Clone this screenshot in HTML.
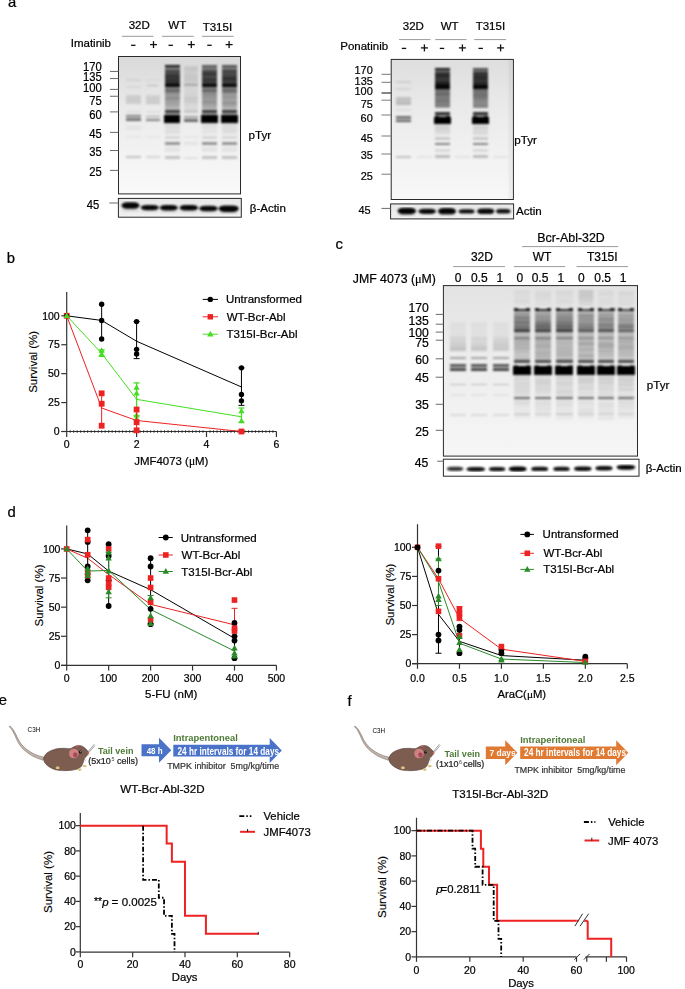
<!DOCTYPE html>
<html><head><meta charset="utf-8"><style>
html,body{margin:0;padding:0;background:#fff;}
body{width:685px;height:989px;overflow:hidden;}
svg{display:block;}
text{font-family:"Liberation Sans", sans-serif;filter:url(#tb);}
</style></head><body>
<svg width="685" height="989" viewBox="0 0 685 989">
<defs>
<filter id="bl" x="-5%" y="-5%" width="110%" height="110%"><feGaussianBlur stdDeviation="1.3 0.95"/></filter>
<filter id="bl2" x="-20%" y="-20%" width="140%" height="140%"><feGaussianBlur stdDeviation="1.2"/></filter>
<filter id="tb" x="-5%" y="-20%" width="110%" height="140%"><feGaussianBlur stdDeviation="0.3"/></filter>
</defs>
<rect width="685" height="989" fill="#fff"/>
<text x="7.97" y="7.40" font-size="14.8" fill="#000" stroke="#000" stroke-width="0.22" >a</text>
<text x="6.85" y="262.60" font-size="14.8" fill="#000" stroke="#000" stroke-width="0.22" >b</text>
<text x="335.47" y="249.20" font-size="14.8" fill="#000" stroke="#000" stroke-width="0.22" >c</text>
<text x="7.48" y="516.70" font-size="14.8" fill="#000" stroke="#000" stroke-width="0.22" >d</text>
<text x="-1.27" y="704.50" font-size="14.8" fill="#000" stroke="#000" stroke-width="0.22" >e</text>
<text x="347.47" y="705.70" font-size="14.8" fill="#000" stroke="#000" stroke-width="0.22" >f</text>
<text x="128.71" y="29.40" font-size="11.5" fill="#000" stroke="#000" stroke-width="0.22" >32D</text>
<text x="168.37" y="29.40" font-size="11.5" fill="#000" stroke="#000" stroke-width="0.22" >WT</text>
<text x="202.70" y="30.80" font-size="11.5" fill="#000" stroke="#000" stroke-width="0.22" >T315I</text>
<line x1="121.90" y1="36.30" x2="153.50" y2="36.30" stroke="#9a9a9a" stroke-width="1" />
<line x1="162.00" y1="36.30" x2="193.80" y2="36.30" stroke="#9a9a9a" stroke-width="1" />
<line x1="202.00" y1="36.30" x2="233.60" y2="36.30" stroke="#9a9a9a" stroke-width="1" />
<text x="70.74" y="47.00" font-size="11.5" fill="#000" stroke="#000" stroke-width="0.22" >Imatinib</text>
<rect x="131.10" y="44.65" width="4.40" height="1.30" fill="#111" />
<rect x="168.50" y="44.65" width="4.40" height="1.30" fill="#111" />
<rect x="207.30" y="44.65" width="4.40" height="1.30" fill="#111" />
<rect x="150.00" y="43.95" width="7.00" height="1.30" fill="#111" />
<rect x="152.85" y="41.10" width="1.30" height="7.00" fill="#111" />
<rect x="187.80" y="43.95" width="7.00" height="1.30" fill="#111" />
<rect x="190.65" y="41.10" width="1.30" height="7.00" fill="#111" />
<rect x="225.60" y="43.95" width="7.00" height="1.30" fill="#111" />
<rect x="228.45" y="41.10" width="1.30" height="7.00" fill="#111" />
<defs><linearGradient id="ga" x1="0" y1="0" x2="0" y2="1"><stop offset="0" stop-color="#d9d9d9"/><stop offset="0.38" stop-color="#eaeaea"/><stop offset="1" stop-color="#fafafa"/></linearGradient><clipPath id="gac"><rect x="118.5" y="56.5" width="122.0" height="137.4"/></clipPath></defs>
<rect x="118.50" y="56.50" width="122.00" height="137.40" fill="url(#ga)" />
<g clip-path="url(#gac)"><g filter="url(#bl)" shape-rendering="crispEdges">
<rect x="125.80" y="79.00" width="15.00" height="2.00" fill="#000" opacity="0.07"/>
<rect x="125.80" y="86.00" width="15.00" height="1.50" fill="#000" opacity="0.06"/>
<rect x="125.80" y="94.50" width="15.00" height="1.00" fill="#000" opacity="0.11054107700110086"/>
<rect x="125.80" y="95.50" width="15.00" height="1.00" fill="#000" opacity="0.10238428376880346"/>
<rect x="125.80" y="96.50" width="15.00" height="1.00" fill="#000" opacity="0.1346116239379468"/>
<rect x="125.80" y="97.50" width="15.00" height="1.00" fill="#000" opacity="0.10212395497783033"/>
<rect x="125.80" y="98.50" width="15.00" height="1.00" fill="#000" opacity="0.13215292025840136"/>
<rect x="125.80" y="99.50" width="15.00" height="1.00" fill="#000" opacity="0.12416355723697738"/>
<rect x="125.80" y="100.50" width="15.00" height="1.00" fill="#000" opacity="0.10792437993092685"/>
<rect x="125.80" y="101.50" width="15.00" height="1.00" fill="#000" opacity="0.1371128106580319"/>
<rect x="125.80" y="102.50" width="15.00" height="1.00" fill="#000" opacity="0.11113862839540799"/>
<rect x="125.80" y="111.00" width="15.00" height="2.00" fill="#000" opacity="0.06"/>
<rect x="125.80" y="115.20" width="15.00" height="2.20" fill="#000" opacity="0.45"/>
<rect x="125.80" y="118.30" width="15.00" height="2.70" fill="#000" opacity="0.5"/>
<rect x="125.80" y="126.00" width="15.00" height="4.00" fill="#000" opacity="0.04"/>
<rect x="125.80" y="136.00" width="15.00" height="2.00" fill="#000" opacity="0.04"/>
<rect x="125.80" y="156.00" width="15.00" height="2.30" fill="#000" opacity="0.2"/>
<rect x="145.80" y="79.00" width="14.00" height="2.00" fill="#000" opacity="0.04"/>
<rect x="147.20" y="84.50" width="11.20" height="1.50" fill="#000" opacity="0.2"/>
<rect x="145.80" y="94.50" width="14.00" height="1.00" fill="#000" opacity="0.10712985213085426"/>
<rect x="145.80" y="95.50" width="14.00" height="1.00" fill="#000" opacity="0.08752465874781049"/>
<rect x="145.80" y="96.50" width="14.00" height="1.00" fill="#000" opacity="0.09099833635618745"/>
<rect x="145.80" y="97.50" width="14.00" height="1.00" fill="#000" opacity="0.11324892912632863"/>
<rect x="145.80" y="98.50" width="14.00" height="1.00" fill="#000" opacity="0.13961112748032228"/>
<rect x="145.80" y="99.50" width="14.00" height="1.00" fill="#000" opacity="0.09965033989120096"/>
<rect x="145.80" y="100.50" width="14.00" height="1.00" fill="#000" opacity="0.10783878232086531"/>
<rect x="145.80" y="101.50" width="14.00" height="1.00" fill="#000" opacity="0.13431266001100203"/>
<rect x="145.80" y="102.50" width="14.00" height="1.00" fill="#000" opacity="0.1557514254363092"/>
<rect x="145.80" y="111.00" width="14.00" height="2.00" fill="#000" opacity="0.05"/>
<rect x="145.80" y="115.50" width="14.00" height="1.80" fill="#000" opacity="0.35"/>
<rect x="145.80" y="118.50" width="14.00" height="2.50" fill="#000" opacity="0.45"/>
<rect x="145.80" y="136.00" width="14.00" height="2.00" fill="#000" opacity="0.03"/>
<rect x="145.80" y="156.00" width="14.00" height="2.30" fill="#000" opacity="0.13"/>
<rect x="164.70" y="65.40" width="15.00" height="2.00" fill="#000" opacity="0.9"/>
<rect x="164.70" y="67.40" width="15.00" height="2.10" fill="#000" opacity="0.45"/>
<rect x="164.70" y="69.50" width="15.00" height="1.00" fill="#000" opacity="0.7252804797649227"/>
<rect x="164.70" y="70.50" width="15.00" height="1.00" fill="#000" opacity="0.636731318649129"/>
<rect x="164.70" y="71.50" width="15.00" height="1.00" fill="#000" opacity="0.6989237512485428"/>
<rect x="164.70" y="72.50" width="15.00" height="1.00" fill="#000" opacity="0.6352386783689694"/>
<rect x="164.70" y="73.50" width="15.00" height="1.00" fill="#000" opacity="0.7441559163558482"/>
<rect x="164.70" y="74.50" width="15.00" height="1.00" fill="#000" opacity="0.7678485799733605"/>
<rect x="164.70" y="75.50" width="15.00" height="1.00" fill="#000" opacity="0.7454772538926573"/>
<rect x="164.70" y="76.50" width="15.00" height="1.00" fill="#000" opacity="0.8021454154101836"/>
<rect x="164.70" y="77.50" width="15.00" height="1.00" fill="#000" opacity="0.7205444296419024"/>
<rect x="164.70" y="78.50" width="15.00" height="1.00" fill="#000" opacity="0.789867948258958"/>
<rect x="164.70" y="79.50" width="15.00" height="1.00" fill="#000" opacity="0.7819957320609409"/>
<rect x="164.70" y="80.50" width="15.00" height="1.00" fill="#000" opacity="0.7879556464783023"/>
<rect x="164.70" y="81.50" width="15.00" height="1.00" fill="#000" opacity="0.776441128870295"/>
<rect x="164.70" y="82.50" width="15.00" height="1.00" fill="#000" opacity="0.8461189828130411"/>
<rect x="164.70" y="83.50" width="15.00" height="0.50" fill="#000" opacity="0.8690800097000287"/>
<rect x="164.70" y="84.00" width="15.00" height="2.80" fill="#000" opacity="0.96"/>
<rect x="164.70" y="86.80" width="15.00" height="1.70" fill="#000" opacity="0.42"/>
<rect x="164.70" y="88.50" width="15.00" height="3.00" fill="#000" opacity="0.55"/>
<rect x="164.70" y="91.50" width="15.00" height="1.50" fill="#000" opacity="0.42"/>
<rect x="164.70" y="93.00" width="15.00" height="1.00" fill="#000" opacity="0.3548918004903573"/>
<rect x="164.70" y="94.00" width="15.00" height="1.00" fill="#000" opacity="0.37369826465696093"/>
<rect x="164.70" y="95.00" width="15.00" height="1.00" fill="#000" opacity="0.29728033131166637"/>
<rect x="164.70" y="96.00" width="15.00" height="1.00" fill="#000" opacity="0.37017904255653084"/>
<rect x="164.70" y="97.00" width="15.00" height="1.00" fill="#000" opacity="0.3596554625433202"/>
<rect x="164.70" y="98.00" width="15.00" height="1.00" fill="#000" opacity="0.39717151273599605"/>
<rect x="164.70" y="99.00" width="15.00" height="1.00" fill="#000" opacity="0.3726309743931657"/>
<rect x="164.70" y="100.00" width="15.00" height="1.00" fill="#000" opacity="0.3041514638512979"/>
<rect x="164.70" y="101.00" width="15.00" height="1.00" fill="#000" opacity="0.3122949730936053"/>
<rect x="164.70" y="102.00" width="15.00" height="1.00" fill="#000" opacity="0.3422383259061026"/>
<rect x="164.70" y="103.00" width="15.00" height="1.00" fill="#000" opacity="0.2607075513666706"/>
<rect x="164.70" y="104.00" width="15.00" height="1.00" fill="#000" opacity="0.3094034343559719"/>
<rect x="164.70" y="105.00" width="15.00" height="1.00" fill="#000" opacity="0.2701658054687853"/>
<rect x="164.70" y="106.00" width="15.00" height="1.00" fill="#000" opacity="0.2600514953378078"/>
<rect x="164.70" y="107.00" width="15.00" height="1.00" fill="#000" opacity="0.24907453031975724"/>
<rect x="164.70" y="108.00" width="15.00" height="1.80" fill="#000" opacity="0.2"/>
<rect x="164.70" y="109.80" width="15.00" height="3.10" fill="#000" opacity="0.74"/>
<rect x="164.70" y="112.90" width="15.00" height="2.10" fill="#000" opacity="0.3"/>
<rect x="163.95" y="115.00" width="16.50" height="7.70" fill="#000" opacity="1.0"/>
<rect x="164.70" y="114.70" width="4.20" height="8.30" fill="#000" opacity="0.85"/>
<rect x="175.50" y="114.70" width="4.20" height="8.30" fill="#000" opacity="0.85"/>
<rect x="164.70" y="123.00" width="15.00" height="1.00" fill="#000" opacity="0.08936568317526447"/>
<rect x="164.70" y="124.00" width="15.00" height="1.00" fill="#000" opacity="0.06108269978983828"/>
<rect x="164.70" y="125.00" width="15.00" height="1.00" fill="#000" opacity="0.06308641152969476"/>
<rect x="164.70" y="126.00" width="15.00" height="1.00" fill="#000" opacity="0.06609253357987455"/>
<rect x="164.70" y="127.00" width="15.00" height="1.00" fill="#000" opacity="0.0825841516923247"/>
<rect x="164.70" y="128.00" width="15.00" height="1.00" fill="#000" opacity="0.048223252048005545"/>
<rect x="164.70" y="129.00" width="15.00" height="1.00" fill="#000" opacity="0.06024022331070051"/>
<rect x="164.70" y="130.00" width="15.00" height="1.00" fill="#000" opacity="0.06152305091121605"/>
<rect x="164.70" y="131.00" width="15.00" height="1.00" fill="#000" opacity="0.07215353487584232"/>
<rect x="164.70" y="132.00" width="15.00" height="1.00" fill="#000" opacity="0.06686210260433874"/>
<rect x="164.70" y="133.00" width="15.00" height="1.00" fill="#000" opacity="0.06592301515157697"/>
<rect x="164.70" y="136.00" width="15.00" height="2.50" fill="#000" opacity="0.1"/>
<rect x="164.70" y="142.20" width="15.00" height="3.00" fill="#000" opacity="0.38"/>
<rect x="164.70" y="147.00" width="15.00" height="5.00" fill="#000" opacity="0.06"/>
<rect x="164.70" y="155.50" width="15.00" height="3.00" fill="#000" opacity="0.2"/>
<rect x="183.60" y="66.00" width="14.00" height="1.00" fill="#000" opacity="0.09545951025038325"/>
<rect x="183.60" y="67.00" width="14.00" height="1.00" fill="#000" opacity="0.08630082847904681"/>
<rect x="183.60" y="68.00" width="14.00" height="1.00" fill="#000" opacity="0.12274197300224186"/>
<rect x="183.60" y="69.00" width="14.00" height="1.00" fill="#000" opacity="0.0686282941703987"/>
<rect x="183.60" y="70.00" width="14.00" height="1.00" fill="#000" opacity="0.11900810754292077"/>
<rect x="183.60" y="71.00" width="14.00" height="1.00" fill="#000" opacity="0.08654322384656724"/>
<rect x="183.60" y="72.00" width="14.00" height="1.00" fill="#000" opacity="0.07948863833477958"/>
<rect x="183.60" y="73.00" width="14.00" height="1.00" fill="#000" opacity="0.07956753428470209"/>
<rect x="183.60" y="74.00" width="14.00" height="1.00" fill="#000" opacity="0.09267557611278272"/>
<rect x="183.60" y="75.00" width="14.00" height="1.00" fill="#000" opacity="0.12480091488053521"/>
<rect x="183.60" y="76.00" width="14.00" height="1.00" fill="#000" opacity="0.08834358279543625"/>
<rect x="183.60" y="77.00" width="14.00" height="1.00" fill="#000" opacity="0.11406267648641463"/>
<rect x="183.60" y="78.00" width="14.00" height="1.00" fill="#000" opacity="0.11916814146890436"/>
<rect x="183.60" y="79.00" width="14.00" height="1.00" fill="#000" opacity="0.10484385256354387"/>
<rect x="183.60" y="80.00" width="14.00" height="1.00" fill="#000" opacity="0.11703133460924015"/>
<rect x="183.60" y="81.00" width="14.00" height="1.00" fill="#000" opacity="0.08960067183173272"/>
<rect x="183.60" y="82.00" width="14.00" height="1.00" fill="#000" opacity="0.09107607019797395"/>
<rect x="183.60" y="83.00" width="14.00" height="1.00" fill="#000" opacity="0.10152418943582625"/>
<rect x="183.60" y="84.40" width="14.00" height="1.60" fill="#000" opacity="0.28"/>
<rect x="183.60" y="86.50" width="14.00" height="1.00" fill="#000" opacity="0.07721599892727145"/>
<rect x="183.60" y="87.50" width="14.00" height="1.00" fill="#000" opacity="0.06710369222677612"/>
<rect x="183.60" y="88.50" width="14.00" height="1.00" fill="#000" opacity="0.06256588681507166"/>
<rect x="183.60" y="89.50" width="14.00" height="1.00" fill="#000" opacity="0.07342247454030555"/>
<rect x="183.60" y="90.50" width="14.00" height="1.00" fill="#000" opacity="0.06812737505483102"/>
<rect x="183.60" y="91.50" width="14.00" height="1.00" fill="#000" opacity="0.0619906798745473"/>
<rect x="183.60" y="92.50" width="14.00" height="1.00" fill="#000" opacity="0.08177517926089965"/>
<rect x="183.60" y="93.50" width="14.00" height="1.00" fill="#000" opacity="0.07795977734918286"/>
<rect x="183.60" y="94.50" width="14.00" height="1.00" fill="#000" opacity="0.05976386042888612"/>
<rect x="183.60" y="95.50" width="14.00" height="0.50" fill="#000" opacity="0.07297694841034685"/>
<rect x="183.60" y="96.00" width="14.00" height="7.00" fill="#000" opacity="0.12"/>
<rect x="183.60" y="103.00" width="14.00" height="1.00" fill="#000" opacity="0.07100786015245807"/>
<rect x="183.60" y="104.00" width="14.00" height="1.00" fill="#000" opacity="0.08500549982293716"/>
<rect x="183.60" y="105.00" width="14.00" height="1.00" fill="#000" opacity="0.07917781157756872"/>
<rect x="183.60" y="106.00" width="14.00" height="1.00" fill="#000" opacity="0.061517510595607464"/>
<rect x="183.60" y="107.00" width="14.00" height="1.00" fill="#000" opacity="0.0892069938997033"/>
<rect x="183.60" y="108.00" width="14.00" height="1.00" fill="#000" opacity="0.05472263113019849"/>
<rect x="183.60" y="109.00" width="14.00" height="0.50" fill="#000" opacity="0.0667249128714091"/>
<rect x="183.60" y="110.20" width="14.00" height="2.60" fill="#000" opacity="0.15"/>
<rect x="183.60" y="115.60" width="14.00" height="2.00" fill="#000" opacity="0.32"/>
<rect x="183.60" y="119.20" width="14.00" height="2.60" fill="#000" opacity="0.55"/>
<rect x="183.60" y="136.00" width="14.00" height="2.00" fill="#000" opacity="0.04"/>
<rect x="183.60" y="142.00" width="14.00" height="2.50" fill="#000" opacity="0.06"/>
<rect x="183.60" y="156.50" width="14.00" height="2.00" fill="#000" opacity="0.08"/>
<rect x="202.20" y="65.40" width="15.00" height="2.00" fill="#000" opacity="0.5850000000000001"/>
<rect x="202.20" y="67.40" width="15.00" height="2.10" fill="#000" opacity="0.45"/>
<rect x="202.20" y="69.50" width="15.00" height="1.00" fill="#000" opacity="0.6486853013567064"/>
<rect x="202.20" y="70.50" width="15.00" height="1.00" fill="#000" opacity="0.6788612358573201"/>
<rect x="202.20" y="71.50" width="15.00" height="1.00" fill="#000" opacity="0.6780930416254738"/>
<rect x="202.20" y="72.50" width="15.00" height="1.00" fill="#000" opacity="0.770436369593094"/>
<rect x="202.20" y="73.50" width="15.00" height="1.00" fill="#000" opacity="0.7904783719445835"/>
<rect x="202.20" y="74.50" width="15.00" height="1.00" fill="#000" opacity="0.6696645863058879"/>
<rect x="202.20" y="75.50" width="15.00" height="1.00" fill="#000" opacity="0.6819879400067351"/>
<rect x="202.20" y="76.50" width="15.00" height="1.00" fill="#000" opacity="0.6991820642083671"/>
<rect x="202.20" y="77.50" width="15.00" height="1.00" fill="#000" opacity="0.7076786009751447"/>
<rect x="202.20" y="78.50" width="15.00" height="1.00" fill="#000" opacity="0.7562147265097896"/>
<rect x="202.20" y="79.50" width="15.00" height="1.00" fill="#000" opacity="0.7811563123212989"/>
<rect x="202.20" y="80.50" width="15.00" height="1.00" fill="#000" opacity="0.7372118728808696"/>
<rect x="202.20" y="81.50" width="15.00" height="1.00" fill="#000" opacity="0.7041032524036792"/>
<rect x="202.20" y="82.50" width="15.00" height="1.00" fill="#000" opacity="0.778755578111087"/>
<rect x="202.20" y="83.50" width="15.00" height="0.50" fill="#000" opacity="0.7770116061459148"/>
<rect x="202.20" y="84.00" width="15.00" height="2.80" fill="#000" opacity="0.96"/>
<rect x="202.20" y="86.80" width="15.00" height="1.70" fill="#000" opacity="0.42"/>
<rect x="202.20" y="88.50" width="15.00" height="3.00" fill="#000" opacity="0.55"/>
<rect x="202.20" y="91.50" width="15.00" height="1.50" fill="#000" opacity="0.42"/>
<rect x="202.20" y="93.00" width="15.00" height="1.00" fill="#000" opacity="0.365960946844767"/>
<rect x="202.20" y="94.00" width="15.00" height="1.00" fill="#000" opacity="0.40837175106301143"/>
<rect x="202.20" y="95.00" width="15.00" height="1.00" fill="#000" opacity="0.37285923885631733"/>
<rect x="202.20" y="96.00" width="15.00" height="1.00" fill="#000" opacity="0.34785897196849336"/>
<rect x="202.20" y="97.00" width="15.00" height="1.00" fill="#000" opacity="0.35611112992909527"/>
<rect x="202.20" y="98.00" width="15.00" height="1.00" fill="#000" opacity="0.35914400989394013"/>
<rect x="202.20" y="99.00" width="15.00" height="1.00" fill="#000" opacity="0.2804791471868548"/>
<rect x="202.20" y="100.00" width="15.00" height="1.00" fill="#000" opacity="0.3779439612069542"/>
<rect x="202.20" y="101.00" width="15.00" height="1.00" fill="#000" opacity="0.35959633888472875"/>
<rect x="202.20" y="102.00" width="15.00" height="1.00" fill="#000" opacity="0.3669415820961372"/>
<rect x="202.20" y="103.00" width="15.00" height="1.00" fill="#000" opacity="0.35374477454358794"/>
<rect x="202.20" y="104.00" width="15.00" height="1.00" fill="#000" opacity="0.30108546882695225"/>
<rect x="202.20" y="105.00" width="15.00" height="1.00" fill="#000" opacity="0.2978774598784327"/>
<rect x="202.20" y="106.00" width="15.00" height="1.00" fill="#000" opacity="0.25842445124523894"/>
<rect x="202.20" y="107.00" width="15.00" height="1.00" fill="#000" opacity="0.3181147478822851"/>
<rect x="202.20" y="108.00" width="15.00" height="1.80" fill="#000" opacity="0.2"/>
<rect x="202.20" y="109.80" width="15.00" height="3.10" fill="#000" opacity="0.74"/>
<rect x="202.20" y="112.90" width="15.00" height="2.10" fill="#000" opacity="0.3"/>
<rect x="201.45" y="115.00" width="16.50" height="7.70" fill="#000" opacity="1.0"/>
<rect x="202.20" y="114.70" width="4.20" height="8.30" fill="#000" opacity="0.85"/>
<rect x="213.00" y="114.70" width="4.20" height="8.30" fill="#000" opacity="0.85"/>
<rect x="202.20" y="123.00" width="15.00" height="1.00" fill="#000" opacity="0.061126276501111146"/>
<rect x="202.20" y="124.00" width="15.00" height="1.00" fill="#000" opacity="0.058602995542811905"/>
<rect x="202.20" y="125.00" width="15.00" height="1.00" fill="#000" opacity="0.06153234559966476"/>
<rect x="202.20" y="126.00" width="15.00" height="1.00" fill="#000" opacity="0.05694667296542936"/>
<rect x="202.20" y="127.00" width="15.00" height="1.00" fill="#000" opacity="0.06132941881656647"/>
<rect x="202.20" y="128.00" width="15.00" height="1.00" fill="#000" opacity="0.047103024155610684"/>
<rect x="202.20" y="129.00" width="15.00" height="1.00" fill="#000" opacity="0.04228205854878153"/>
<rect x="202.20" y="130.00" width="15.00" height="1.00" fill="#000" opacity="0.04559605183663167"/>
<rect x="202.20" y="131.00" width="15.00" height="1.00" fill="#000" opacity="0.04087675653908568"/>
<rect x="202.20" y="132.00" width="15.00" height="1.00" fill="#000" opacity="0.04863530597229193"/>
<rect x="202.20" y="133.00" width="15.00" height="1.00" fill="#000" opacity="0.03238367183028219"/>
<rect x="202.20" y="136.00" width="15.00" height="2.50" fill="#000" opacity="0.1"/>
<rect x="202.20" y="142.20" width="15.00" height="3.00" fill="#000" opacity="0.38"/>
<rect x="202.20" y="147.00" width="15.00" height="5.00" fill="#000" opacity="0.06"/>
<rect x="202.20" y="155.50" width="15.00" height="3.00" fill="#000" opacity="0.2"/>
<rect x="222.20" y="65.40" width="15.00" height="2.00" fill="#000" opacity="0.63"/>
<rect x="222.20" y="67.40" width="15.00" height="2.10" fill="#000" opacity="0.45"/>
<rect x="222.20" y="69.50" width="15.00" height="1.00" fill="#000" opacity="0.744031111414294"/>
<rect x="222.20" y="70.50" width="15.00" height="1.00" fill="#000" opacity="0.7106648311496049"/>
<rect x="222.20" y="71.50" width="15.00" height="1.00" fill="#000" opacity="0.6444577328253565"/>
<rect x="222.20" y="72.50" width="15.00" height="1.00" fill="#000" opacity="0.6693267582905117"/>
<rect x="222.20" y="73.50" width="15.00" height="1.00" fill="#000" opacity="0.6928237066789372"/>
<rect x="222.20" y="74.50" width="15.00" height="1.00" fill="#000" opacity="0.7037833917038356"/>
<rect x="222.20" y="75.50" width="15.00" height="1.00" fill="#000" opacity="0.6734478603702271"/>
<rect x="222.20" y="76.50" width="15.00" height="1.00" fill="#000" opacity="0.7978988737547799"/>
<rect x="222.20" y="77.50" width="15.00" height="1.00" fill="#000" opacity="0.8292412630589612"/>
<rect x="222.20" y="78.50" width="15.00" height="1.00" fill="#000" opacity="0.7531790031207619"/>
<rect x="222.20" y="79.50" width="15.00" height="1.00" fill="#000" opacity="0.764310096750741"/>
<rect x="222.20" y="80.50" width="15.00" height="1.00" fill="#000" opacity="0.70891395964209"/>
<rect x="222.20" y="81.50" width="15.00" height="1.00" fill="#000" opacity="0.7197982945417759"/>
<rect x="222.20" y="82.50" width="15.00" height="1.00" fill="#000" opacity="0.7665458720499148"/>
<rect x="222.20" y="83.50" width="15.00" height="0.50" fill="#000" opacity="0.7602921371575075"/>
<rect x="222.20" y="84.00" width="15.00" height="2.80" fill="#000" opacity="0.96"/>
<rect x="222.20" y="86.80" width="15.00" height="1.70" fill="#000" opacity="0.42"/>
<rect x="222.20" y="88.50" width="15.00" height="3.00" fill="#000" opacity="0.55"/>
<rect x="222.20" y="91.50" width="15.00" height="1.50" fill="#000" opacity="0.42"/>
<rect x="222.20" y="93.00" width="15.00" height="1.00" fill="#000" opacity="0.39746264537458725"/>
<rect x="222.20" y="94.00" width="15.00" height="1.00" fill="#000" opacity="0.3133726332631718"/>
<rect x="222.20" y="95.00" width="15.00" height="1.00" fill="#000" opacity="0.2927714865254298"/>
<rect x="222.20" y="96.00" width="15.00" height="1.00" fill="#000" opacity="0.40011826874496426"/>
<rect x="222.20" y="97.00" width="15.00" height="1.00" fill="#000" opacity="0.34539088740505497"/>
<rect x="222.20" y="98.00" width="15.00" height="1.00" fill="#000" opacity="0.2955923046678909"/>
<rect x="222.20" y="99.00" width="15.00" height="1.00" fill="#000" opacity="0.3391806911058537"/>
<rect x="222.20" y="100.00" width="15.00" height="1.00" fill="#000" opacity="0.2732450989706602"/>
<rect x="222.20" y="101.00" width="15.00" height="1.00" fill="#000" opacity="0.3293731329125968"/>
<rect x="222.20" y="102.00" width="15.00" height="1.00" fill="#000" opacity="0.37942014912627675"/>
<rect x="222.20" y="103.00" width="15.00" height="1.00" fill="#000" opacity="0.3615990036347603"/>
<rect x="222.20" y="104.00" width="15.00" height="1.00" fill="#000" opacity="0.3375436143089362"/>
<rect x="222.20" y="105.00" width="15.00" height="1.00" fill="#000" opacity="0.2813338236675234"/>
<rect x="222.20" y="106.00" width="15.00" height="1.00" fill="#000" opacity="0.29000397501134145"/>
<rect x="222.20" y="107.00" width="15.00" height="1.00" fill="#000" opacity="0.26204504414412033"/>
<rect x="222.20" y="108.00" width="15.00" height="1.80" fill="#000" opacity="0.2"/>
<rect x="222.20" y="109.80" width="15.00" height="3.10" fill="#000" opacity="0.74"/>
<rect x="222.20" y="112.90" width="15.00" height="2.10" fill="#000" opacity="0.3"/>
<rect x="221.45" y="115.00" width="16.50" height="7.70" fill="#000" opacity="1.0"/>
<rect x="222.20" y="114.70" width="4.20" height="8.30" fill="#000" opacity="0.85"/>
<rect x="233.00" y="114.70" width="4.20" height="8.30" fill="#000" opacity="0.85"/>
<rect x="222.20" y="123.00" width="15.00" height="1.00" fill="#000" opacity="0.08951387997244489"/>
<rect x="222.20" y="124.00" width="15.00" height="1.00" fill="#000" opacity="0.07721278680880607"/>
<rect x="222.20" y="125.00" width="15.00" height="1.00" fill="#000" opacity="0.08434401383534526"/>
<rect x="222.20" y="126.00" width="15.00" height="1.00" fill="#000" opacity="0.06364114525645596"/>
<rect x="222.20" y="127.00" width="15.00" height="1.00" fill="#000" opacity="0.05664893965140014"/>
<rect x="222.20" y="128.00" width="15.00" height="1.00" fill="#000" opacity="0.0774604498709438"/>
<rect x="222.20" y="129.00" width="15.00" height="1.00" fill="#000" opacity="0.08166976929636291"/>
<rect x="222.20" y="130.00" width="15.00" height="1.00" fill="#000" opacity="0.07365060649532097"/>
<rect x="222.20" y="131.00" width="15.00" height="1.00" fill="#000" opacity="0.06906132520960852"/>
<rect x="222.20" y="132.00" width="15.00" height="1.00" fill="#000" opacity="0.06682422682392403"/>
<rect x="222.20" y="133.00" width="15.00" height="1.00" fill="#000" opacity="0.06095855717866493"/>
<rect x="222.20" y="136.00" width="15.00" height="2.50" fill="#000" opacity="0.1"/>
<rect x="222.20" y="142.20" width="15.00" height="3.00" fill="#000" opacity="0.38"/>
<rect x="222.20" y="147.00" width="15.00" height="5.00" fill="#000" opacity="0.06"/>
<rect x="222.20" y="155.50" width="15.00" height="3.00" fill="#000" opacity="0.2"/>
</g></g>
<rect x="118.5" y="56.5" width="122.0" height="137.4" fill="none" stroke="#2a2a2a" stroke-width="1"/>
<defs><linearGradient id="gaa" x1="0" y1="0" x2="0" y2="1"><stop offset="0" stop-color="#e8e8e8"/><stop offset="1" stop-color="#f2f2f2"/></linearGradient><clipPath id="gaac"><rect x="118.4" y="198.4" width="122.9" height="18.799999999999983"/></clipPath></defs>
<rect x="118.40" y="198.40" width="122.90" height="18.80" fill="url(#gaa)" />
<g clip-path="url(#gaac)"><g filter="url(#bl)">
<rect x="121.50" y="202.20" width="18.00" height="6.60" fill="#000" opacity="0.98" rx="5.40" ry="3.30"/>
<rect x="121.50" y="209.50" width="18.00" height="2.00" fill="#000" opacity="0.12" rx="5.40" ry="1.00"/>
<rect x="140.80" y="204.90" width="18.00" height="5.40" fill="#000" opacity="0.97" rx="5.40" ry="2.70"/>
<rect x="140.80" y="210.50" width="18.00" height="1.50" fill="#000" opacity="0.1" rx="5.40" ry="0.75"/>
<rect x="159.80" y="205.00" width="18.00" height="5.50" fill="#000" opacity="0.98" rx="5.40" ry="2.75"/>
<rect x="159.80" y="210.80" width="18.00" height="1.70" fill="#000" opacity="0.12" rx="5.40" ry="0.85"/>
<rect x="179.55" y="205.00" width="18.50" height="5.50" fill="#000" opacity="0.98" rx="5.55" ry="2.75"/>
<rect x="179.55" y="210.80" width="18.50" height="1.70" fill="#000" opacity="0.1" rx="5.55" ry="0.85"/>
<rect x="199.25" y="205.70" width="18.50" height="5.60" fill="#000" opacity="0.97" rx="5.55" ry="2.80"/>
<rect x="199.25" y="211.50" width="18.50" height="1.50" fill="#000" opacity="0.12" rx="5.55" ry="0.75"/>
<rect x="218.70" y="205.40" width="20.00" height="6.60" fill="#000" opacity="0.99" rx="6.00" ry="3.30"/>
<rect x="218.70" y="212.00" width="20.00" height="1.50" fill="#000" opacity="0.15" rx="6.00" ry="0.75"/>
</g></g>
<rect x="118.4" y="198.4" width="122.9" height="18.799999999999983" fill="none" stroke="#2a2a2a" stroke-width="1"/>
<text x="0" y="0" transform="translate(82.96 70.70) scale(0.93 1)" font-size="12.1" fill="#000" stroke="#000" stroke-width="0.22" >170</text>
<text x="0" y="0" transform="translate(83.00 81.40) scale(0.93 1)" font-size="12.1" fill="#000" stroke="#000" stroke-width="0.22" >135</text>
<text x="0" y="0" transform="translate(82.96 91.60) scale(0.93 1)" font-size="12.1" fill="#000" stroke="#000" stroke-width="0.22" >100</text>
<text x="0" y="0" transform="translate(89.26 104.60) scale(0.93 1)" font-size="12.1" fill="#000" stroke="#000" stroke-width="0.22" >75</text>
<text x="0" y="0" transform="translate(89.22 118.60) scale(0.93 1)" font-size="12.1" fill="#000" stroke="#000" stroke-width="0.22" >60</text>
<text x="0" y="0" transform="translate(89.26 138.30) scale(0.93 1)" font-size="12.1" fill="#000" stroke="#000" stroke-width="0.22" >45</text>
<text x="0" y="0" transform="translate(89.26 155.50) scale(0.93 1)" font-size="12.1" fill="#000" stroke="#000" stroke-width="0.22" >35</text>
<text x="0" y="0" transform="translate(89.26 175.70) scale(0.93 1)" font-size="12.1" fill="#000" stroke="#000" stroke-width="0.22" >25</text>
<text x="0" y="0" transform="translate(86.86 208.70) scale(0.93 1)" font-size="12.1" fill="#000" stroke="#000" stroke-width="0.22" >45</text>
<line x1="110.00" y1="71.45" x2="118.50" y2="71.45" stroke="#6a6a6a" stroke-width="1" />
<line x1="110.00" y1="78.55" x2="118.50" y2="78.55" stroke="#6a6a6a" stroke-width="1" />
<line x1="110.00" y1="89.40" x2="118.50" y2="89.40" stroke="#6a6a6a" stroke-width="1" />
<line x1="110.00" y1="96.25" x2="118.50" y2="96.25" stroke="#6a6a6a" stroke-width="1" />
<line x1="110.00" y1="111.90" x2="118.50" y2="111.90" stroke="#6a6a6a" stroke-width="1" />
<line x1="110.00" y1="132.40" x2="118.50" y2="132.40" stroke="#6a6a6a" stroke-width="1" />
<line x1="110.00" y1="150.50" x2="118.50" y2="150.50" stroke="#6a6a6a" stroke-width="1" />
<line x1="110.00" y1="170.40" x2="118.50" y2="170.40" stroke="#6a6a6a" stroke-width="1" />
<line x1="109.40" y1="203.00" x2="118.40" y2="203.00" stroke="#6a6a6a" stroke-width="1" />
<text x="248.55" y="138.60" font-size="11.6" fill="#000" stroke="#000" stroke-width="0.22" >pTyr</text>
<text x="249.80" y="211.60" font-size="11.5" fill="#000" stroke="#000" stroke-width="0.22" >β-Actin</text>
<text x="402.81" y="30.40" font-size="11.5" fill="#000" stroke="#000" stroke-width="0.22" >32D</text>
<text x="440.77" y="30.40" font-size="11.5" fill="#000" stroke="#000" stroke-width="0.22" >WT</text>
<text x="475.70" y="30.00" font-size="11.5" fill="#000" stroke="#000" stroke-width="0.22" >T315I</text>
<line x1="399.00" y1="39.60" x2="430.50" y2="39.60" stroke="#9a9a9a" stroke-width="1" />
<line x1="435.20" y1="39.60" x2="466.50" y2="39.60" stroke="#9a9a9a" stroke-width="1" />
<line x1="474.20" y1="39.60" x2="506.00" y2="39.60" stroke="#9a9a9a" stroke-width="1" />
<text x="340.26" y="49.90" font-size="11.5" fill="#000" stroke="#000" stroke-width="0.22" >Ponatinib</text>
<rect x="401.80" y="47.75" width="4.40" height="1.30" fill="#111" />
<rect x="439.80" y="47.75" width="4.40" height="1.30" fill="#111" />
<rect x="478.50" y="47.75" width="4.40" height="1.30" fill="#111" />
<rect x="420.90" y="47.25" width="7.00" height="1.30" fill="#111" />
<rect x="423.75" y="44.40" width="1.30" height="7.00" fill="#111" />
<rect x="458.90" y="47.25" width="7.00" height="1.30" fill="#111" />
<rect x="461.75" y="44.40" width="1.30" height="7.00" fill="#111" />
<rect x="497.10" y="47.25" width="7.00" height="1.30" fill="#111" />
<rect x="499.95" y="44.40" width="1.30" height="7.00" fill="#111" />
<defs><linearGradient id="gb" x1="0" y1="0" x2="0" y2="1"><stop offset="0" stop-color="#dedede"/><stop offset="0.38" stop-color="#ebebeb"/><stop offset="1" stop-color="#f8f8f8"/></linearGradient><clipPath id="gbc"><rect x="391.2" y="59.4" width="122.19999999999999" height="140.1"/></clipPath></defs>
<rect x="391.20" y="59.40" width="122.20" height="140.10" fill="url(#gb)" />
<g clip-path="url(#gbc)"><g filter="url(#bl)" shape-rendering="crispEdges">
<rect x="396.00" y="81.00" width="15.00" height="2.00" fill="#000" opacity="0.1"/>
<rect x="396.00" y="88.00" width="15.00" height="2.00" fill="#000" opacity="0.08"/>
<rect x="396.00" y="97.00" width="15.00" height="1.00" fill="#000" opacity="0.15126415920252678"/>
<rect x="396.00" y="98.00" width="15.00" height="1.00" fill="#000" opacity="0.18078609793948044"/>
<rect x="396.00" y="99.00" width="15.00" height="1.00" fill="#000" opacity="0.17407000346839666"/>
<rect x="396.00" y="100.00" width="15.00" height="1.00" fill="#000" opacity="0.15419341205930925"/>
<rect x="396.00" y="101.00" width="15.00" height="1.00" fill="#000" opacity="0.16035996603376515"/>
<rect x="396.00" y="102.00" width="15.00" height="1.00" fill="#000" opacity="0.18672848312392237"/>
<rect x="396.00" y="103.00" width="15.00" height="1.00" fill="#000" opacity="0.19135894906142054"/>
<rect x="396.00" y="104.00" width="15.00" height="1.00" fill="#000" opacity="0.23227675533600986"/>
<rect x="396.00" y="109.00" width="15.00" height="2.00" fill="#000" opacity="0.06"/>
<rect x="396.00" y="116.30" width="15.00" height="2.20" fill="#000" opacity="0.5"/>
<rect x="396.00" y="119.60" width="15.00" height="2.80" fill="#000" opacity="0.62"/>
<rect x="396.00" y="155.80" width="15.00" height="1.70" fill="#000" opacity="0.2"/>
<rect x="416.50" y="156.00" width="15.00" height="1.50" fill="#000" opacity="0.06"/>
<rect x="435.10" y="68.20" width="15.00" height="1.80" fill="#000" opacity="0.9"/>
<rect x="435.10" y="70.00" width="15.00" height="1.50" fill="#000" opacity="0.5"/>
<rect x="435.10" y="71.50" width="15.00" height="1.00" fill="#000" opacity="0.7889845744559032"/>
<rect x="435.10" y="72.50" width="15.00" height="1.00" fill="#000" opacity="0.7278292661916891"/>
<rect x="435.10" y="73.50" width="15.00" height="1.00" fill="#000" opacity="0.8065452870192537"/>
<rect x="435.10" y="74.50" width="15.00" height="1.00" fill="#000" opacity="0.823832574525212"/>
<rect x="435.10" y="75.50" width="15.00" height="1.00" fill="#000" opacity="0.8293522622980302"/>
<rect x="435.10" y="76.50" width="15.00" height="1.00" fill="#000" opacity="0.7568461253999367"/>
<rect x="435.10" y="77.50" width="15.00" height="1.00" fill="#000" opacity="0.7468067542049804"/>
<rect x="435.10" y="78.50" width="15.00" height="1.00" fill="#000" opacity="0.757845372264041"/>
<rect x="435.10" y="79.50" width="15.00" height="1.00" fill="#000" opacity="0.7637707469366753"/>
<rect x="435.10" y="80.50" width="15.00" height="1.00" fill="#000" opacity="0.7749890824528741"/>
<rect x="435.10" y="81.50" width="15.00" height="1.00" fill="#000" opacity="0.8438910347717293"/>
<rect x="435.10" y="82.50" width="15.00" height="1.00" fill="#000" opacity="0.8927098339704427"/>
<rect x="435.10" y="83.50" width="15.00" height="1.00" fill="#000" opacity="0.8944725680219991"/>
<rect x="435.10" y="84.50" width="15.00" height="0.80" fill="#000" opacity="0.8530683086621227"/>
<rect x="434.73" y="85.30" width="15.75" height="3.40" fill="#000" opacity="0.98"/>
<rect x="435.10" y="88.70" width="15.00" height="1.00" fill="#000" opacity="0.5388262524226117"/>
<rect x="435.10" y="89.70" width="15.00" height="1.00" fill="#000" opacity="0.5541781035535638"/>
<rect x="435.10" y="90.70" width="15.00" height="1.00" fill="#000" opacity="0.4489156202274055"/>
<rect x="435.10" y="91.70" width="15.00" height="1.00" fill="#000" opacity="0.5243472760027784"/>
<rect x="435.10" y="92.70" width="15.00" height="1.00" fill="#000" opacity="0.5540527370810754"/>
<rect x="435.10" y="93.70" width="15.00" height="1.00" fill="#000" opacity="0.5310249944473078"/>
<rect x="435.10" y="94.70" width="15.00" height="1.00" fill="#000" opacity="0.5213409078995802"/>
<rect x="435.10" y="95.70" width="15.00" height="1.00" fill="#000" opacity="0.47806448061621704"/>
<rect x="435.10" y="96.70" width="15.00" height="1.00" fill="#000" opacity="0.4309515897900582"/>
<rect x="435.10" y="97.70" width="15.00" height="1.00" fill="#000" opacity="0.5112561624153775"/>
<rect x="435.10" y="98.70" width="15.00" height="1.00" fill="#000" opacity="0.44214826290332515"/>
<rect x="435.10" y="99.70" width="15.00" height="1.00" fill="#000" opacity="0.5025298074175575"/>
<rect x="435.10" y="100.70" width="15.00" height="1.00" fill="#000" opacity="0.5212651810792639"/>
<rect x="435.10" y="101.70" width="15.00" height="1.00" fill="#000" opacity="0.4354692027812253"/>
<rect x="435.10" y="102.70" width="15.00" height="1.00" fill="#000" opacity="0.4310646208227217"/>
<rect x="435.10" y="103.70" width="15.00" height="1.00" fill="#000" opacity="0.5022407000760695"/>
<rect x="435.10" y="104.70" width="15.00" height="1.00" fill="#000" opacity="0.46597958520951555"/>
<rect x="435.10" y="105.70" width="15.00" height="1.00" fill="#000" opacity="0.3831269372665317"/>
<rect x="435.10" y="106.70" width="15.00" height="1.00" fill="#000" opacity="0.3719304491419082"/>
<rect x="435.10" y="107.70" width="15.00" height="0.30" fill="#000" opacity="0.3719383001259474"/>
<rect x="435.10" y="111.80" width="15.00" height="2.80" fill="#000" opacity="0.8"/>
<rect x="435.10" y="114.60" width="15.00" height="2.00" fill="#000" opacity="0.35"/>
<rect x="434.20" y="116.60" width="16.80" height="7.00" fill="#000" opacity="1.0"/>
<rect x="435.10" y="116.30" width="4.20" height="7.60" fill="#000" opacity="0.85"/>
<rect x="445.90" y="116.30" width="4.20" height="7.60" fill="#000" opacity="0.85"/>
<rect x="435.10" y="125.00" width="15.00" height="1.00" fill="#000" opacity="0.13279112574399435"/>
<rect x="435.10" y="126.00" width="15.00" height="1.00" fill="#000" opacity="0.12389011892193177"/>
<rect x="435.10" y="127.00" width="15.00" height="1.00" fill="#000" opacity="0.08127045852463247"/>
<rect x="435.10" y="128.00" width="15.00" height="1.00" fill="#000" opacity="0.11909062871152323"/>
<rect x="435.10" y="129.00" width="15.00" height="1.00" fill="#000" opacity="0.12531835660682183"/>
<rect x="435.10" y="130.00" width="15.00" height="1.00" fill="#000" opacity="0.1029360975641612"/>
<rect x="435.10" y="131.00" width="15.00" height="1.00" fill="#000" opacity="0.08152445072945017"/>
<rect x="435.10" y="132.00" width="15.00" height="1.00" fill="#000" opacity="0.09041960263920674"/>
<rect x="435.10" y="133.00" width="15.00" height="1.00" fill="#000" opacity="0.06235903112056703"/>
<rect x="435.10" y="134.00" width="15.00" height="1.00" fill="#000" opacity="0.052354576289366336"/>
<rect x="435.10" y="137.00" width="15.00" height="2.50" fill="#000" opacity="0.16"/>
<rect x="435.10" y="142.60" width="15.00" height="2.80" fill="#000" opacity="0.45"/>
<rect x="435.10" y="148.50" width="15.00" height="3.00" fill="#000" opacity="0.1"/>
<rect x="435.10" y="155.20" width="15.00" height="3.00" fill="#000" opacity="0.22"/>
<rect x="454.90" y="156.00" width="15.00" height="1.50" fill="#000" opacity="0.06"/>
<rect x="473.10" y="68.20" width="15.00" height="1.80" fill="#000" opacity="0.63"/>
<rect x="473.10" y="70.00" width="15.00" height="1.50" fill="#000" opacity="0.5"/>
<rect x="473.10" y="71.50" width="15.00" height="1.00" fill="#000" opacity="0.7909970885814029"/>
<rect x="473.10" y="72.50" width="15.00" height="1.00" fill="#000" opacity="0.7561718450586841"/>
<rect x="473.10" y="73.50" width="15.00" height="1.00" fill="#000" opacity="0.7490836654344475"/>
<rect x="473.10" y="74.50" width="15.00" height="1.00" fill="#000" opacity="0.8162147190848513"/>
<rect x="473.10" y="75.50" width="15.00" height="1.00" fill="#000" opacity="0.7563854950590915"/>
<rect x="473.10" y="76.50" width="15.00" height="1.00" fill="#000" opacity="0.8278411113677919"/>
<rect x="473.10" y="77.50" width="15.00" height="1.00" fill="#000" opacity="0.8316037642396382"/>
<rect x="473.10" y="78.50" width="15.00" height="1.00" fill="#000" opacity="0.7556328837476799"/>
<rect x="473.10" y="79.50" width="15.00" height="1.00" fill="#000" opacity="0.7714887576491345"/>
<rect x="473.10" y="80.50" width="15.00" height="1.00" fill="#000" opacity="0.7873921429680336"/>
<rect x="473.10" y="81.50" width="15.00" height="1.00" fill="#000" opacity="0.7901972540886016"/>
<rect x="473.10" y="82.50" width="15.00" height="1.00" fill="#000" opacity="0.8487678702099013"/>
<rect x="473.10" y="83.50" width="15.00" height="1.00" fill="#000" opacity="0.813122665540728"/>
<rect x="473.10" y="84.50" width="15.00" height="0.80" fill="#000" opacity="0.8446037863711434"/>
<rect x="472.73" y="85.30" width="15.75" height="3.40" fill="#000" opacity="0.98"/>
<rect x="473.10" y="88.70" width="15.00" height="1.00" fill="#000" opacity="0.4657596411353581"/>
<rect x="473.10" y="89.70" width="15.00" height="1.00" fill="#000" opacity="0.5696303671587893"/>
<rect x="473.10" y="90.70" width="15.00" height="1.00" fill="#000" opacity="0.48657639547780857"/>
<rect x="473.10" y="91.70" width="15.00" height="1.00" fill="#000" opacity="0.4960078230801359"/>
<rect x="473.10" y="92.70" width="15.00" height="1.00" fill="#000" opacity="0.5083527659096931"/>
<rect x="473.10" y="93.70" width="15.00" height="1.00" fill="#000" opacity="0.5481041391094608"/>
<rect x="473.10" y="94.70" width="15.00" height="1.00" fill="#000" opacity="0.4752092014225852"/>
<rect x="473.10" y="95.70" width="15.00" height="1.00" fill="#000" opacity="0.53962084818103"/>
<rect x="473.10" y="96.70" width="15.00" height="1.00" fill="#000" opacity="0.4761894009796303"/>
<rect x="473.10" y="97.70" width="15.00" height="1.00" fill="#000" opacity="0.4752326968135696"/>
<rect x="473.10" y="98.70" width="15.00" height="1.00" fill="#000" opacity="0.4688867769044831"/>
<rect x="473.10" y="99.70" width="15.00" height="1.00" fill="#000" opacity="0.3930331892787795"/>
<rect x="473.10" y="100.70" width="15.00" height="1.00" fill="#000" opacity="0.44685064835565375"/>
<rect x="473.10" y="101.70" width="15.00" height="1.00" fill="#000" opacity="0.4056869176896104"/>
<rect x="473.10" y="102.70" width="15.00" height="1.00" fill="#000" opacity="0.37542101377683335"/>
<rect x="473.10" y="103.70" width="15.00" height="1.00" fill="#000" opacity="0.4815729822398954"/>
<rect x="473.10" y="104.70" width="15.00" height="1.00" fill="#000" opacity="0.3886363117306082"/>
<rect x="473.10" y="105.70" width="15.00" height="1.00" fill="#000" opacity="0.4256154354151402"/>
<rect x="473.10" y="106.70" width="15.00" height="1.00" fill="#000" opacity="0.45567213558284014"/>
<rect x="473.10" y="107.70" width="15.00" height="0.30" fill="#000" opacity="0.4286837895588487"/>
<rect x="473.10" y="111.80" width="15.00" height="2.80" fill="#000" opacity="0.8"/>
<rect x="473.10" y="114.60" width="15.00" height="2.00" fill="#000" opacity="0.35"/>
<rect x="472.20" y="116.60" width="16.80" height="7.00" fill="#000" opacity="1.0"/>
<rect x="473.10" y="116.30" width="4.20" height="7.60" fill="#000" opacity="0.85"/>
<rect x="483.90" y="116.30" width="4.20" height="7.60" fill="#000" opacity="0.85"/>
<rect x="473.10" y="125.00" width="15.00" height="1.00" fill="#000" opacity="0.09805892906293184"/>
<rect x="473.10" y="126.00" width="15.00" height="1.00" fill="#000" opacity="0.10660092276218221"/>
<rect x="473.10" y="127.00" width="15.00" height="1.00" fill="#000" opacity="0.10582651249281483"/>
<rect x="473.10" y="128.00" width="15.00" height="1.00" fill="#000" opacity="0.11655634852192853"/>
<rect x="473.10" y="129.00" width="15.00" height="1.00" fill="#000" opacity="0.0728665650262957"/>
<rect x="473.10" y="130.00" width="15.00" height="1.00" fill="#000" opacity="0.09711776801503713"/>
<rect x="473.10" y="131.00" width="15.00" height="1.00" fill="#000" opacity="0.0754096592625854"/>
<rect x="473.10" y="132.00" width="15.00" height="1.00" fill="#000" opacity="0.07411502422788689"/>
<rect x="473.10" y="133.00" width="15.00" height="1.00" fill="#000" opacity="0.1008356659253293"/>
<rect x="473.10" y="134.00" width="15.00" height="1.00" fill="#000" opacity="0.08196283950753924"/>
<rect x="473.10" y="137.00" width="15.00" height="2.50" fill="#000" opacity="0.16"/>
<rect x="473.10" y="142.60" width="15.00" height="2.80" fill="#000" opacity="0.45"/>
<rect x="473.10" y="148.50" width="15.00" height="3.00" fill="#000" opacity="0.1"/>
<rect x="473.10" y="155.20" width="15.00" height="3.00" fill="#000" opacity="0.22"/>
<rect x="493.10" y="156.00" width="15.00" height="1.50" fill="#000" opacity="0.06"/>
<rect x="509.00" y="59.00" width="3.00" height="141.00" fill="#000" opacity="0.06"/>
</g></g>
<rect x="391.2" y="59.4" width="122.19999999999999" height="140.1" fill="none" stroke="#2a2a2a" stroke-width="1"/>
<defs><linearGradient id="gbb" x1="0" y1="0" x2="0" y2="1"><stop offset="0" stop-color="#e8e8e8"/><stop offset="1" stop-color="#f1f1f1"/></linearGradient><clipPath id="gbbc"><rect x="390.6" y="203.9" width="123.0" height="15.0"/></clipPath></defs>
<rect x="390.60" y="203.90" width="123.00" height="15.00" fill="url(#gbb)" />
<g clip-path="url(#gbbc)"><g filter="url(#bl)">
<rect x="397.55" y="207.80" width="18.50" height="6.50" fill="#000" opacity="0.99" rx="5.55" ry="3.25"/>
<rect x="397.55" y="214.30" width="18.50" height="1.50" fill="#000" opacity="0.15" rx="5.55" ry="0.75"/>
<rect x="418.45" y="208.70" width="17.50" height="5.20" fill="#000" opacity="0.96" rx="5.25" ry="2.60"/>
<rect x="438.00" y="208.00" width="18.00" height="6.30" fill="#000" opacity="0.98" rx="5.40" ry="3.15"/>
<rect x="438.00" y="214.30" width="18.00" height="1.50" fill="#000" opacity="0.12" rx="5.40" ry="0.75"/>
<rect x="458.60" y="209.30" width="16.00" height="4.20" fill="#000" opacity="0.95" rx="4.80" ry="2.10"/>
<rect x="477.20" y="208.50" width="17.00" height="5.60" fill="#000" opacity="0.96" rx="5.10" ry="2.80"/>
<rect x="496.05" y="209.00" width="14.50" height="4.60" fill="#000" opacity="0.93" rx="4.35" ry="2.30"/>
</g></g>
<rect x="390.6" y="203.9" width="123.0" height="15.0" fill="none" stroke="#2a2a2a" stroke-width="1"/>
<text x="0" y="0" transform="translate(354.52 74.10) scale(0.93 1)" font-size="11.8" fill="#000" stroke="#000" stroke-width="0.22" >170</text>
<text x="0" y="0" transform="translate(354.55 84.70) scale(0.93 1)" font-size="11.8" fill="#000" stroke="#000" stroke-width="0.22" >135</text>
<text x="0" y="0" transform="translate(354.52 94.90) scale(0.93 1)" font-size="11.8" fill="#000" stroke="#000" stroke-width="0.22" >100</text>
<text x="0" y="0" transform="translate(360.65 107.60) scale(0.93 1)" font-size="11.8" fill="#000" stroke="#000" stroke-width="0.22" >75</text>
<text x="0" y="0" transform="translate(360.62 122.00) scale(0.93 1)" font-size="11.8" fill="#000" stroke="#000" stroke-width="0.22" >60</text>
<text x="0" y="0" transform="translate(360.65 142.10) scale(0.93 1)" font-size="11.8" fill="#000" stroke="#000" stroke-width="0.22" >45</text>
<text x="0" y="0" transform="translate(360.65 159.30) scale(0.93 1)" font-size="11.8" fill="#000" stroke="#000" stroke-width="0.22" >35</text>
<text x="0" y="0" transform="translate(360.65 179.80) scale(0.93 1)" font-size="11.8" fill="#000" stroke="#000" stroke-width="0.22" >25</text>
<text x="0" y="0" transform="translate(358.45 214.20) scale(0.93 1)" font-size="11.8" fill="#000" stroke="#000" stroke-width="0.22" >45</text>
<line x1="381.50" y1="74.30" x2="391.20" y2="74.30" stroke="#7a7a7a" stroke-width="1" />
<line x1="381.50" y1="82.30" x2="391.20" y2="82.30" stroke="#7a7a7a" stroke-width="1" />
<line x1="381.50" y1="100.20" x2="391.20" y2="100.20" stroke="#7a7a7a" stroke-width="1" />
<line x1="381.50" y1="115.00" x2="391.20" y2="115.00" stroke="#7a7a7a" stroke-width="1" />
<line x1="381.50" y1="136.00" x2="391.20" y2="136.00" stroke="#7a7a7a" stroke-width="1" />
<line x1="381.50" y1="154.00" x2="391.20" y2="154.00" stroke="#7a7a7a" stroke-width="1" />
<line x1="381.50" y1="174.20" x2="391.20" y2="174.20" stroke="#7a7a7a" stroke-width="1" />
<line x1="381.50" y1="93.00" x2="391.20" y2="93.00" stroke="#222" stroke-width="1.1" />
<line x1="381.50" y1="208.40" x2="390.60" y2="208.40" stroke="#6a6a6a" stroke-width="1" />
<text x="514.25" y="143.60" font-size="11.6" fill="#000" stroke="#000" stroke-width="0.22" >pTyr</text>
<text x="515.98" y="214.80" font-size="11.6" fill="#000" stroke="#000" stroke-width="0.22" >Actin</text>
<line x1="66.70" y1="291.90" x2="66.70" y2="437.00" stroke="#333" stroke-width="1.2" />
<line x1="61.30" y1="431.50" x2="276.60" y2="431.50" stroke="#333" stroke-width="1.2" />
<line x1="61.30" y1="431.50" x2="66.70" y2="431.50" stroke="#333" stroke-width="1.2" />
<line x1="61.30" y1="402.57" x2="66.70" y2="402.57" stroke="#333" stroke-width="1.2" />
<line x1="61.30" y1="373.65" x2="66.70" y2="373.65" stroke="#333" stroke-width="1.2" />
<line x1="61.30" y1="344.73" x2="66.70" y2="344.73" stroke="#333" stroke-width="1.2" />
<line x1="61.30" y1="315.80" x2="66.70" y2="315.80" stroke="#333" stroke-width="1.2" />
<line x1="136.60" y1="431.50" x2="136.60" y2="437.00" stroke="#333" stroke-width="1.2" />
<line x1="206.50" y1="431.50" x2="206.50" y2="437.00" stroke="#333" stroke-width="1.2" />
<line x1="276.40" y1="431.50" x2="276.40" y2="437.00" stroke="#333" stroke-width="1.2" />
<line x1="70.20" y1="430.20" x2="70.20" y2="432.90" stroke="#222" stroke-width="0.8" />
<line x1="73.69" y1="430.20" x2="73.69" y2="432.90" stroke="#222" stroke-width="0.8" />
<line x1="77.19" y1="430.20" x2="77.19" y2="432.90" stroke="#222" stroke-width="0.8" />
<line x1="80.68" y1="430.20" x2="80.68" y2="432.90" stroke="#222" stroke-width="0.8" />
<line x1="84.18" y1="430.20" x2="84.18" y2="432.90" stroke="#222" stroke-width="0.8" />
<line x1="87.67" y1="430.20" x2="87.67" y2="432.90" stroke="#222" stroke-width="0.8" />
<line x1="91.17" y1="430.20" x2="91.17" y2="432.90" stroke="#222" stroke-width="0.8" />
<line x1="94.66" y1="430.20" x2="94.66" y2="432.90" stroke="#222" stroke-width="0.8" />
<line x1="98.16" y1="430.20" x2="98.16" y2="432.90" stroke="#222" stroke-width="0.8" />
<line x1="101.65" y1="430.20" x2="101.65" y2="432.90" stroke="#222" stroke-width="0.8" />
<line x1="105.15" y1="430.20" x2="105.15" y2="432.90" stroke="#222" stroke-width="0.8" />
<line x1="108.64" y1="430.20" x2="108.64" y2="432.90" stroke="#222" stroke-width="0.8" />
<line x1="112.14" y1="430.20" x2="112.14" y2="432.90" stroke="#222" stroke-width="0.8" />
<line x1="115.63" y1="430.20" x2="115.63" y2="432.90" stroke="#222" stroke-width="0.8" />
<line x1="119.12" y1="430.20" x2="119.12" y2="432.90" stroke="#222" stroke-width="0.8" />
<line x1="122.62" y1="430.20" x2="122.62" y2="432.90" stroke="#222" stroke-width="0.8" />
<line x1="126.12" y1="430.20" x2="126.12" y2="432.90" stroke="#222" stroke-width="0.8" />
<line x1="129.61" y1="430.20" x2="129.61" y2="432.90" stroke="#222" stroke-width="0.8" />
<line x1="133.11" y1="430.20" x2="133.11" y2="432.90" stroke="#222" stroke-width="0.8" />
<line x1="140.10" y1="430.20" x2="140.10" y2="432.90" stroke="#222" stroke-width="0.8" />
<line x1="143.59" y1="430.20" x2="143.59" y2="432.90" stroke="#222" stroke-width="0.8" />
<line x1="147.09" y1="430.20" x2="147.09" y2="432.90" stroke="#222" stroke-width="0.8" />
<line x1="150.58" y1="430.20" x2="150.58" y2="432.90" stroke="#222" stroke-width="0.8" />
<line x1="154.07" y1="430.20" x2="154.07" y2="432.90" stroke="#222" stroke-width="0.8" />
<line x1="157.57" y1="430.20" x2="157.57" y2="432.90" stroke="#222" stroke-width="0.8" />
<line x1="161.06" y1="430.20" x2="161.06" y2="432.90" stroke="#222" stroke-width="0.8" />
<line x1="164.56" y1="430.20" x2="164.56" y2="432.90" stroke="#222" stroke-width="0.8" />
<line x1="168.06" y1="430.20" x2="168.06" y2="432.90" stroke="#222" stroke-width="0.8" />
<line x1="171.55" y1="430.20" x2="171.55" y2="432.90" stroke="#222" stroke-width="0.8" />
<line x1="175.05" y1="430.20" x2="175.05" y2="432.90" stroke="#222" stroke-width="0.8" />
<line x1="178.54" y1="430.20" x2="178.54" y2="432.90" stroke="#222" stroke-width="0.8" />
<line x1="182.04" y1="430.20" x2="182.04" y2="432.90" stroke="#222" stroke-width="0.8" />
<line x1="185.53" y1="430.20" x2="185.53" y2="432.90" stroke="#222" stroke-width="0.8" />
<line x1="189.03" y1="430.20" x2="189.03" y2="432.90" stroke="#222" stroke-width="0.8" />
<line x1="192.52" y1="430.20" x2="192.52" y2="432.90" stroke="#222" stroke-width="0.8" />
<line x1="196.02" y1="430.20" x2="196.02" y2="432.90" stroke="#222" stroke-width="0.8" />
<line x1="199.51" y1="430.20" x2="199.51" y2="432.90" stroke="#222" stroke-width="0.8" />
<line x1="203.01" y1="430.20" x2="203.01" y2="432.90" stroke="#222" stroke-width="0.8" />
<line x1="210.00" y1="430.20" x2="210.00" y2="432.90" stroke="#222" stroke-width="0.8" />
<line x1="213.49" y1="430.20" x2="213.49" y2="432.90" stroke="#222" stroke-width="0.8" />
<line x1="216.99" y1="430.20" x2="216.99" y2="432.90" stroke="#222" stroke-width="0.8" />
<line x1="220.48" y1="430.20" x2="220.48" y2="432.90" stroke="#222" stroke-width="0.8" />
<line x1="223.98" y1="430.20" x2="223.98" y2="432.90" stroke="#222" stroke-width="0.8" />
<line x1="227.47" y1="430.20" x2="227.47" y2="432.90" stroke="#222" stroke-width="0.8" />
<line x1="230.97" y1="430.20" x2="230.97" y2="432.90" stroke="#222" stroke-width="0.8" />
<line x1="234.46" y1="430.20" x2="234.46" y2="432.90" stroke="#222" stroke-width="0.8" />
<line x1="237.96" y1="430.20" x2="237.96" y2="432.90" stroke="#222" stroke-width="0.8" />
<line x1="241.45" y1="430.20" x2="241.45" y2="432.90" stroke="#222" stroke-width="0.8" />
<line x1="244.95" y1="430.20" x2="244.95" y2="432.90" stroke="#222" stroke-width="0.8" />
<line x1="248.44" y1="430.20" x2="248.44" y2="432.90" stroke="#222" stroke-width="0.8" />
<line x1="251.94" y1="430.20" x2="251.94" y2="432.90" stroke="#222" stroke-width="0.8" />
<line x1="255.43" y1="430.20" x2="255.43" y2="432.90" stroke="#222" stroke-width="0.8" />
<line x1="258.93" y1="430.20" x2="258.93" y2="432.90" stroke="#222" stroke-width="0.8" />
<line x1="262.42" y1="430.20" x2="262.42" y2="432.90" stroke="#222" stroke-width="0.8" />
<line x1="265.92" y1="430.20" x2="265.92" y2="432.90" stroke="#222" stroke-width="0.8" />
<line x1="269.41" y1="430.20" x2="269.41" y2="432.90" stroke="#222" stroke-width="0.8" />
<line x1="272.91" y1="430.20" x2="272.91" y2="432.90" stroke="#222" stroke-width="0.8" />
<text x="53.87" y="435.20" font-size="10.5" fill="#000" stroke="#000" stroke-width="0.22" >0</text>
<text x="48.06" y="406.27" font-size="10.5" fill="#000" stroke="#000" stroke-width="0.22" >25</text>
<text x="48.03" y="377.35" font-size="10.5" fill="#000" stroke="#000" stroke-width="0.22" >50</text>
<text x="48.06" y="348.43" font-size="10.5" fill="#000" stroke="#000" stroke-width="0.22" >75</text>
<text x="42.19" y="319.50" font-size="10.5" fill="#000" stroke="#000" stroke-width="0.22" >100</text>
<text x="63.78" y="448.00" font-size="10.5" fill="#000" stroke="#000" stroke-width="0.22" >0</text>
<text x="133.68" y="448.00" font-size="10.5" fill="#000" stroke="#000" stroke-width="0.22" >2</text>
<text x="203.61" y="448.00" font-size="10.5" fill="#000" stroke="#000" stroke-width="0.22" >4</text>
<text x="273.44" y="448.00" font-size="10.5" fill="#000" stroke="#000" stroke-width="0.22" >6</text>
<text x="33.30" y="361.80" font-size="11.5" fill="#000" stroke="#000" stroke-width="0.15" style="filter:none" text-anchor="middle" transform="rotate(-90 33.30 361.80) translate(0 4.14)">Survival (%)</text>
<text x="134.22" y="465.40" font-size="11.45" fill="#000" stroke="#000" stroke-width="0.22" >JMF4073 (<tspan style="font-family:&quot;Liberation Serif&quot;, serif">μ</tspan>M)</text>
<polyline points="66.70,315.80 101.65,320.43 136.60,341.25 241.45,386.96" fill="none" stroke="#000" stroke-width="1" />
<line x1="101.65" y1="304.23" x2="101.65" y2="338.94" stroke="#000" stroke-width="1" />
<line x1="101.65" y1="304.23" x2="101.65" y2="304.23" stroke="#000" stroke-width="1" />
<line x1="101.65" y1="338.94" x2="101.65" y2="338.94" stroke="#000" stroke-width="1" />
<line x1="136.60" y1="321.58" x2="136.60" y2="358.61" stroke="#000" stroke-width="1" />
<line x1="133.60" y1="321.58" x2="139.60" y2="321.58" stroke="#000" stroke-width="1" />
<line x1="133.60" y1="358.61" x2="139.60" y2="358.61" stroke="#000" stroke-width="1" />
<line x1="241.45" y1="367.87" x2="241.45" y2="405.35" stroke="#000" stroke-width="1" />
<line x1="238.45" y1="367.87" x2="244.45" y2="367.87" stroke="#000" stroke-width="1" />
<line x1="238.45" y1="405.35" x2="244.45" y2="405.35" stroke="#000" stroke-width="1" />
<circle cx="101.65" cy="304.23" r="2.7" fill="#000"/>
<circle cx="101.65" cy="320.43" r="2.7" fill="#000"/>
<circle cx="101.65" cy="338.94" r="2.7" fill="#000"/>
<circle cx="136.60" cy="321.58" r="2.7" fill="#000"/>
<circle cx="136.60" cy="349.35" r="2.7" fill="#000"/>
<circle cx="136.60" cy="353.98" r="2.7" fill="#000"/>
<circle cx="241.45" cy="367.87" r="2.7" fill="#000"/>
<circle cx="241.45" cy="394.48" r="2.7" fill="#000"/>
<circle cx="241.45" cy="400.84" r="2.7" fill="#000"/>
<polyline points="66.70,315.80 101.65,353.40 136.60,399.34 241.45,416.81" fill="none" stroke="#44dd22" stroke-width="1" />
<line x1="101.65" y1="349.93" x2="101.65" y2="356.30" stroke="#44dd22" stroke-width="1.3" />
<line x1="98.65" y1="349.93" x2="104.65" y2="349.93" stroke="#44dd22" stroke-width="1.3" />
<line x1="98.65" y1="356.30" x2="104.65" y2="356.30" stroke="#44dd22" stroke-width="1.3" />
<line x1="136.60" y1="382.91" x2="136.60" y2="415.65" stroke="#44dd22" stroke-width="1.3" />
<line x1="133.60" y1="382.91" x2="139.60" y2="382.91" stroke="#44dd22" stroke-width="1.3" />
<line x1="133.60" y1="415.65" x2="139.60" y2="415.65" stroke="#44dd22" stroke-width="1.3" />
<line x1="241.45" y1="408.01" x2="241.45" y2="422.24" stroke="#44dd22" stroke-width="1.3" />
<line x1="238.45" y1="408.01" x2="244.45" y2="408.01" stroke="#44dd22" stroke-width="1.3" />
<line x1="238.45" y1="422.24" x2="244.45" y2="422.24" stroke="#44dd22" stroke-width="1.3" />
<polygon points="101.65,347.16 104.75,352.74 98.55,352.74" fill="#44dd22"/>
<polygon points="101.65,350.86 104.75,356.44 98.55,356.44" fill="#44dd22"/>
<polygon points="136.60,384.19 139.70,389.77 133.50,389.77" fill="#44dd22"/>
<polygon points="136.60,389.97 139.70,395.55 133.50,395.55" fill="#44dd22"/>
<polygon points="136.60,411.95 139.70,417.53 133.50,417.53" fill="#44dd22"/>
<polygon points="136.60,415.43 139.70,421.01 133.50,421.01" fill="#44dd22"/>
<polygon points="241.45,407.79 244.55,413.37 238.35,413.37" fill="#44dd22"/>
<polygon points="241.45,417.74 244.55,423.32 238.35,423.32" fill="#44dd22"/>
<polyline points="66.70,315.80 101.65,408.01 136.60,420.51 241.45,431.50" fill="none" stroke="#ee2222" stroke-width="1" />
<line x1="101.65" y1="393.32" x2="101.65" y2="425.71" stroke="#ee2222" stroke-width="1" />
<line x1="101.65" y1="393.32" x2="101.65" y2="393.32" stroke="#ee2222" stroke-width="1" />
<line x1="101.65" y1="425.71" x2="101.65" y2="425.71" stroke="#ee2222" stroke-width="1" />
<line x1="136.60" y1="409.52" x2="136.60" y2="430.34" stroke="#ee2222" stroke-width="1" />
<line x1="136.60" y1="409.52" x2="136.60" y2="409.52" stroke="#ee2222" stroke-width="1" />
<line x1="136.60" y1="430.34" x2="136.60" y2="430.34" stroke="#ee2222" stroke-width="1" />
<rect x="98.75" y="390.42" width="5.80" height="5.80" fill="#ee2222" />
<rect x="98.75" y="400.83" width="5.80" height="5.80" fill="#ee2222" />
<rect x="98.75" y="422.81" width="5.80" height="5.80" fill="#ee2222" />
<rect x="133.70" y="406.62" width="5.80" height="5.80" fill="#ee2222" />
<rect x="133.70" y="419.34" width="5.80" height="5.80" fill="#ee2222" />
<rect x="133.70" y="427.44" width="5.80" height="5.80" fill="#ee2222" />
<rect x="238.55" y="428.60" width="5.80" height="5.80" fill="#ee2222" />
<rect x="63.80" y="312.90" width="5.80" height="5.80" fill="#ee2222" />
<circle cx="66.70" cy="315.80" r="2.4" fill="#000"/>
<polygon points="66.70,312.45 69.80,318.03 63.60,318.03" fill="#44dd22"/>
<line x1="202.70" y1="299.40" x2="218.00" y2="299.40" stroke="#000" stroke-width="1" />
<circle cx="210.30" cy="299.40" r="2.7" fill="#000"/>
<line x1="202.70" y1="316.80" x2="218.00" y2="316.80" stroke="#ee2222" stroke-width="1" />
<rect x="207.60" y="314.10" width="5.40" height="5.40" fill="#ee2222" />
<line x1="202.70" y1="334.20" x2="218.00" y2="334.20" stroke="#44dd22" stroke-width="1" />
<polygon points="210.30,330.85 213.40,336.43 207.20,336.43" fill="#44dd22"/>
<text x="225.91" y="303.40" font-size="11.5" fill="#000" stroke="#000" stroke-width="0.22" >Untransformed</text>
<text x="226.75" y="320.80" font-size="11.5" fill="#000" stroke="#000" stroke-width="0.22" >WT-Bcr-Abl</text>
<text x="226.54" y="338.20" font-size="11.5" fill="#000" stroke="#000" stroke-width="0.22" >T315I-Bcr-Abl</text>
<text x="537.28" y="242.10" font-size="12.4" fill="#000" stroke="#000" stroke-width="0.22" >Bcr-Abl-32D</text>
<line x1="522.10" y1="246.60" x2="618.20" y2="246.60" stroke="#9a9a9a" stroke-width="1" />
<text x="470.95" y="261.10" font-size="12" fill="#000" stroke="#000" stroke-width="0.22" >32D</text>
<text x="532.78" y="261.10" font-size="12" fill="#000" stroke="#000" stroke-width="0.22" >WT</text>
<text x="586.88" y="261.10" font-size="12" fill="#000" stroke="#000" stroke-width="0.22" >T315I</text>
<line x1="453.10" y1="266.60" x2="505.00" y2="266.60" stroke="#9a9a9a" stroke-width="1" />
<line x1="513.80" y1="266.60" x2="565.20" y2="266.60" stroke="#9a9a9a" stroke-width="1" />
<line x1="576.60" y1="266.60" x2="628.00" y2="266.60" stroke="#9a9a9a" stroke-width="1" />
<text x="352.81" y="282.50" font-size="12.3" fill="#000" stroke="#000" stroke-width="0.22" >JMF 4073 (<tspan style="font-family:&quot;Liberation Serif&quot;, serif">μ</tspan>M)</text>
<text x="454.86" y="281.50" font-size="12" fill="#000" stroke="#000" stroke-width="0.22" >0</text>
<text x="470.88" y="281.50" font-size="12" fill="#000" stroke="#000" stroke-width="0.22" >0.5</text>
<text x="496.50" y="281.50" font-size="12" fill="#000" stroke="#000" stroke-width="0.22" >1</text>
<text x="516.56" y="281.50" font-size="12" fill="#000" stroke="#000" stroke-width="0.22" >0</text>
<text x="531.68" y="281.50" font-size="12" fill="#000" stroke="#000" stroke-width="0.22" >0.5</text>
<text x="557.50" y="281.50" font-size="12" fill="#000" stroke="#000" stroke-width="0.22" >1</text>
<text x="577.96" y="281.50" font-size="12" fill="#000" stroke="#000" stroke-width="0.22" >0</text>
<text x="594.28" y="281.50" font-size="12" fill="#000" stroke="#000" stroke-width="0.22" >0.5</text>
<text x="619.70" y="281.50" font-size="12" fill="#000" stroke="#000" stroke-width="0.22" >1</text>
<defs><linearGradient id="gc" x1="0" y1="0" x2="0" y2="1"><stop offset="0" stop-color="#e3e3e3"/><stop offset="0.4" stop-color="#ececec"/><stop offset="1" stop-color="#f6f6f6"/></linearGradient><clipPath id="gcc"><rect x="443.4" y="285.6" width="194.10000000000002" height="170.5"/></clipPath></defs>
<rect x="443.40" y="285.60" width="194.10" height="170.50" fill="url(#gc)" />
<g clip-path="url(#gcc)"><g filter="url(#bl)" shape-rendering="crispEdges">
<rect x="450.00" y="322.00" width="16.00" height="14.00" fill="#000" opacity="0.04"/>
<rect x="450.00" y="336.00" width="16.00" height="1.00" fill="#000" opacity="0.06715203906145754"/>
<rect x="450.00" y="337.00" width="16.00" height="1.00" fill="#000" opacity="0.08594441614160789"/>
<rect x="450.00" y="338.00" width="16.00" height="1.00" fill="#000" opacity="0.10199066149013356"/>
<rect x="450.00" y="339.00" width="16.00" height="1.00" fill="#000" opacity="0.08073283464912909"/>
<rect x="450.00" y="340.00" width="16.00" height="1.00" fill="#000" opacity="0.09778615581928832"/>
<rect x="450.00" y="341.00" width="16.00" height="1.00" fill="#000" opacity="0.09826422233383192"/>
<rect x="450.00" y="342.00" width="16.00" height="1.00" fill="#000" opacity="0.10555727455301572"/>
<rect x="450.00" y="343.00" width="16.00" height="1.00" fill="#000" opacity="0.12328799808392824"/>
<rect x="450.00" y="344.00" width="16.00" height="1.00" fill="#000" opacity="0.11576143719106699"/>
<rect x="450.00" y="345.00" width="16.00" height="1.00" fill="#000" opacity="0.12751436763406063"/>
<rect x="450.00" y="346.00" width="16.00" height="1.00" fill="#000" opacity="0.13109597218537336"/>
<rect x="450.00" y="347.00" width="16.00" height="1.00" fill="#000" opacity="0.16580041247989624"/>
<rect x="450.00" y="348.00" width="16.00" height="1.00" fill="#000" opacity="0.1581599694825413"/>
<rect x="450.00" y="349.00" width="16.00" height="1.00" fill="#000" opacity="0.17569557718269768"/>
<rect x="450.00" y="350.00" width="16.00" height="0.50" fill="#000" opacity="0.18480669736718006"/>
<rect x="450.00" y="356.80" width="16.00" height="2.00" fill="#000" opacity="0.3"/>
<rect x="450.00" y="364.20" width="16.00" height="2.40" fill="#000" opacity="0.62"/>
<rect x="450.00" y="368.40" width="16.00" height="3.00" fill="#000" opacity="0.7"/>
<rect x="450.00" y="383.60" width="16.00" height="1.70" fill="#000" opacity="0.22"/>
<rect x="450.00" y="394.00" width="16.00" height="2.00" fill="#000" opacity="0.05"/>
<rect x="450.00" y="413.80" width="16.00" height="1.80" fill="#000" opacity="0.1"/>
<rect x="471.00" y="322.00" width="16.00" height="14.00" fill="#000" opacity="0.04"/>
<rect x="471.00" y="336.00" width="16.00" height="1.00" fill="#000" opacity="0.04902381350913041"/>
<rect x="471.00" y="337.00" width="16.00" height="1.00" fill="#000" opacity="0.07391565597606978"/>
<rect x="471.00" y="338.00" width="16.00" height="1.00" fill="#000" opacity="0.10383740135115385"/>
<rect x="471.00" y="339.00" width="16.00" height="1.00" fill="#000" opacity="0.1045379180380751"/>
<rect x="471.00" y="340.00" width="16.00" height="1.00" fill="#000" opacity="0.06926254891243178"/>
<rect x="471.00" y="341.00" width="16.00" height="1.00" fill="#000" opacity="0.07522835174580945"/>
<rect x="471.00" y="342.00" width="16.00" height="1.00" fill="#000" opacity="0.10135467150339918"/>
<rect x="471.00" y="343.00" width="16.00" height="1.00" fill="#000" opacity="0.08607690391042379"/>
<rect x="471.00" y="344.00" width="16.00" height="1.00" fill="#000" opacity="0.10305901516236861"/>
<rect x="471.00" y="345.00" width="16.00" height="1.00" fill="#000" opacity="0.09990448739767083"/>
<rect x="471.00" y="346.00" width="16.00" height="1.00" fill="#000" opacity="0.14258212182204202"/>
<rect x="471.00" y="347.00" width="16.00" height="1.00" fill="#000" opacity="0.1563465058579755"/>
<rect x="471.00" y="348.00" width="16.00" height="1.00" fill="#000" opacity="0.17002848252445016"/>
<rect x="471.00" y="349.00" width="16.00" height="1.00" fill="#000" opacity="0.1323702457019836"/>
<rect x="471.00" y="350.00" width="16.00" height="0.50" fill="#000" opacity="0.17124305503625728"/>
<rect x="471.00" y="356.80" width="16.00" height="2.00" fill="#000" opacity="0.3"/>
<rect x="471.00" y="364.20" width="16.00" height="2.40" fill="#000" opacity="0.62"/>
<rect x="471.00" y="368.40" width="16.00" height="3.00" fill="#000" opacity="0.7"/>
<rect x="471.00" y="383.60" width="16.00" height="1.70" fill="#000" opacity="0.22"/>
<rect x="471.00" y="394.00" width="16.00" height="2.00" fill="#000" opacity="0.05"/>
<rect x="471.00" y="413.80" width="16.00" height="1.80" fill="#000" opacity="0.1"/>
<rect x="492.80" y="322.00" width="16.00" height="14.00" fill="#000" opacity="0.04"/>
<rect x="492.80" y="336.00" width="16.00" height="1.00" fill="#000" opacity="0.07306366677355122"/>
<rect x="492.80" y="337.00" width="16.00" height="1.00" fill="#000" opacity="0.04892356746166112"/>
<rect x="492.80" y="338.00" width="16.00" height="1.00" fill="#000" opacity="0.10021134932976936"/>
<rect x="492.80" y="339.00" width="16.00" height="1.00" fill="#000" opacity="0.1121906179944658"/>
<rect x="492.80" y="340.00" width="16.00" height="1.00" fill="#000" opacity="0.07420975260673587"/>
<rect x="492.80" y="341.00" width="16.00" height="1.00" fill="#000" opacity="0.12508128221789777"/>
<rect x="492.80" y="342.00" width="16.00" height="1.00" fill="#000" opacity="0.09872299868993287"/>
<rect x="492.80" y="343.00" width="16.00" height="1.00" fill="#000" opacity="0.11095978443048729"/>
<rect x="492.80" y="344.00" width="16.00" height="1.00" fill="#000" opacity="0.14801297693982962"/>
<rect x="492.80" y="345.00" width="16.00" height="1.00" fill="#000" opacity="0.14546392154828722"/>
<rect x="492.80" y="346.00" width="16.00" height="1.00" fill="#000" opacity="0.11210175669630103"/>
<rect x="492.80" y="347.00" width="16.00" height="1.00" fill="#000" opacity="0.13520165390744454"/>
<rect x="492.80" y="348.00" width="16.00" height="1.00" fill="#000" opacity="0.14714320001998568"/>
<rect x="492.80" y="349.00" width="16.00" height="1.00" fill="#000" opacity="0.1434504169361913"/>
<rect x="492.80" y="350.00" width="16.00" height="0.50" fill="#000" opacity="0.14002054203700137"/>
<rect x="492.80" y="356.80" width="16.00" height="2.00" fill="#000" opacity="0.3"/>
<rect x="492.80" y="364.20" width="16.00" height="2.40" fill="#000" opacity="0.62"/>
<rect x="492.80" y="368.40" width="16.00" height="3.00" fill="#000" opacity="0.7"/>
<rect x="492.80" y="383.60" width="16.00" height="1.70" fill="#000" opacity="0.22"/>
<rect x="492.80" y="394.00" width="16.00" height="2.00" fill="#000" opacity="0.05"/>
<rect x="492.80" y="413.80" width="16.00" height="1.80" fill="#000" opacity="0.1"/>
<rect x="513.65" y="290.00" width="16.50" height="1.00" fill="#000" opacity="0.04211602273350776"/>
<rect x="513.65" y="291.00" width="16.50" height="1.00" fill="#000" opacity="0.057011033405647435"/>
<rect x="513.65" y="292.00" width="16.50" height="1.00" fill="#000" opacity="0.027654317122095727"/>
<rect x="513.65" y="293.00" width="16.50" height="1.00" fill="#000" opacity="0.04778700991233312"/>
<rect x="513.65" y="294.00" width="16.50" height="1.00" fill="#000" opacity="0.04199332407210808"/>
<rect x="513.65" y="295.00" width="16.50" height="1.00" fill="#000" opacity="0.02384827923308151"/>
<rect x="513.65" y="296.00" width="16.50" height="1.00" fill="#000" opacity="0.03513491556567963"/>
<rect x="513.65" y="297.00" width="16.50" height="1.00" fill="#000" opacity="0.04558208295567456"/>
<rect x="513.65" y="298.00" width="16.50" height="1.00" fill="#000" opacity="0.039865491378538224"/>
<rect x="513.65" y="299.00" width="16.50" height="1.00" fill="#000" opacity="0.020696631703630074"/>
<rect x="513.65" y="300.00" width="16.50" height="1.00" fill="#000" opacity="0.05627832976536397"/>
<rect x="513.65" y="301.00" width="16.50" height="1.00" fill="#000" opacity="0.04715952224390324"/>
<rect x="513.65" y="302.00" width="16.50" height="1.00" fill="#000" opacity="0.053242838345882976"/>
<rect x="513.65" y="303.00" width="16.50" height="1.00" fill="#000" opacity="0.017316183770913263"/>
<rect x="513.65" y="304.00" width="16.50" height="1.00" fill="#000" opacity="0.02249757089374079"/>
<rect x="513.65" y="305.00" width="16.50" height="1.00" fill="#000" opacity="0.012208527596562706"/>
<rect x="513.65" y="308.60" width="16.50" height="2.20" fill="#000" opacity="0.82"/>
<rect x="513.57" y="308.30" width="4.12" height="2.80" fill="#000" opacity="0.75"/>
<rect x="526.11" y="308.30" width="4.12" height="2.80" fill="#000" opacity="0.75"/>
<rect x="513.65" y="310.80" width="16.50" height="2.20" fill="#000" opacity="0.2"/>
<rect x="513.65" y="313.00" width="16.50" height="1.00" fill="#000" opacity="0.4005919697632437"/>
<rect x="513.65" y="314.00" width="16.50" height="1.00" fill="#000" opacity="0.3311285184605523"/>
<rect x="513.65" y="315.00" width="16.50" height="1.00" fill="#000" opacity="0.3204907942508131"/>
<rect x="513.65" y="316.00" width="16.50" height="1.00" fill="#000" opacity="0.3792273356710924"/>
<rect x="513.65" y="317.00" width="16.50" height="1.00" fill="#000" opacity="0.46939763916080596"/>
<rect x="513.65" y="318.00" width="16.50" height="1.00" fill="#000" opacity="0.4665128272411955"/>
<rect x="513.65" y="319.00" width="16.50" height="1.00" fill="#000" opacity="0.388758394747967"/>
<rect x="513.65" y="320.00" width="16.50" height="1.00" fill="#000" opacity="0.38318458587036675"/>
<rect x="513.65" y="321.00" width="16.50" height="1.00" fill="#000" opacity="0.5182579175523595"/>
<rect x="513.65" y="322.00" width="16.50" height="1.00" fill="#000" opacity="0.4743904261581587"/>
<rect x="513.65" y="323.00" width="16.50" height="1.00" fill="#000" opacity="0.5070667914474588"/>
<rect x="513.65" y="324.00" width="16.50" height="1.00" fill="#000" opacity="0.42121871516025106"/>
<rect x="513.65" y="325.00" width="16.50" height="1.00" fill="#000" opacity="0.4280137658000751"/>
<rect x="513.65" y="326.00" width="16.50" height="1.00" fill="#000" opacity="0.5408271771300533"/>
<rect x="513.65" y="327.00" width="16.50" height="1.00" fill="#000" opacity="0.5106697741463632"/>
<rect x="513.65" y="328.00" width="16.50" height="1.00" fill="#000" opacity="0.4661100646795199"/>
<rect x="513.65" y="329.00" width="16.50" height="0.80" fill="#000" opacity="0.615374048684521"/>
<rect x="513.65" y="329.80" width="16.50" height="2.40" fill="#000" opacity="0.78"/>
<rect x="513.65" y="332.20" width="16.50" height="4.40" fill="#000" opacity="0.2"/>
<rect x="513.65" y="336.60" width="16.50" height="2.80" fill="#000" opacity="0.45"/>
<rect x="513.65" y="339.40" width="16.50" height="1.00" fill="#000" opacity="0.274662152520293"/>
<rect x="513.65" y="340.40" width="16.50" height="1.00" fill="#000" opacity="0.29178366628268443"/>
<rect x="513.65" y="341.40" width="16.50" height="1.00" fill="#000" opacity="0.20269616197167162"/>
<rect x="513.65" y="342.40" width="16.50" height="1.00" fill="#000" opacity="0.29245331871759905"/>
<rect x="513.65" y="343.40" width="16.50" height="1.00" fill="#000" opacity="0.19475941006728836"/>
<rect x="513.65" y="344.40" width="16.50" height="1.00" fill="#000" opacity="0.2873565256982263"/>
<rect x="513.65" y="345.40" width="16.50" height="1.00" fill="#000" opacity="0.2353351754579275"/>
<rect x="513.65" y="346.40" width="16.50" height="1.00" fill="#000" opacity="0.21863938974474464"/>
<rect x="513.65" y="347.40" width="16.50" height="1.00" fill="#000" opacity="0.24136769421496423"/>
<rect x="513.65" y="348.40" width="16.50" height="1.00" fill="#000" opacity="0.28325913761795907"/>
<rect x="513.65" y="349.40" width="16.50" height="1.00" fill="#000" opacity="0.20126081666011808"/>
<rect x="513.65" y="350.40" width="16.50" height="1.00" fill="#000" opacity="0.18168344657567484"/>
<rect x="513.65" y="351.40" width="16.50" height="1.00" fill="#000" opacity="0.22646509730090775"/>
<rect x="513.65" y="352.40" width="16.50" height="1.00" fill="#000" opacity="0.1889064579824214"/>
<rect x="513.65" y="353.40" width="16.50" height="1.00" fill="#000" opacity="0.17048711698598473"/>
<rect x="513.65" y="354.40" width="16.50" height="1.00" fill="#000" opacity="0.1737856556975958"/>
<rect x="513.65" y="355.40" width="16.50" height="1.00" fill="#000" opacity="0.15751615430043814"/>
<rect x="513.65" y="356.40" width="16.50" height="1.00" fill="#000" opacity="0.17274160161692598"/>
<rect x="513.65" y="357.40" width="16.50" height="1.00" fill="#000" opacity="0.18302732378353495"/>
<rect x="513.65" y="358.40" width="16.50" height="1.00" fill="#000" opacity="0.1792477065690367"/>
<rect x="513.65" y="359.40" width="16.50" height="0.40" fill="#000" opacity="0.23172802589394498"/>
<rect x="513.65" y="360.20" width="16.50" height="3.20" fill="#000" opacity="0.68"/>
<rect x="512.82" y="365.60" width="18.15" height="9.00" fill="#000" opacity="1.0"/>
<rect x="513.65" y="365.00" width="4.62" height="10.20" fill="#000" opacity="0.6"/>
<rect x="525.53" y="365.00" width="4.62" height="10.20" fill="#000" opacity="0.6"/>
<rect x="513.65" y="376.00" width="16.50" height="1.00" fill="#000" opacity="0.11169686677794866"/>
<rect x="513.65" y="377.00" width="16.50" height="1.00" fill="#000" opacity="0.12550708798894716"/>
<rect x="513.65" y="378.00" width="16.50" height="1.00" fill="#000" opacity="0.09673199073703428"/>
<rect x="513.65" y="379.00" width="16.50" height="1.00" fill="#000" opacity="0.10726008177022872"/>
<rect x="513.65" y="380.00" width="16.50" height="1.00" fill="#000" opacity="0.07795304858356654"/>
<rect x="513.65" y="381.00" width="16.50" height="1.00" fill="#000" opacity="0.09353590049561819"/>
<rect x="513.65" y="382.00" width="16.50" height="1.00" fill="#000" opacity="0.07172768939640158"/>
<rect x="513.65" y="383.00" width="16.50" height="1.00" fill="#000" opacity="0.12614643067458509"/>
<rect x="513.65" y="384.00" width="16.50" height="1.00" fill="#000" opacity="0.1085839302409003"/>
<rect x="513.65" y="385.00" width="16.50" height="1.00" fill="#000" opacity="0.07665651971950227"/>
<rect x="513.65" y="386.00" width="16.50" height="1.00" fill="#000" opacity="0.09648085108141871"/>
<rect x="513.65" y="387.00" width="16.50" height="1.00" fill="#000" opacity="0.1302714271825883"/>
<rect x="513.65" y="388.00" width="16.50" height="1.00" fill="#000" opacity="0.061002507602167313"/>
<rect x="513.65" y="389.00" width="16.50" height="1.00" fill="#000" opacity="0.11501361122733711"/>
<rect x="513.65" y="390.00" width="16.50" height="1.00" fill="#000" opacity="0.0810742068627533"/>
<rect x="513.65" y="391.00" width="16.50" height="1.00" fill="#000" opacity="0.08310012587660924"/>
<rect x="513.65" y="392.00" width="16.50" height="1.00" fill="#000" opacity="0.10726911466641784"/>
<rect x="513.65" y="393.00" width="16.50" height="1.00" fill="#000" opacity="0.06894688604492688"/>
<rect x="513.65" y="394.00" width="16.50" height="1.00" fill="#000" opacity="0.07503487617241326"/>
<rect x="513.65" y="395.00" width="16.50" height="1.00" fill="#000" opacity="0.08651933885525531"/>
<rect x="513.65" y="397.20" width="16.50" height="2.20" fill="#000" opacity="0.58"/>
<rect x="513.65" y="400.00" width="16.50" height="1.00" fill="#000" opacity="0.10769643242488783"/>
<rect x="513.65" y="401.00" width="16.50" height="1.00" fill="#000" opacity="0.06681227752504847"/>
<rect x="513.65" y="402.00" width="16.50" height="1.00" fill="#000" opacity="0.09368719259586697"/>
<rect x="513.65" y="403.00" width="16.50" height="1.00" fill="#000" opacity="0.08365352409877368"/>
<rect x="513.65" y="404.00" width="16.50" height="1.00" fill="#000" opacity="0.07690861693310089"/>
<rect x="513.65" y="405.00" width="16.50" height="1.00" fill="#000" opacity="0.06053186252241048"/>
<rect x="513.65" y="406.00" width="16.50" height="1.00" fill="#000" opacity="0.05460313080931392"/>
<rect x="513.65" y="407.00" width="16.50" height="1.00" fill="#000" opacity="0.03451331220730618"/>
<rect x="513.65" y="408.00" width="16.50" height="1.00" fill="#000" opacity="0.036539114869052966"/>
<rect x="513.65" y="409.00" width="16.50" height="1.00" fill="#000" opacity="0.03049336893504037"/>
<rect x="513.65" y="410.00" width="16.50" height="1.00" fill="#000" opacity="0.06820335189097565"/>
<rect x="513.65" y="411.00" width="16.50" height="1.00" fill="#000" opacity="0.03658563260618182"/>
<rect x="513.65" y="412.00" width="16.50" height="1.00" fill="#000" opacity="0.02854479121658255"/>
<rect x="513.65" y="413.00" width="16.50" height="1.00" fill="#000" opacity="0.021319092362475842"/>
<rect x="513.65" y="414.00" width="16.50" height="1.00" fill="#000" opacity="0.0642261389110454"/>
<rect x="513.65" y="415.00" width="16.50" height="1.00" fill="#000" opacity="0.06348226927486489"/>
<rect x="513.65" y="416.00" width="16.50" height="1.00" fill="#000" opacity="0.04898259787452071"/>
<rect x="513.65" y="417.00" width="16.50" height="1.00" fill="#000" opacity="0.023165996938397767"/>
<rect x="513.65" y="418.00" width="16.50" height="1.00" fill="#000" opacity="0.01828277603954919"/>
<rect x="513.65" y="419.00" width="16.50" height="1.00" fill="#000" opacity="0.01883350955482013"/>
<rect x="513.65" y="412.50" width="16.50" height="2.00" fill="#000" opacity="0.1"/>
<rect x="534.75" y="290.00" width="16.50" height="1.00" fill="#000" opacity="0.04775311773578883"/>
<rect x="534.75" y="291.00" width="16.50" height="1.00" fill="#000" opacity="0.03442631759316823"/>
<rect x="534.75" y="292.00" width="16.50" height="1.00" fill="#000" opacity="0.04470798432934961"/>
<rect x="534.75" y="293.00" width="16.50" height="1.00" fill="#000" opacity="0.036154722679895564"/>
<rect x="534.75" y="294.00" width="16.50" height="1.00" fill="#000" opacity="0.06284646133450453"/>
<rect x="534.75" y="295.00" width="16.50" height="1.00" fill="#000" opacity="0.06202991991785506"/>
<rect x="534.75" y="296.00" width="16.50" height="1.00" fill="#000" opacity="0.04375793496475634"/>
<rect x="534.75" y="297.00" width="16.50" height="1.00" fill="#000" opacity="0.030402859757675742"/>
<rect x="534.75" y="298.00" width="16.50" height="1.00" fill="#000" opacity="0.0580016708023514"/>
<rect x="534.75" y="299.00" width="16.50" height="1.00" fill="#000" opacity="0.03050691670711811"/>
<rect x="534.75" y="300.00" width="16.50" height="1.00" fill="#000" opacity="0.031138356680559483"/>
<rect x="534.75" y="301.00" width="16.50" height="1.00" fill="#000" opacity="0.015667756597796914"/>
<rect x="534.75" y="302.00" width="16.50" height="1.00" fill="#000" opacity="0.029640064264503288"/>
<rect x="534.75" y="303.00" width="16.50" height="1.00" fill="#000" opacity="0.03211074509588745"/>
<rect x="534.75" y="304.00" width="16.50" height="1.00" fill="#000" opacity="0.031985560255055986"/>
<rect x="534.75" y="305.00" width="16.50" height="1.00" fill="#000" opacity="0.018664202168041287"/>
<rect x="534.75" y="308.60" width="16.50" height="2.20" fill="#000" opacity="0.82"/>
<rect x="534.67" y="308.30" width="4.12" height="2.80" fill="#000" opacity="0.75"/>
<rect x="547.21" y="308.30" width="4.12" height="2.80" fill="#000" opacity="0.75"/>
<rect x="534.75" y="310.80" width="16.50" height="2.20" fill="#000" opacity="0.2"/>
<rect x="534.75" y="313.00" width="16.50" height="1.00" fill="#000" opacity="0.3567100832746709"/>
<rect x="534.75" y="314.00" width="16.50" height="1.00" fill="#000" opacity="0.28864922789777375"/>
<rect x="534.75" y="315.00" width="16.50" height="1.00" fill="#000" opacity="0.3420288944901699"/>
<rect x="534.75" y="316.00" width="16.50" height="1.00" fill="#000" opacity="0.3260272103276234"/>
<rect x="534.75" y="317.00" width="16.50" height="1.00" fill="#000" opacity="0.38749321581765667"/>
<rect x="534.75" y="318.00" width="16.50" height="1.00" fill="#000" opacity="0.34214290370677486"/>
<rect x="534.75" y="319.00" width="16.50" height="1.00" fill="#000" opacity="0.35098001589619354"/>
<rect x="534.75" y="320.00" width="16.50" height="1.00" fill="#000" opacity="0.40796484392160837"/>
<rect x="534.75" y="321.00" width="16.50" height="1.00" fill="#000" opacity="0.40844000684500514"/>
<rect x="534.75" y="322.00" width="16.50" height="1.00" fill="#000" opacity="0.47678856356429944"/>
<rect x="534.75" y="323.00" width="16.50" height="1.00" fill="#000" opacity="0.4796703277268975"/>
<rect x="534.75" y="324.00" width="16.50" height="1.00" fill="#000" opacity="0.5269912627345207"/>
<rect x="534.75" y="325.00" width="16.50" height="1.00" fill="#000" opacity="0.5240165115395513"/>
<rect x="534.75" y="326.00" width="16.50" height="1.00" fill="#000" opacity="0.5452732361194556"/>
<rect x="534.75" y="327.00" width="16.50" height="1.00" fill="#000" opacity="0.58327355858983"/>
<rect x="534.75" y="328.00" width="16.50" height="1.00" fill="#000" opacity="0.5168464448934814"/>
<rect x="534.75" y="329.00" width="16.50" height="0.80" fill="#000" opacity="0.5174196558983107"/>
<rect x="534.75" y="329.80" width="16.50" height="2.40" fill="#000" opacity="0.78"/>
<rect x="534.75" y="332.20" width="16.50" height="4.40" fill="#000" opacity="0.2"/>
<rect x="534.75" y="336.60" width="16.50" height="2.80" fill="#000" opacity="0.45"/>
<rect x="534.75" y="339.40" width="16.50" height="1.00" fill="#000" opacity="0.31669690197362144"/>
<rect x="534.75" y="340.40" width="16.50" height="1.00" fill="#000" opacity="0.21352381317918803"/>
<rect x="534.75" y="341.40" width="16.50" height="1.00" fill="#000" opacity="0.2795457516269485"/>
<rect x="534.75" y="342.40" width="16.50" height="1.00" fill="#000" opacity="0.2668922163174847"/>
<rect x="534.75" y="343.40" width="16.50" height="1.00" fill="#000" opacity="0.1920192738853433"/>
<rect x="534.75" y="344.40" width="16.50" height="1.00" fill="#000" opacity="0.284058274599832"/>
<rect x="534.75" y="345.40" width="16.50" height="1.00" fill="#000" opacity="0.28791543564659783"/>
<rect x="534.75" y="346.40" width="16.50" height="1.00" fill="#000" opacity="0.25322103139041946"/>
<rect x="534.75" y="347.40" width="16.50" height="1.00" fill="#000" opacity="0.26306225481723544"/>
<rect x="534.75" y="348.40" width="16.50" height="1.00" fill="#000" opacity="0.2695250934148991"/>
<rect x="534.75" y="349.40" width="16.50" height="1.00" fill="#000" opacity="0.1858345602611281"/>
<rect x="534.75" y="350.40" width="16.50" height="1.00" fill="#000" opacity="0.22902734473165745"/>
<rect x="534.75" y="351.40" width="16.50" height="1.00" fill="#000" opacity="0.22375982026830243"/>
<rect x="534.75" y="352.40" width="16.50" height="1.00" fill="#000" opacity="0.2604866288595021"/>
<rect x="534.75" y="353.40" width="16.50" height="1.00" fill="#000" opacity="0.25391425386632316"/>
<rect x="534.75" y="354.40" width="16.50" height="1.00" fill="#000" opacity="0.25358085928612006"/>
<rect x="534.75" y="355.40" width="16.50" height="1.00" fill="#000" opacity="0.22155797025204288"/>
<rect x="534.75" y="356.40" width="16.50" height="1.00" fill="#000" opacity="0.2556689801333669"/>
<rect x="534.75" y="357.40" width="16.50" height="1.00" fill="#000" opacity="0.2275356796341778"/>
<rect x="534.75" y="358.40" width="16.50" height="1.00" fill="#000" opacity="0.22584619505944298"/>
<rect x="534.75" y="359.40" width="16.50" height="0.40" fill="#000" opacity="0.16818112175849737"/>
<rect x="534.75" y="360.20" width="16.50" height="3.20" fill="#000" opacity="0.68"/>
<rect x="533.92" y="365.60" width="18.15" height="9.00" fill="#000" opacity="1.0"/>
<rect x="534.75" y="365.00" width="4.62" height="10.20" fill="#000" opacity="0.6"/>
<rect x="546.63" y="365.00" width="4.62" height="10.20" fill="#000" opacity="0.6"/>
<rect x="534.75" y="376.00" width="16.50" height="1.00" fill="#000" opacity="0.09099284210316068"/>
<rect x="534.75" y="377.00" width="16.50" height="1.00" fill="#000" opacity="0.09614745583362572"/>
<rect x="534.75" y="378.00" width="16.50" height="1.00" fill="#000" opacity="0.11135659811467889"/>
<rect x="534.75" y="379.00" width="16.50" height="1.00" fill="#000" opacity="0.08789331768549577"/>
<rect x="534.75" y="380.00" width="16.50" height="1.00" fill="#000" opacity="0.1433656959839977"/>
<rect x="534.75" y="381.00" width="16.50" height="1.00" fill="#000" opacity="0.11818217971967478"/>
<rect x="534.75" y="382.00" width="16.50" height="1.00" fill="#000" opacity="0.12072136868169348"/>
<rect x="534.75" y="383.00" width="16.50" height="1.00" fill="#000" opacity="0.11759811671462289"/>
<rect x="534.75" y="384.00" width="16.50" height="1.00" fill="#000" opacity="0.11895313408646566"/>
<rect x="534.75" y="385.00" width="16.50" height="1.00" fill="#000" opacity="0.10064354518878037"/>
<rect x="534.75" y="386.00" width="16.50" height="1.00" fill="#000" opacity="0.05876514617022784"/>
<rect x="534.75" y="387.00" width="16.50" height="1.00" fill="#000" opacity="0.1193158041656682"/>
<rect x="534.75" y="388.00" width="16.50" height="1.00" fill="#000" opacity="0.11236122961789646"/>
<rect x="534.75" y="389.00" width="16.50" height="1.00" fill="#000" opacity="0.0897376841889963"/>
<rect x="534.75" y="390.00" width="16.50" height="1.00" fill="#000" opacity="0.08931598513838168"/>
<rect x="534.75" y="391.00" width="16.50" height="1.00" fill="#000" opacity="0.096243959144348"/>
<rect x="534.75" y="392.00" width="16.50" height="1.00" fill="#000" opacity="0.04578402849777217"/>
<rect x="534.75" y="393.00" width="16.50" height="1.00" fill="#000" opacity="0.09644306628338006"/>
<rect x="534.75" y="394.00" width="16.50" height="1.00" fill="#000" opacity="0.05467548251701522"/>
<rect x="534.75" y="395.00" width="16.50" height="1.00" fill="#000" opacity="0.037455999997933885"/>
<rect x="534.75" y="397.20" width="16.50" height="2.20" fill="#000" opacity="0.58"/>
<rect x="534.75" y="400.00" width="16.50" height="1.00" fill="#000" opacity="0.06468349333172393"/>
<rect x="534.75" y="401.00" width="16.50" height="1.00" fill="#000" opacity="0.09001010228236381"/>
<rect x="534.75" y="402.00" width="16.50" height="1.00" fill="#000" opacity="0.056063051624925184"/>
<rect x="534.75" y="403.00" width="16.50" height="1.00" fill="#000" opacity="0.08563971548524452"/>
<rect x="534.75" y="404.00" width="16.50" height="1.00" fill="#000" opacity="0.09729410564616622"/>
<rect x="534.75" y="405.00" width="16.50" height="1.00" fill="#000" opacity="0.06588692673095968"/>
<rect x="534.75" y="406.00" width="16.50" height="1.00" fill="#000" opacity="0.0567036286339491"/>
<rect x="534.75" y="407.00" width="16.50" height="1.00" fill="#000" opacity="0.059990609844237555"/>
<rect x="534.75" y="408.00" width="16.50" height="1.00" fill="#000" opacity="0.06977179376214108"/>
<rect x="534.75" y="409.00" width="16.50" height="1.00" fill="#000" opacity="0.07226820634905136"/>
<rect x="534.75" y="410.00" width="16.50" height="1.00" fill="#000" opacity="0.06076844094669498"/>
<rect x="534.75" y="411.00" width="16.50" height="1.00" fill="#000" opacity="0.05981577852291918"/>
<rect x="534.75" y="412.00" width="16.50" height="1.00" fill="#000" opacity="0.023398309171068044"/>
<rect x="534.75" y="413.00" width="16.50" height="1.00" fill="#000" opacity="0.025095504372614444"/>
<rect x="534.75" y="414.00" width="16.50" height="1.00" fill="#000" opacity="0.028986416899353724"/>
<rect x="534.75" y="415.00" width="16.50" height="1.00" fill="#000" opacity="0.05584303544143743"/>
<rect x="534.75" y="416.00" width="16.50" height="1.00" fill="#000" opacity="0.027015028277553952"/>
<rect x="534.75" y="417.00" width="16.50" height="1.00" fill="#000" opacity="0.040315701872158494"/>
<rect x="534.75" y="418.00" width="16.50" height="1.00" fill="#000" opacity="0.004498152799496363"/>
<rect x="534.75" y="419.00" width="16.50" height="1.00" fill="#000" opacity="0.004889660843818509"/>
<rect x="534.75" y="412.50" width="16.50" height="2.00" fill="#000" opacity="0.1"/>
<rect x="556.05" y="290.00" width="16.50" height="1.00" fill="#000" opacity="0.04012591063156992"/>
<rect x="556.05" y="291.00" width="16.50" height="1.00" fill="#000" opacity="0.05500506314620944"/>
<rect x="556.05" y="292.00" width="16.50" height="1.00" fill="#000" opacity="0.05456240690281792"/>
<rect x="556.05" y="293.00" width="16.50" height="1.00" fill="#000" opacity="0.052653306272510976"/>
<rect x="556.05" y="294.00" width="16.50" height="1.00" fill="#000" opacity="0.03600925913717476"/>
<rect x="556.05" y="295.00" width="16.50" height="1.00" fill="#000" opacity="0.04378642776177631"/>
<rect x="556.05" y="296.00" width="16.50" height="1.00" fill="#000" opacity="0.04046151413497258"/>
<rect x="556.05" y="297.00" width="16.50" height="1.00" fill="#000" opacity="0.03927856617187553"/>
<rect x="556.05" y="298.00" width="16.50" height="1.00" fill="#000" opacity="0.024115114508062717"/>
<rect x="556.05" y="299.00" width="16.50" height="1.00" fill="#000" opacity="0.053871517047010806"/>
<rect x="556.05" y="300.00" width="16.50" height="1.00" fill="#000" opacity="0.024845001194380118"/>
<rect x="556.05" y="301.00" width="16.50" height="1.00" fill="#000" opacity="0.054750029470281084"/>
<rect x="556.05" y="302.00" width="16.50" height="1.00" fill="#000" opacity="0.05182517363814866"/>
<rect x="556.05" y="303.00" width="16.50" height="1.00" fill="#000" opacity="0.013825178232666515"/>
<rect x="556.05" y="304.00" width="16.50" height="1.00" fill="#000" opacity="0.030233832918543885"/>
<rect x="556.05" y="305.00" width="16.50" height="1.00" fill="#000" opacity="0.04342090770799473"/>
<rect x="556.05" y="308.60" width="16.50" height="2.20" fill="#000" opacity="0.82"/>
<rect x="555.97" y="308.30" width="4.12" height="2.80" fill="#000" opacity="0.75"/>
<rect x="568.51" y="308.30" width="4.12" height="2.80" fill="#000" opacity="0.75"/>
<rect x="556.05" y="310.80" width="16.50" height="2.20" fill="#000" opacity="0.2"/>
<rect x="556.05" y="313.00" width="16.50" height="1.00" fill="#000" opacity="0.43084970121649285"/>
<rect x="556.05" y="314.00" width="16.50" height="1.00" fill="#000" opacity="0.35976929800131807"/>
<rect x="556.05" y="315.00" width="16.50" height="1.00" fill="#000" opacity="0.3427470631896777"/>
<rect x="556.05" y="316.00" width="16.50" height="1.00" fill="#000" opacity="0.3452406218646622"/>
<rect x="556.05" y="317.00" width="16.50" height="1.00" fill="#000" opacity="0.4748653928746074"/>
<rect x="556.05" y="318.00" width="16.50" height="1.00" fill="#000" opacity="0.3691895980816154"/>
<rect x="556.05" y="319.00" width="16.50" height="1.00" fill="#000" opacity="0.4404165312163242"/>
<rect x="556.05" y="320.00" width="16.50" height="1.00" fill="#000" opacity="0.3819642227432392"/>
<rect x="556.05" y="321.00" width="16.50" height="1.00" fill="#000" opacity="0.45504099019924726"/>
<rect x="556.05" y="322.00" width="16.50" height="1.00" fill="#000" opacity="0.5355336919597572"/>
<rect x="556.05" y="323.00" width="16.50" height="1.00" fill="#000" opacity="0.4162168116609641"/>
<rect x="556.05" y="324.00" width="16.50" height="1.00" fill="#000" opacity="0.5381394836031272"/>
<rect x="556.05" y="325.00" width="16.50" height="1.00" fill="#000" opacity="0.5002086203933287"/>
<rect x="556.05" y="326.00" width="16.50" height="1.00" fill="#000" opacity="0.5726122312526605"/>
<rect x="556.05" y="327.00" width="16.50" height="1.00" fill="#000" opacity="0.5551529738260994"/>
<rect x="556.05" y="328.00" width="16.50" height="1.00" fill="#000" opacity="0.49154518601188457"/>
<rect x="556.05" y="329.00" width="16.50" height="0.80" fill="#000" opacity="0.6088710065341588"/>
<rect x="556.05" y="329.80" width="16.50" height="2.40" fill="#000" opacity="0.78"/>
<rect x="556.05" y="332.20" width="16.50" height="4.40" fill="#000" opacity="0.2"/>
<rect x="556.05" y="336.60" width="16.50" height="2.80" fill="#000" opacity="0.45"/>
<rect x="556.05" y="339.40" width="16.50" height="1.00" fill="#000" opacity="0.25686629053596377"/>
<rect x="556.05" y="340.40" width="16.50" height="1.00" fill="#000" opacity="0.1985683636649975"/>
<rect x="556.05" y="341.40" width="16.50" height="1.00" fill="#000" opacity="0.19307791542389707"/>
<rect x="556.05" y="342.40" width="16.50" height="1.00" fill="#000" opacity="0.2487094154912057"/>
<rect x="556.05" y="343.40" width="16.50" height="1.00" fill="#000" opacity="0.24085594194209553"/>
<rect x="556.05" y="344.40" width="16.50" height="1.00" fill="#000" opacity="0.22005765436478086"/>
<rect x="556.05" y="345.40" width="16.50" height="1.00" fill="#000" opacity="0.19776721937209796"/>
<rect x="556.05" y="346.40" width="16.50" height="1.00" fill="#000" opacity="0.21921639404194174"/>
<rect x="556.05" y="347.40" width="16.50" height="1.00" fill="#000" opacity="0.2129293654449964"/>
<rect x="556.05" y="348.40" width="16.50" height="1.00" fill="#000" opacity="0.27288654756717023"/>
<rect x="556.05" y="349.40" width="16.50" height="1.00" fill="#000" opacity="0.16932661288892398"/>
<rect x="556.05" y="350.40" width="16.50" height="1.00" fill="#000" opacity="0.2562645555287934"/>
<rect x="556.05" y="351.40" width="16.50" height="1.00" fill="#000" opacity="0.2639285894757026"/>
<rect x="556.05" y="352.40" width="16.50" height="1.00" fill="#000" opacity="0.17469907935812082"/>
<rect x="556.05" y="353.40" width="16.50" height="1.00" fill="#000" opacity="0.26852080436283704"/>
<rect x="556.05" y="354.40" width="16.50" height="1.00" fill="#000" opacity="0.23997459260151327"/>
<rect x="556.05" y="355.40" width="16.50" height="1.00" fill="#000" opacity="0.2596585758071665"/>
<rect x="556.05" y="356.40" width="16.50" height="1.00" fill="#000" opacity="0.18330936684176902"/>
<rect x="556.05" y="357.40" width="16.50" height="1.00" fill="#000" opacity="0.19025487521665674"/>
<rect x="556.05" y="358.40" width="16.50" height="1.00" fill="#000" opacity="0.18979498466846206"/>
<rect x="556.05" y="359.40" width="16.50" height="0.40" fill="#000" opacity="0.26044333598839126"/>
<rect x="556.05" y="360.20" width="16.50" height="3.20" fill="#000" opacity="0.68"/>
<rect x="555.22" y="365.60" width="18.15" height="9.00" fill="#000" opacity="1.0"/>
<rect x="556.05" y="365.00" width="4.62" height="10.20" fill="#000" opacity="0.6"/>
<rect x="567.93" y="365.00" width="4.62" height="10.20" fill="#000" opacity="0.6"/>
<rect x="556.05" y="376.00" width="16.50" height="1.00" fill="#000" opacity="0.13563413243079225"/>
<rect x="556.05" y="377.00" width="16.50" height="1.00" fill="#000" opacity="0.1143567459138724"/>
<rect x="556.05" y="378.00" width="16.50" height="1.00" fill="#000" opacity="0.11674422011116528"/>
<rect x="556.05" y="379.00" width="16.50" height="1.00" fill="#000" opacity="0.10151242020979838"/>
<rect x="556.05" y="380.00" width="16.50" height="1.00" fill="#000" opacity="0.08036144773998125"/>
<rect x="556.05" y="381.00" width="16.50" height="1.00" fill="#000" opacity="0.08163678863741011"/>
<rect x="556.05" y="382.00" width="16.50" height="1.00" fill="#000" opacity="0.1372740795981754"/>
<rect x="556.05" y="383.00" width="16.50" height="1.00" fill="#000" opacity="0.09034985520539493"/>
<rect x="556.05" y="384.00" width="16.50" height="1.00" fill="#000" opacity="0.1393471910649028"/>
<rect x="556.05" y="385.00" width="16.50" height="1.00" fill="#000" opacity="0.08144597731294549"/>
<rect x="556.05" y="386.00" width="16.50" height="1.00" fill="#000" opacity="0.07975824119820639"/>
<rect x="556.05" y="387.00" width="16.50" height="1.00" fill="#000" opacity="0.09637703902459227"/>
<rect x="556.05" y="388.00" width="16.50" height="1.00" fill="#000" opacity="0.06768792377304055"/>
<rect x="556.05" y="389.00" width="16.50" height="1.00" fill="#000" opacity="0.07936794280120292"/>
<rect x="556.05" y="390.00" width="16.50" height="1.00" fill="#000" opacity="0.12299322118028858"/>
<rect x="556.05" y="391.00" width="16.50" height="1.00" fill="#000" opacity="0.11424132444203575"/>
<rect x="556.05" y="392.00" width="16.50" height="1.00" fill="#000" opacity="0.1054569813976618"/>
<rect x="556.05" y="393.00" width="16.50" height="1.00" fill="#000" opacity="0.08797166430952649"/>
<rect x="556.05" y="394.00" width="16.50" height="1.00" fill="#000" opacity="0.10757391099675082"/>
<rect x="556.05" y="395.00" width="16.50" height="1.00" fill="#000" opacity="0.10675594386705933"/>
<rect x="556.05" y="397.20" width="16.50" height="2.20" fill="#000" opacity="0.58"/>
<rect x="556.05" y="400.00" width="16.50" height="1.00" fill="#000" opacity="0.08170368889127783"/>
<rect x="556.05" y="401.00" width="16.50" height="1.00" fill="#000" opacity="0.08942435491706888"/>
<rect x="556.05" y="402.00" width="16.50" height="1.00" fill="#000" opacity="0.04671856206661404"/>
<rect x="556.05" y="403.00" width="16.50" height="1.00" fill="#000" opacity="0.08519114810714991"/>
<rect x="556.05" y="404.00" width="16.50" height="1.00" fill="#000" opacity="0.06580162537764642"/>
<rect x="556.05" y="405.00" width="16.50" height="1.00" fill="#000" opacity="0.08141008055444324"/>
<rect x="556.05" y="406.00" width="16.50" height="1.00" fill="#000" opacity="0.07241944262511082"/>
<rect x="556.05" y="407.00" width="16.50" height="1.00" fill="#000" opacity="0.04842249921809513"/>
<rect x="556.05" y="408.00" width="16.50" height="1.00" fill="#000" opacity="0.031688614299254965"/>
<rect x="556.05" y="409.00" width="16.50" height="1.00" fill="#000" opacity="0.08185662279282876"/>
<rect x="556.05" y="410.00" width="16.50" height="1.00" fill="#000" opacity="0.03138867922310358"/>
<rect x="556.05" y="411.00" width="16.50" height="1.00" fill="#000" opacity="0.049581045246809716"/>
<rect x="556.05" y="412.00" width="16.50" height="1.00" fill="#000" opacity="0.039369771159475764"/>
<rect x="556.05" y="413.00" width="16.50" height="1.00" fill="#000" opacity="0.034116311932687216"/>
<rect x="556.05" y="414.00" width="16.50" height="1.00" fill="#000" opacity="0.05809195029977498"/>
<rect x="556.05" y="415.00" width="16.50" height="1.00" fill="#000" opacity="0.06982777058459125"/>
<rect x="556.05" y="416.00" width="16.50" height="1.00" fill="#000" opacity="0.02436014327684459"/>
<rect x="556.05" y="417.00" width="16.50" height="1.00" fill="#000" opacity="0.04560971956193373"/>
<rect x="556.05" y="418.00" width="16.50" height="1.00" fill="#000" opacity="0.021800177462331358"/>
<rect x="556.05" y="419.00" width="16.50" height="1.00" fill="#000" opacity="0.03468930214742242"/>
<rect x="556.05" y="412.50" width="16.50" height="2.00" fill="#000" opacity="0.1"/>
<rect x="577.75" y="290.00" width="16.50" height="1.00" fill="#000" opacity="0.04514971110813097"/>
<rect x="577.75" y="291.00" width="16.50" height="1.00" fill="#000" opacity="0.03481829871034772"/>
<rect x="577.75" y="292.00" width="16.50" height="1.00" fill="#000" opacity="0.03334127845620233"/>
<rect x="577.75" y="293.00" width="16.50" height="1.00" fill="#000" opacity="0.03393990084546947"/>
<rect x="577.75" y="294.00" width="16.50" height="1.00" fill="#000" opacity="0.06061339640969829"/>
<rect x="577.75" y="295.00" width="16.50" height="1.00" fill="#000" opacity="0.0430080314130743"/>
<rect x="577.75" y="296.00" width="16.50" height="1.00" fill="#000" opacity="0.03067601008802237"/>
<rect x="577.75" y="297.00" width="16.50" height="1.00" fill="#000" opacity="0.05687537560845442"/>
<rect x="577.75" y="298.00" width="16.50" height="1.00" fill="#000" opacity="0.05923400454498763"/>
<rect x="577.75" y="299.00" width="16.50" height="1.00" fill="#000" opacity="0.03612341774327249"/>
<rect x="577.75" y="300.00" width="16.50" height="1.00" fill="#000" opacity="0.02245884255998888"/>
<rect x="577.75" y="301.00" width="16.50" height="1.00" fill="#000" opacity="0.023321283830429803"/>
<rect x="577.75" y="302.00" width="16.50" height="1.00" fill="#000" opacity="0.01800358032426092"/>
<rect x="577.75" y="303.00" width="16.50" height="1.00" fill="#000" opacity="0.026803209351263665"/>
<rect x="577.75" y="304.00" width="16.50" height="1.00" fill="#000" opacity="0.015518773591306129"/>
<rect x="577.75" y="305.00" width="16.50" height="1.00" fill="#000" opacity="0.020190063228698173"/>
<rect x="577.75" y="308.60" width="16.50" height="2.20" fill="#000" opacity="0.712"/>
<rect x="577.67" y="308.30" width="4.12" height="2.80" fill="#000" opacity="0.75"/>
<rect x="590.21" y="308.30" width="4.12" height="2.80" fill="#000" opacity="0.75"/>
<rect x="577.75" y="310.80" width="16.50" height="2.20" fill="#000" opacity="0.2"/>
<rect x="577.75" y="313.00" width="16.50" height="1.00" fill="#000" opacity="0.26389673471431085"/>
<rect x="577.75" y="314.00" width="16.50" height="1.00" fill="#000" opacity="0.3238174101991301"/>
<rect x="577.75" y="315.00" width="16.50" height="1.00" fill="#000" opacity="0.3847578525214942"/>
<rect x="577.75" y="316.00" width="16.50" height="1.00" fill="#000" opacity="0.37286188388341523"/>
<rect x="577.75" y="317.00" width="16.50" height="1.00" fill="#000" opacity="0.32908077966824006"/>
<rect x="577.75" y="318.00" width="16.50" height="1.00" fill="#000" opacity="0.33937613349089457"/>
<rect x="577.75" y="319.00" width="16.50" height="1.00" fill="#000" opacity="0.36714071236395285"/>
<rect x="577.75" y="320.00" width="16.50" height="1.00" fill="#000" opacity="0.35369138732836564"/>
<rect x="577.75" y="321.00" width="16.50" height="1.00" fill="#000" opacity="0.35762440084243563"/>
<rect x="577.75" y="322.00" width="16.50" height="1.00" fill="#000" opacity="0.3235604752507132"/>
<rect x="577.75" y="323.00" width="16.50" height="1.00" fill="#000" opacity="0.3681526155165204"/>
<rect x="577.75" y="324.00" width="16.50" height="1.00" fill="#000" opacity="0.48869868962895574"/>
<rect x="577.75" y="325.00" width="16.50" height="1.00" fill="#000" opacity="0.364127903519461"/>
<rect x="577.75" y="326.00" width="16.50" height="1.00" fill="#000" opacity="0.4346504624749217"/>
<rect x="577.75" y="327.00" width="16.50" height="1.00" fill="#000" opacity="0.46496649541154067"/>
<rect x="577.75" y="328.00" width="16.50" height="1.00" fill="#000" opacity="0.5124030539433886"/>
<rect x="577.75" y="329.00" width="16.50" height="0.80" fill="#000" opacity="0.4180064834835731"/>
<rect x="577.75" y="329.80" width="16.50" height="2.40" fill="#000" opacity="0.663"/>
<rect x="577.75" y="332.20" width="16.50" height="4.40" fill="#000" opacity="0.2"/>
<rect x="577.75" y="336.60" width="16.50" height="2.80" fill="#000" opacity="0.3825"/>
<rect x="577.75" y="339.40" width="16.50" height="1.00" fill="#000" opacity="0.2310519174922266"/>
<rect x="577.75" y="340.40" width="16.50" height="1.00" fill="#000" opacity="0.22540267326573413"/>
<rect x="577.75" y="341.40" width="16.50" height="1.00" fill="#000" opacity="0.24061791523301215"/>
<rect x="577.75" y="342.40" width="16.50" height="1.00" fill="#000" opacity="0.24320888943573432"/>
<rect x="577.75" y="343.40" width="16.50" height="1.00" fill="#000" opacity="0.3012379349139301"/>
<rect x="577.75" y="344.40" width="16.50" height="1.00" fill="#000" opacity="0.28566557055941905"/>
<rect x="577.75" y="345.40" width="16.50" height="1.00" fill="#000" opacity="0.28562927129286286"/>
<rect x="577.75" y="346.40" width="16.50" height="1.00" fill="#000" opacity="0.1805584376960923"/>
<rect x="577.75" y="347.40" width="16.50" height="1.00" fill="#000" opacity="0.1788692192064523"/>
<rect x="577.75" y="348.40" width="16.50" height="1.00" fill="#000" opacity="0.2572002377220503"/>
<rect x="577.75" y="349.40" width="16.50" height="1.00" fill="#000" opacity="0.27660122938045184"/>
<rect x="577.75" y="350.40" width="16.50" height="1.00" fill="#000" opacity="0.2229686639130527"/>
<rect x="577.75" y="351.40" width="16.50" height="1.00" fill="#000" opacity="0.2336964729775584"/>
<rect x="577.75" y="352.40" width="16.50" height="1.00" fill="#000" opacity="0.160315560185384"/>
<rect x="577.75" y="353.40" width="16.50" height="1.00" fill="#000" opacity="0.20433547266164542"/>
<rect x="577.75" y="354.40" width="16.50" height="1.00" fill="#000" opacity="0.2656310375532017"/>
<rect x="577.75" y="355.40" width="16.50" height="1.00" fill="#000" opacity="0.2505412929885692"/>
<rect x="577.75" y="356.40" width="16.50" height="1.00" fill="#000" opacity="0.25118493262241387"/>
<rect x="577.75" y="357.40" width="16.50" height="1.00" fill="#000" opacity="0.26225716992154674"/>
<rect x="577.75" y="358.40" width="16.50" height="1.00" fill="#000" opacity="0.17246289279423166"/>
<rect x="577.75" y="359.40" width="16.50" height="0.40" fill="#000" opacity="0.1536737551656509"/>
<rect x="577.75" y="360.20" width="16.50" height="3.20" fill="#000" opacity="0.68"/>
<rect x="576.92" y="365.60" width="18.15" height="9.00" fill="#000" opacity="1.0"/>
<rect x="577.75" y="365.00" width="4.62" height="10.20" fill="#000" opacity="0.6"/>
<rect x="589.63" y="365.00" width="4.62" height="10.20" fill="#000" opacity="0.6"/>
<rect x="577.75" y="376.00" width="16.50" height="1.00" fill="#000" opacity="0.10085027083877815"/>
<rect x="577.75" y="377.00" width="16.50" height="1.00" fill="#000" opacity="0.12728924856894464"/>
<rect x="577.75" y="378.00" width="16.50" height="1.00" fill="#000" opacity="0.13706600493722582"/>
<rect x="577.75" y="379.00" width="16.50" height="1.00" fill="#000" opacity="0.1548192447575303"/>
<rect x="577.75" y="380.00" width="16.50" height="1.00" fill="#000" opacity="0.1342388231164239"/>
<rect x="577.75" y="381.00" width="16.50" height="1.00" fill="#000" opacity="0.12528784957320005"/>
<rect x="577.75" y="382.00" width="16.50" height="1.00" fill="#000" opacity="0.13168404382162505"/>
<rect x="577.75" y="383.00" width="16.50" height="1.00" fill="#000" opacity="0.1040860033541938"/>
<rect x="577.75" y="384.00" width="16.50" height="1.00" fill="#000" opacity="0.10862007318548061"/>
<rect x="577.75" y="385.00" width="16.50" height="1.00" fill="#000" opacity="0.06466370070062044"/>
<rect x="577.75" y="386.00" width="16.50" height="1.00" fill="#000" opacity="0.12108388944009052"/>
<rect x="577.75" y="387.00" width="16.50" height="1.00" fill="#000" opacity="0.07410614631735223"/>
<rect x="577.75" y="388.00" width="16.50" height="1.00" fill="#000" opacity="0.1260936087593983"/>
<rect x="577.75" y="389.00" width="16.50" height="1.00" fill="#000" opacity="0.10114046210945941"/>
<rect x="577.75" y="390.00" width="16.50" height="1.00" fill="#000" opacity="0.07080258093025381"/>
<rect x="577.75" y="391.00" width="16.50" height="1.00" fill="#000" opacity="0.053737347857041796"/>
<rect x="577.75" y="392.00" width="16.50" height="1.00" fill="#000" opacity="0.06064351578250716"/>
<rect x="577.75" y="393.00" width="16.50" height="1.00" fill="#000" opacity="0.0884032877906743"/>
<rect x="577.75" y="394.00" width="16.50" height="1.00" fill="#000" opacity="0.09038655338516477"/>
<rect x="577.75" y="395.00" width="16.50" height="1.00" fill="#000" opacity="0.04047061473098087"/>
<rect x="577.75" y="397.20" width="16.50" height="2.20" fill="#000" opacity="0.58"/>
<rect x="577.75" y="400.00" width="16.50" height="1.00" fill="#000" opacity="0.05297111450151322"/>
<rect x="577.75" y="401.00" width="16.50" height="1.00" fill="#000" opacity="0.07771620092252216"/>
<rect x="577.75" y="402.00" width="16.50" height="1.00" fill="#000" opacity="0.0787234584354021"/>
<rect x="577.75" y="403.00" width="16.50" height="1.00" fill="#000" opacity="0.06453491684535827"/>
<rect x="577.75" y="404.00" width="16.50" height="1.00" fill="#000" opacity="0.0521649820166024"/>
<rect x="577.75" y="405.00" width="16.50" height="1.00" fill="#000" opacity="0.07231365382722857"/>
<rect x="577.75" y="406.00" width="16.50" height="1.00" fill="#000" opacity="0.034377698393528014"/>
<rect x="577.75" y="407.00" width="16.50" height="1.00" fill="#000" opacity="0.049341278074550944"/>
<rect x="577.75" y="408.00" width="16.50" height="1.00" fill="#000" opacity="0.05639143762526079"/>
<rect x="577.75" y="409.00" width="16.50" height="1.00" fill="#000" opacity="0.08378639831380115"/>
<rect x="577.75" y="410.00" width="16.50" height="1.00" fill="#000" opacity="0.062424538361762996"/>
<rect x="577.75" y="411.00" width="16.50" height="1.00" fill="#000" opacity="0.07427644174204362"/>
<rect x="577.75" y="412.00" width="16.50" height="1.00" fill="#000" opacity="0.04726825320405262"/>
<rect x="577.75" y="413.00" width="16.50" height="1.00" fill="#000" opacity="0.03033608580246667"/>
<rect x="577.75" y="414.00" width="16.50" height="1.00" fill="#000" opacity="0.028573503060317418"/>
<rect x="577.75" y="415.00" width="16.50" height="1.00" fill="#000" opacity="0.06888685378960227"/>
<rect x="577.75" y="416.00" width="16.50" height="1.00" fill="#000" opacity="0.05102921976878493"/>
<rect x="577.75" y="417.00" width="16.50" height="1.00" fill="#000" opacity="0.024693869675088843"/>
<rect x="577.75" y="418.00" width="16.50" height="1.00" fill="#000" opacity="0.005057243046514039"/>
<rect x="577.75" y="419.00" width="16.50" height="1.00" fill="#000" opacity="0.031148614682934516"/>
<rect x="577.75" y="412.50" width="16.50" height="2.00" fill="#000" opacity="0.1"/>
<rect x="597.95" y="290.00" width="16.50" height="1.00" fill="#000" opacity="0.05635353048061381"/>
<rect x="597.95" y="291.00" width="16.50" height="1.00" fill="#000" opacity="0.04492563488515975"/>
<rect x="597.95" y="292.00" width="16.50" height="1.00" fill="#000" opacity="0.03716524488563552"/>
<rect x="597.95" y="293.00" width="16.50" height="1.00" fill="#000" opacity="0.052319201953507186"/>
<rect x="597.95" y="294.00" width="16.50" height="1.00" fill="#000" opacity="0.06138143312043488"/>
<rect x="597.95" y="295.00" width="16.50" height="1.00" fill="#000" opacity="0.032196442929787475"/>
<rect x="597.95" y="296.00" width="16.50" height="1.00" fill="#000" opacity="0.0232388969349333"/>
<rect x="597.95" y="297.00" width="16.50" height="1.00" fill="#000" opacity="0.03414706281373865"/>
<rect x="597.95" y="298.00" width="16.50" height="1.00" fill="#000" opacity="0.03619727383921143"/>
<rect x="597.95" y="299.00" width="16.50" height="1.00" fill="#000" opacity="0.04542766731868929"/>
<rect x="597.95" y="300.00" width="16.50" height="1.00" fill="#000" opacity="0.024798185529337363"/>
<rect x="597.95" y="301.00" width="16.50" height="1.00" fill="#000" opacity="0.04750756868484951"/>
<rect x="597.95" y="302.00" width="16.50" height="1.00" fill="#000" opacity="0.043940168871030125"/>
<rect x="597.95" y="303.00" width="16.50" height="1.00" fill="#000" opacity="0.033320135494301455"/>
<rect x="597.95" y="304.00" width="16.50" height="1.00" fill="#000" opacity="0.020083743481545333"/>
<rect x="597.95" y="305.00" width="16.50" height="1.00" fill="#000" opacity="0.04941934889567309"/>
<rect x="597.95" y="308.60" width="16.50" height="2.20" fill="#000" opacity="0.712"/>
<rect x="597.87" y="308.30" width="4.12" height="2.80" fill="#000" opacity="0.75"/>
<rect x="610.41" y="308.30" width="4.12" height="2.80" fill="#000" opacity="0.75"/>
<rect x="597.95" y="310.80" width="16.50" height="2.20" fill="#000" opacity="0.2"/>
<rect x="597.95" y="313.00" width="16.50" height="1.00" fill="#000" opacity="0.27243404264012966"/>
<rect x="597.95" y="314.00" width="16.50" height="1.00" fill="#000" opacity="0.3638792905394576"/>
<rect x="597.95" y="315.00" width="16.50" height="1.00" fill="#000" opacity="0.27972702910601493"/>
<rect x="597.95" y="316.00" width="16.50" height="1.00" fill="#000" opacity="0.28834751677317055"/>
<rect x="597.95" y="317.00" width="16.50" height="1.00" fill="#000" opacity="0.38471103263332795"/>
<rect x="597.95" y="318.00" width="16.50" height="1.00" fill="#000" opacity="0.3203440179875447"/>
<rect x="597.95" y="319.00" width="16.50" height="1.00" fill="#000" opacity="0.43558211100076133"/>
<rect x="597.95" y="320.00" width="16.50" height="1.00" fill="#000" opacity="0.3727152138557924"/>
<rect x="597.95" y="321.00" width="16.50" height="1.00" fill="#000" opacity="0.3334820188696043"/>
<rect x="597.95" y="322.00" width="16.50" height="1.00" fill="#000" opacity="0.3493628145505194"/>
<rect x="597.95" y="323.00" width="16.50" height="1.00" fill="#000" opacity="0.3904746531372022"/>
<rect x="597.95" y="324.00" width="16.50" height="1.00" fill="#000" opacity="0.4403161280600659"/>
<rect x="597.95" y="325.00" width="16.50" height="1.00" fill="#000" opacity="0.4957899038275562"/>
<rect x="597.95" y="326.00" width="16.50" height="1.00" fill="#000" opacity="0.37752843149278237"/>
<rect x="597.95" y="327.00" width="16.50" height="1.00" fill="#000" opacity="0.4271797866561029"/>
<rect x="597.95" y="328.00" width="16.50" height="1.00" fill="#000" opacity="0.4084170900921709"/>
<rect x="597.95" y="329.00" width="16.50" height="0.80" fill="#000" opacity="0.5393115337416481"/>
<rect x="597.95" y="329.80" width="16.50" height="2.40" fill="#000" opacity="0.663"/>
<rect x="597.95" y="332.20" width="16.50" height="4.40" fill="#000" opacity="0.2"/>
<rect x="597.95" y="336.60" width="16.50" height="2.80" fill="#000" opacity="0.3825"/>
<rect x="597.95" y="339.40" width="16.50" height="1.00" fill="#000" opacity="0.21555874107838785"/>
<rect x="597.95" y="340.40" width="16.50" height="1.00" fill="#000" opacity="0.20180910028434482"/>
<rect x="597.95" y="341.40" width="16.50" height="1.00" fill="#000" opacity="0.1998632893209834"/>
<rect x="597.95" y="342.40" width="16.50" height="1.00" fill="#000" opacity="0.2369044859081812"/>
<rect x="597.95" y="343.40" width="16.50" height="1.00" fill="#000" opacity="0.29454479470522565"/>
<rect x="597.95" y="344.40" width="16.50" height="1.00" fill="#000" opacity="0.28985356590369515"/>
<rect x="597.95" y="345.40" width="16.50" height="1.00" fill="#000" opacity="0.26880920485141496"/>
<rect x="597.95" y="346.40" width="16.50" height="1.00" fill="#000" opacity="0.29764475310633154"/>
<rect x="597.95" y="347.40" width="16.50" height="1.00" fill="#000" opacity="0.28679145976808706"/>
<rect x="597.95" y="348.40" width="16.50" height="1.00" fill="#000" opacity="0.21156795471424325"/>
<rect x="597.95" y="349.40" width="16.50" height="1.00" fill="#000" opacity="0.19137910985378453"/>
<rect x="597.95" y="350.40" width="16.50" height="1.00" fill="#000" opacity="0.27848225677302096"/>
<rect x="597.95" y="351.40" width="16.50" height="1.00" fill="#000" opacity="0.2527923071533163"/>
<rect x="597.95" y="352.40" width="16.50" height="1.00" fill="#000" opacity="0.164121360181065"/>
<rect x="597.95" y="353.40" width="16.50" height="1.00" fill="#000" opacity="0.23708452482423795"/>
<rect x="597.95" y="354.40" width="16.50" height="1.00" fill="#000" opacity="0.19984609466783232"/>
<rect x="597.95" y="355.40" width="16.50" height="1.00" fill="#000" opacity="0.19633662261041004"/>
<rect x="597.95" y="356.40" width="16.50" height="1.00" fill="#000" opacity="0.18833311052119375"/>
<rect x="597.95" y="357.40" width="16.50" height="1.00" fill="#000" opacity="0.16589954836503276"/>
<rect x="597.95" y="358.40" width="16.50" height="1.00" fill="#000" opacity="0.14299154572610204"/>
<rect x="597.95" y="359.40" width="16.50" height="0.40" fill="#000" opacity="0.17416500668523785"/>
<rect x="597.95" y="360.20" width="16.50" height="3.20" fill="#000" opacity="0.68"/>
<rect x="597.12" y="365.60" width="18.15" height="9.00" fill="#000" opacity="1.0"/>
<rect x="597.95" y="365.00" width="4.62" height="10.20" fill="#000" opacity="0.6"/>
<rect x="609.83" y="365.00" width="4.62" height="10.20" fill="#000" opacity="0.6"/>
<rect x="597.95" y="376.00" width="16.50" height="1.00" fill="#000" opacity="0.11661734880219886"/>
<rect x="597.95" y="377.00" width="16.50" height="1.00" fill="#000" opacity="0.1619411865980462"/>
<rect x="597.95" y="378.00" width="16.50" height="1.00" fill="#000" opacity="0.0923966625697189"/>
<rect x="597.95" y="379.00" width="16.50" height="1.00" fill="#000" opacity="0.15664169726300536"/>
<rect x="597.95" y="380.00" width="16.50" height="1.00" fill="#000" opacity="0.09309219466455561"/>
<rect x="597.95" y="381.00" width="16.50" height="1.00" fill="#000" opacity="0.10203033767266993"/>
<rect x="597.95" y="382.00" width="16.50" height="1.00" fill="#000" opacity="0.1362258893899317"/>
<rect x="597.95" y="383.00" width="16.50" height="1.00" fill="#000" opacity="0.13326063859697357"/>
<rect x="597.95" y="384.00" width="16.50" height="1.00" fill="#000" opacity="0.09909594672188775"/>
<rect x="597.95" y="385.00" width="16.50" height="1.00" fill="#000" opacity="0.06544058686808138"/>
<rect x="597.95" y="386.00" width="16.50" height="1.00" fill="#000" opacity="0.09637712406856766"/>
<rect x="597.95" y="387.00" width="16.50" height="1.00" fill="#000" opacity="0.08531715115399899"/>
<rect x="597.95" y="388.00" width="16.50" height="1.00" fill="#000" opacity="0.12606051352402417"/>
<rect x="597.95" y="389.00" width="16.50" height="1.00" fill="#000" opacity="0.06494209499556373"/>
<rect x="597.95" y="390.00" width="16.50" height="1.00" fill="#000" opacity="0.07563990899164666"/>
<rect x="597.95" y="391.00" width="16.50" height="1.00" fill="#000" opacity="0.11525946919592281"/>
<rect x="597.95" y="392.00" width="16.50" height="1.00" fill="#000" opacity="0.042922564406193575"/>
<rect x="597.95" y="393.00" width="16.50" height="1.00" fill="#000" opacity="0.07036414638043229"/>
<rect x="597.95" y="394.00" width="16.50" height="1.00" fill="#000" opacity="0.09944596220577259"/>
<rect x="597.95" y="395.00" width="16.50" height="1.00" fill="#000" opacity="0.09283344018743792"/>
<rect x="597.95" y="397.20" width="16.50" height="2.20" fill="#000" opacity="0.58"/>
<rect x="597.95" y="400.00" width="16.50" height="1.00" fill="#000" opacity="0.05118896903495535"/>
<rect x="597.95" y="401.00" width="16.50" height="1.00" fill="#000" opacity="0.04834126314403889"/>
<rect x="597.95" y="402.00" width="16.50" height="1.00" fill="#000" opacity="0.04750479659587356"/>
<rect x="597.95" y="403.00" width="16.50" height="1.00" fill="#000" opacity="0.09645460325271066"/>
<rect x="597.95" y="404.00" width="16.50" height="1.00" fill="#000" opacity="0.05417095714581376"/>
<rect x="597.95" y="405.00" width="16.50" height="1.00" fill="#000" opacity="0.0810872082693212"/>
<rect x="597.95" y="406.00" width="16.50" height="1.00" fill="#000" opacity="0.08766310733807815"/>
<rect x="597.95" y="407.00" width="16.50" height="1.00" fill="#000" opacity="0.05159417198433322"/>
<rect x="597.95" y="408.00" width="16.50" height="1.00" fill="#000" opacity="0.0450888797648121"/>
<rect x="597.95" y="409.00" width="16.50" height="1.00" fill="#000" opacity="0.08371137631852735"/>
<rect x="597.95" y="410.00" width="16.50" height="1.00" fill="#000" opacity="0.060768708904200296"/>
<rect x="597.95" y="411.00" width="16.50" height="1.00" fill="#000" opacity="0.03698034841408039"/>
<rect x="597.95" y="412.00" width="16.50" height="1.00" fill="#000" opacity="0.061748144785870915"/>
<rect x="597.95" y="413.00" width="16.50" height="1.00" fill="#000" opacity="0.03523901786993209"/>
<rect x="597.95" y="414.00" width="16.50" height="1.00" fill="#000" opacity="0.030287819637688642"/>
<rect x="597.95" y="415.00" width="16.50" height="1.00" fill="#000" opacity="0.01147629695604982"/>
<rect x="597.95" y="416.00" width="16.50" height="1.00" fill="#000" opacity="0.05408914235036141"/>
<rect x="597.95" y="417.00" width="16.50" height="1.00" fill="#000" opacity="0.061237576218988746"/>
<rect x="597.95" y="418.00" width="16.50" height="1.00" fill="#000" opacity="0.0417888025700246"/>
<rect x="597.95" y="419.00" width="16.50" height="1.00" fill="#000" opacity="0.05784500855147783"/>
<rect x="597.95" y="412.50" width="16.50" height="2.00" fill="#000" opacity="0.1"/>
<rect x="617.85" y="290.00" width="16.50" height="1.00" fill="#000" opacity="0.03034526819766114"/>
<rect x="617.85" y="291.00" width="16.50" height="1.00" fill="#000" opacity="0.03747965041019361"/>
<rect x="617.85" y="292.00" width="16.50" height="1.00" fill="#000" opacity="0.04588256231414413"/>
<rect x="617.85" y="293.00" width="16.50" height="1.00" fill="#000" opacity="0.06389610602430817"/>
<rect x="617.85" y="294.00" width="16.50" height="1.00" fill="#000" opacity="0.06253142320405146"/>
<rect x="617.85" y="295.00" width="16.50" height="1.00" fill="#000" opacity="0.03858559155160155"/>
<rect x="617.85" y="296.00" width="16.50" height="1.00" fill="#000" opacity="0.03191687283323525"/>
<rect x="617.85" y="297.00" width="16.50" height="1.00" fill="#000" opacity="0.037822523359894826"/>
<rect x="617.85" y="298.00" width="16.50" height="1.00" fill="#000" opacity="0.039113953749152205"/>
<rect x="617.85" y="299.00" width="16.50" height="1.00" fill="#000" opacity="0.05524897679583449"/>
<rect x="617.85" y="300.00" width="16.50" height="1.00" fill="#000" opacity="0.024192569258423197"/>
<rect x="617.85" y="301.00" width="16.50" height="1.00" fill="#000" opacity="0.04772773293586262"/>
<rect x="617.85" y="302.00" width="16.50" height="1.00" fill="#000" opacity="0.043914520532880655"/>
<rect x="617.85" y="303.00" width="16.50" height="1.00" fill="#000" opacity="0.04603521010044513"/>
<rect x="617.85" y="304.00" width="16.50" height="1.00" fill="#000" opacity="0.042787375197206504"/>
<rect x="617.85" y="305.00" width="16.50" height="1.00" fill="#000" opacity="0.0349151692498155"/>
<rect x="617.85" y="308.60" width="16.50" height="2.20" fill="#000" opacity="0.6759999999999999"/>
<rect x="617.77" y="308.30" width="4.12" height="2.80" fill="#000" opacity="0.75"/>
<rect x="630.31" y="308.30" width="4.12" height="2.80" fill="#000" opacity="0.75"/>
<rect x="617.85" y="310.80" width="16.50" height="2.20" fill="#000" opacity="0.2"/>
<rect x="617.85" y="313.00" width="16.50" height="1.00" fill="#000" opacity="0.2572098745099754"/>
<rect x="617.85" y="314.00" width="16.50" height="1.00" fill="#000" opacity="0.2654135193527542"/>
<rect x="617.85" y="315.00" width="16.50" height="1.00" fill="#000" opacity="0.2817068743399491"/>
<rect x="617.85" y="316.00" width="16.50" height="1.00" fill="#000" opacity="0.35849311263845396"/>
<rect x="617.85" y="317.00" width="16.50" height="1.00" fill="#000" opacity="0.2554995222744249"/>
<rect x="617.85" y="318.00" width="16.50" height="1.00" fill="#000" opacity="0.28395083905545826"/>
<rect x="617.85" y="319.00" width="16.50" height="1.00" fill="#000" opacity="0.3823664692105954"/>
<rect x="617.85" y="320.00" width="16.50" height="1.00" fill="#000" opacity="0.31099777338407675"/>
<rect x="617.85" y="321.00" width="16.50" height="1.00" fill="#000" opacity="0.2913096650805056"/>
<rect x="617.85" y="322.00" width="16.50" height="1.00" fill="#000" opacity="0.295894385582804"/>
<rect x="617.85" y="323.00" width="16.50" height="1.00" fill="#000" opacity="0.3884151429469783"/>
<rect x="617.85" y="324.00" width="16.50" height="1.00" fill="#000" opacity="0.36164514617548327"/>
<rect x="617.85" y="325.00" width="16.50" height="1.00" fill="#000" opacity="0.4758885423886003"/>
<rect x="617.85" y="326.00" width="16.50" height="1.00" fill="#000" opacity="0.4699273688003931"/>
<rect x="617.85" y="327.00" width="16.50" height="1.00" fill="#000" opacity="0.4961470508300387"/>
<rect x="617.85" y="328.00" width="16.50" height="1.00" fill="#000" opacity="0.39000165820783844"/>
<rect x="617.85" y="329.00" width="16.50" height="0.80" fill="#000" opacity="0.36964369179947926"/>
<rect x="617.85" y="329.80" width="16.50" height="2.40" fill="#000" opacity="0.6240000000000001"/>
<rect x="617.85" y="332.20" width="16.50" height="4.40" fill="#000" opacity="0.2"/>
<rect x="617.85" y="336.60" width="16.50" height="2.80" fill="#000" opacity="0.36000000000000004"/>
<rect x="617.85" y="339.40" width="16.50" height="1.00" fill="#000" opacity="0.2101001211908648"/>
<rect x="617.85" y="340.40" width="16.50" height="1.00" fill="#000" opacity="0.25540526750175463"/>
<rect x="617.85" y="341.40" width="16.50" height="1.00" fill="#000" opacity="0.27781959934406336"/>
<rect x="617.85" y="342.40" width="16.50" height="1.00" fill="#000" opacity="0.24334145470283988"/>
<rect x="617.85" y="343.40" width="16.50" height="1.00" fill="#000" opacity="0.21486826174012863"/>
<rect x="617.85" y="344.40" width="16.50" height="1.00" fill="#000" opacity="0.2338444051586024"/>
<rect x="617.85" y="345.40" width="16.50" height="1.00" fill="#000" opacity="0.25531927044697356"/>
<rect x="617.85" y="346.40" width="16.50" height="1.00" fill="#000" opacity="0.25883421072156293"/>
<rect x="617.85" y="347.40" width="16.50" height="1.00" fill="#000" opacity="0.2647572453664821"/>
<rect x="617.85" y="348.40" width="16.50" height="1.00" fill="#000" opacity="0.2736972724596817"/>
<rect x="617.85" y="349.40" width="16.50" height="1.00" fill="#000" opacity="0.2488486737317531"/>
<rect x="617.85" y="350.40" width="16.50" height="1.00" fill="#000" opacity="0.18071623908714834"/>
<rect x="617.85" y="351.40" width="16.50" height="1.00" fill="#000" opacity="0.2641398356940834"/>
<rect x="617.85" y="352.40" width="16.50" height="1.00" fill="#000" opacity="0.1955479752710505"/>
<rect x="617.85" y="353.40" width="16.50" height="1.00" fill="#000" opacity="0.22537904598521774"/>
<rect x="617.85" y="354.40" width="16.50" height="1.00" fill="#000" opacity="0.19916828919783913"/>
<rect x="617.85" y="355.40" width="16.50" height="1.00" fill="#000" opacity="0.24003867956254576"/>
<rect x="617.85" y="356.40" width="16.50" height="1.00" fill="#000" opacity="0.1724322226715314"/>
<rect x="617.85" y="357.40" width="16.50" height="1.00" fill="#000" opacity="0.17527973046149511"/>
<rect x="617.85" y="358.40" width="16.50" height="1.00" fill="#000" opacity="0.17208789445040348"/>
<rect x="617.85" y="359.40" width="16.50" height="0.40" fill="#000" opacity="0.1589868992452947"/>
<rect x="617.85" y="360.20" width="16.50" height="3.20" fill="#000" opacity="0.68"/>
<rect x="617.02" y="365.60" width="18.15" height="9.00" fill="#000" opacity="1.0"/>
<rect x="617.85" y="365.00" width="4.62" height="10.20" fill="#000" opacity="0.6"/>
<rect x="629.73" y="365.00" width="4.62" height="10.20" fill="#000" opacity="0.6"/>
<rect x="617.85" y="376.00" width="16.50" height="1.00" fill="#000" opacity="0.1592334255621244"/>
<rect x="617.85" y="377.00" width="16.50" height="1.00" fill="#000" opacity="0.13176246046319612"/>
<rect x="617.85" y="378.00" width="16.50" height="1.00" fill="#000" opacity="0.1086070335297609"/>
<rect x="617.85" y="379.00" width="16.50" height="1.00" fill="#000" opacity="0.11118556764820442"/>
<rect x="617.85" y="380.00" width="16.50" height="1.00" fill="#000" opacity="0.15589589813110186"/>
<rect x="617.85" y="381.00" width="16.50" height="1.00" fill="#000" opacity="0.11408596105951593"/>
<rect x="617.85" y="382.00" width="16.50" height="1.00" fill="#000" opacity="0.08901047554590741"/>
<rect x="617.85" y="383.00" width="16.50" height="1.00" fill="#000" opacity="0.13217543131145384"/>
<rect x="617.85" y="384.00" width="16.50" height="1.00" fill="#000" opacity="0.11676612416739207"/>
<rect x="617.85" y="385.00" width="16.50" height="1.00" fill="#000" opacity="0.14077645208658168"/>
<rect x="617.85" y="386.00" width="16.50" height="1.00" fill="#000" opacity="0.06668659365444904"/>
<rect x="617.85" y="387.00" width="16.50" height="1.00" fill="#000" opacity="0.09348102073837818"/>
<rect x="617.85" y="388.00" width="16.50" height="1.00" fill="#000" opacity="0.11802821649975392"/>
<rect x="617.85" y="389.00" width="16.50" height="1.00" fill="#000" opacity="0.11674450912970133"/>
<rect x="617.85" y="390.00" width="16.50" height="1.00" fill="#000" opacity="0.11965004430644291"/>
<rect x="617.85" y="391.00" width="16.50" height="1.00" fill="#000" opacity="0.046728949235011454"/>
<rect x="617.85" y="392.00" width="16.50" height="1.00" fill="#000" opacity="0.06399419726901812"/>
<rect x="617.85" y="393.00" width="16.50" height="1.00" fill="#000" opacity="0.047037330299849016"/>
<rect x="617.85" y="394.00" width="16.50" height="1.00" fill="#000" opacity="0.049665854454334565"/>
<rect x="617.85" y="395.00" width="16.50" height="1.00" fill="#000" opacity="0.109337214367345"/>
<rect x="617.85" y="397.20" width="16.50" height="2.20" fill="#000" opacity="0.58"/>
<rect x="617.85" y="400.00" width="16.50" height="1.00" fill="#000" opacity="0.08374162593222928"/>
<rect x="617.85" y="401.00" width="16.50" height="1.00" fill="#000" opacity="0.10206042486806954"/>
<rect x="617.85" y="402.00" width="16.50" height="1.00" fill="#000" opacity="0.06608421780735357"/>
<rect x="617.85" y="403.00" width="16.50" height="1.00" fill="#000" opacity="0.09321763970453695"/>
<rect x="617.85" y="404.00" width="16.50" height="1.00" fill="#000" opacity="0.06569683146612743"/>
<rect x="617.85" y="405.00" width="16.50" height="1.00" fill="#000" opacity="0.05184689332917253"/>
<rect x="617.85" y="406.00" width="16.50" height="1.00" fill="#000" opacity="0.08041657656345766"/>
<rect x="617.85" y="407.00" width="16.50" height="1.00" fill="#000" opacity="0.08799212500736395"/>
<rect x="617.85" y="408.00" width="16.50" height="1.00" fill="#000" opacity="0.03509680374151049"/>
<rect x="617.85" y="409.00" width="16.50" height="1.00" fill="#000" opacity="0.06201882394092058"/>
<rect x="617.85" y="410.00" width="16.50" height="1.00" fill="#000" opacity="0.060946878798171705"/>
<rect x="617.85" y="411.00" width="16.50" height="1.00" fill="#000" opacity="0.03430872531419449"/>
<rect x="617.85" y="412.00" width="16.50" height="1.00" fill="#000" opacity="0.04087251320780064"/>
<rect x="617.85" y="413.00" width="16.50" height="1.00" fill="#000" opacity="0.02473216908164316"/>
<rect x="617.85" y="414.00" width="16.50" height="1.00" fill="#000" opacity="0.025988586246910885"/>
<rect x="617.85" y="415.00" width="16.50" height="1.00" fill="#000" opacity="0.026544820385382764"/>
<rect x="617.85" y="416.00" width="16.50" height="1.00" fill="#000" opacity="0.04471540215562066"/>
<rect x="617.85" y="417.00" width="16.50" height="1.00" fill="#000" opacity="0.045348569265285944"/>
<rect x="617.85" y="418.00" width="16.50" height="1.00" fill="#000" opacity="0.015956507391368016"/>
<rect x="617.85" y="419.00" width="16.50" height="1.00" fill="#000" opacity="0.0019327901984005115"/>
<rect x="617.85" y="412.50" width="16.50" height="2.00" fill="#000" opacity="0.1"/>
<rect x="579.00" y="290.00" width="14.00" height="1.00" fill="#000" opacity="0.08830162058676054"/>
<rect x="579.00" y="291.00" width="14.00" height="1.00" fill="#000" opacity="0.10669918440512235"/>
<rect x="579.00" y="292.00" width="14.00" height="1.00" fill="#000" opacity="0.07444203931039195"/>
<rect x="579.00" y="293.00" width="14.00" height="1.00" fill="#000" opacity="0.0793984106928812"/>
<rect x="579.00" y="294.00" width="14.00" height="1.00" fill="#000" opacity="0.07020446632719037"/>
<rect x="579.00" y="295.00" width="14.00" height="1.00" fill="#000" opacity="0.10305020341578261"/>
<rect x="579.00" y="296.00" width="14.00" height="1.00" fill="#000" opacity="0.0855493567164522"/>
<rect x="579.00" y="297.00" width="14.00" height="1.00" fill="#000" opacity="0.05379626471169444"/>
<rect x="579.00" y="298.00" width="14.00" height="1.00" fill="#000" opacity="0.05341659938109889"/>
<rect x="579.00" y="299.00" width="14.00" height="1.00" fill="#000" opacity="0.06838446942847162"/>
<rect x="579.00" y="300.00" width="14.00" height="1.00" fill="#000" opacity="0.07500825662369379"/>
<rect x="579.00" y="301.00" width="14.00" height="1.00" fill="#000" opacity="0.07768425007690859"/>
<rect x="579.00" y="302.00" width="14.00" height="1.00" fill="#000" opacity="0.042135822568214194"/>
<rect x="579.00" y="303.00" width="14.00" height="1.00" fill="#000" opacity="0.04382135909696167"/>
<rect x="579.00" y="304.00" width="14.00" height="1.00" fill="#000" opacity="0.07305768658918647"/>
</g></g>
<rect x="443.4" y="285.6" width="194.10000000000002" height="170.5" fill="none" stroke="#2a2a2a" stroke-width="1"/>
<defs><linearGradient id="gcc" x1="0" y1="0" x2="0" y2="1"><stop offset="0" stop-color="#e9e9e9"/><stop offset="1" stop-color="#f3f3f3"/></linearGradient><clipPath id="gccc"><rect x="443.4" y="459.2" width="195.60000000000002" height="17.0"/></clipPath></defs>
<rect x="443.40" y="459.20" width="195.60" height="17.00" fill="url(#gcc)" />
<g clip-path="url(#gccc)"><g filter="url(#bl)">
<rect x="446.85" y="466.70" width="16.50" height="4.20" fill="#000" opacity="0.8" rx="4.95" ry="2.10"/>
<rect x="466.55" y="466.90" width="18.50" height="4.60" fill="#000" opacity="0.93" rx="5.55" ry="2.30"/>
<rect x="488.85" y="466.90" width="16.50" height="4.40" fill="#000" opacity="0.92" rx="4.95" ry="2.20"/>
<rect x="508.70" y="466.40" width="18.00" height="5.10" fill="#000" opacity="0.98" rx="5.40" ry="2.55"/>
<rect x="531.20" y="466.70" width="17.00" height="4.40" fill="#000" opacity="0.93" rx="5.10" ry="2.20"/>
<rect x="553.25" y="466.70" width="16.50" height="4.40" fill="#000" opacity="0.92" rx="4.95" ry="2.20"/>
<rect x="574.05" y="466.60" width="17.50" height="4.50" fill="#000" opacity="0.95" rx="5.25" ry="2.25"/>
<rect x="595.50" y="465.90" width="17.00" height="4.50" fill="#000" opacity="0.95" rx="5.10" ry="2.25"/>
<rect x="616.65" y="464.90" width="18.50" height="4.80" fill="#000" opacity="0.98" rx="5.55" ry="2.40"/>
</g></g>
<rect x="443.4" y="459.2" width="195.60000000000002" height="17.0" fill="none" stroke="#2a2a2a" stroke-width="1"/>
<text x="0" y="0" transform="translate(408.49 312.40) scale(0.97 1)" font-size="12.6" fill="#000" stroke="#000" stroke-width="0.22" >170</text>
<text x="0" y="0" transform="translate(408.52 324.90) scale(0.97 1)" font-size="12.6" fill="#000" stroke="#000" stroke-width="0.22" >135</text>
<text x="0" y="0" transform="translate(408.49 336.50) scale(0.97 1)" font-size="12.6" fill="#000" stroke="#000" stroke-width="0.22" >100</text>
<text x="0" y="0" transform="translate(415.32 346.80) scale(0.97 1)" font-size="12.6" fill="#000" stroke="#000" stroke-width="0.22" >75</text>
<text x="0" y="0" transform="translate(415.28 364.30) scale(0.97 1)" font-size="12.6" fill="#000" stroke="#000" stroke-width="0.22" >60</text>
<text x="0" y="0" transform="translate(415.32 382.30) scale(0.97 1)" font-size="12.6" fill="#000" stroke="#000" stroke-width="0.22" >45</text>
<text x="0" y="0" transform="translate(415.32 409.40) scale(0.97 1)" font-size="12.6" fill="#000" stroke="#000" stroke-width="0.22" >35</text>
<text x="0" y="0" transform="translate(415.32 435.50) scale(0.97 1)" font-size="12.6" fill="#000" stroke="#000" stroke-width="0.22" >25</text>
<text x="0" y="0" transform="translate(414.72 467.40) scale(0.97 1)" font-size="12.6" fill="#000" stroke="#000" stroke-width="0.22" >45</text>
<line x1="435.70" y1="314.40" x2="443.40" y2="314.40" stroke="#6a6a6a" stroke-width="1" />
<line x1="435.70" y1="324.20" x2="443.40" y2="324.20" stroke="#6a6a6a" stroke-width="1" />
<line x1="435.70" y1="332.10" x2="443.40" y2="332.10" stroke="#6a6a6a" stroke-width="1" />
<line x1="435.70" y1="340.20" x2="443.40" y2="340.20" stroke="#6a6a6a" stroke-width="1" />
<line x1="435.70" y1="358.80" x2="443.40" y2="358.80" stroke="#6a6a6a" stroke-width="1" />
<line x1="435.70" y1="377.20" x2="443.40" y2="377.20" stroke="#6a6a6a" stroke-width="1" />
<line x1="435.70" y1="404.30" x2="443.40" y2="404.30" stroke="#6a6a6a" stroke-width="1" />
<line x1="435.70" y1="430.30" x2="443.40" y2="430.30" stroke="#6a6a6a" stroke-width="1" />
<line x1="437.20" y1="461.20" x2="443.40" y2="461.20" stroke="#6a6a6a" stroke-width="1" />
<text x="646.75" y="389.20" font-size="11.6" fill="#000" stroke="#000" stroke-width="0.22" >pTyr</text>
<text x="645.70" y="472.30" font-size="11.5" fill="#000" stroke="#000" stroke-width="0.22" >β-Actin</text>
<line x1="66.70" y1="525.50" x2="66.70" y2="665.40" stroke="#333" stroke-width="1.2" />
<line x1="61.00" y1="665.40" x2="276.60" y2="665.40" stroke="#333" stroke-width="1.2" />
<line x1="61.00" y1="665.40" x2="66.70" y2="665.40" stroke="#333" stroke-width="1.2" />
<line x1="61.00" y1="636.28" x2="66.70" y2="636.28" stroke="#333" stroke-width="1.2" />
<line x1="61.00" y1="607.16" x2="66.70" y2="607.16" stroke="#333" stroke-width="1.2" />
<line x1="61.00" y1="578.04" x2="66.70" y2="578.04" stroke="#333" stroke-width="1.2" />
<line x1="61.00" y1="548.92" x2="66.70" y2="548.92" stroke="#333" stroke-width="1.2" />
<line x1="66.70" y1="665.40" x2="66.70" y2="670.60" stroke="#333" stroke-width="1.2" />
<line x1="108.65" y1="665.40" x2="108.65" y2="670.60" stroke="#333" stroke-width="1.2" />
<line x1="150.60" y1="665.40" x2="150.60" y2="670.60" stroke="#333" stroke-width="1.2" />
<line x1="192.55" y1="665.40" x2="192.55" y2="670.60" stroke="#333" stroke-width="1.2" />
<line x1="234.50" y1="665.40" x2="234.50" y2="670.60" stroke="#333" stroke-width="1.2" />
<line x1="276.45" y1="665.40" x2="276.45" y2="670.60" stroke="#333" stroke-width="1.2" />
<text x="54.57" y="669.10" font-size="10.5" fill="#000" stroke="#000" stroke-width="0.22" >0</text>
<text x="48.76" y="639.98" font-size="10.5" fill="#000" stroke="#000" stroke-width="0.22" >25</text>
<text x="48.73" y="610.86" font-size="10.5" fill="#000" stroke="#000" stroke-width="0.22" >50</text>
<text x="48.76" y="581.74" font-size="10.5" fill="#000" stroke="#000" stroke-width="0.22" >75</text>
<text x="42.89" y="552.62" font-size="10.5" fill="#000" stroke="#000" stroke-width="0.22" >100</text>
<text x="63.78" y="682.00" font-size="10.5" fill="#000" stroke="#000" stroke-width="0.22" >0</text>
<text x="99.70" y="682.00" font-size="10.5" fill="#000" stroke="#000" stroke-width="0.22" >100</text>
<text x="141.78" y="682.00" font-size="10.5" fill="#000" stroke="#000" stroke-width="0.22" >200</text>
<text x="183.80" y="682.00" font-size="10.5" fill="#000" stroke="#000" stroke-width="0.22" >300</text>
<text x="225.83" y="682.00" font-size="10.5" fill="#000" stroke="#000" stroke-width="0.22" >400</text>
<text x="267.69" y="682.00" font-size="10.5" fill="#000" stroke="#000" stroke-width="0.22" >500</text>
<text x="38.80" y="595.50" font-size="11.5" fill="#000" stroke="#000" stroke-width="0.15" style="filter:none" text-anchor="middle" transform="rotate(-90 38.80 595.50) translate(0 4.14)">Survival (%)</text>
<text x="145.04" y="698.20" font-size="11.5" fill="#000" stroke="#000" stroke-width="0.22" >5-FU (nM)</text>
<polyline points="66.70,548.92 87.67,553.93 108.65,571.05 150.60,589.69 234.50,638.38" fill="none" stroke="#000" stroke-width="1" />
<polyline points="66.70,548.92 87.67,558.24 108.65,574.55 150.60,604.36 234.50,624.86" fill="none" stroke="#ee2222" stroke-width="1" />
<polyline points="66.70,548.92 87.67,571.05 108.65,570.47 150.60,609.49 234.50,651.07" fill="none" stroke="#2a8a2a" stroke-width="1" />
<line x1="87.67" y1="530.28" x2="87.67" y2="580.37" stroke="#000" stroke-width="1" />
<line x1="87.67" y1="530.28" x2="87.67" y2="530.28" stroke="#000" stroke-width="1" />
<line x1="87.67" y1="580.37" x2="87.67" y2="580.37" stroke="#000" stroke-width="1" />
<line x1="108.65" y1="544.26" x2="108.65" y2="606.00" stroke="#000" stroke-width="1" />
<line x1="108.65" y1="544.26" x2="108.65" y2="544.26" stroke="#000" stroke-width="1" />
<line x1="108.65" y1="606.00" x2="108.65" y2="606.00" stroke="#000" stroke-width="1" />
<line x1="150.60" y1="558.24" x2="150.60" y2="623.47" stroke="#000" stroke-width="1" />
<line x1="150.60" y1="558.24" x2="150.60" y2="558.24" stroke="#000" stroke-width="1" />
<line x1="150.60" y1="623.47" x2="150.60" y2="623.47" stroke="#000" stroke-width="1" />
<line x1="234.50" y1="623.47" x2="234.50" y2="658.41" stroke="#000" stroke-width="1" />
<line x1="234.50" y1="623.47" x2="234.50" y2="623.47" stroke="#000" stroke-width="1" />
<line x1="234.50" y1="658.41" x2="234.50" y2="658.41" stroke="#000" stroke-width="1" />
<line x1="234.50" y1="608.32" x2="234.50" y2="636.28" stroke="#ee2222" stroke-width="1" />
<line x1="231.50" y1="608.32" x2="237.50" y2="608.32" stroke="#ee2222" stroke-width="1" />
<line x1="231.50" y1="636.28" x2="237.50" y2="636.28" stroke="#ee2222" stroke-width="1" />
<line x1="108.65" y1="552.41" x2="108.65" y2="597.84" stroke="#2a8a2a" stroke-width="1" />
<line x1="105.65" y1="552.41" x2="111.65" y2="552.41" stroke="#2a8a2a" stroke-width="1" />
<line x1="105.65" y1="597.84" x2="111.65" y2="597.84" stroke="#2a8a2a" stroke-width="1" />
<line x1="150.60" y1="595.51" x2="150.60" y2="623.47" stroke="#2a8a2a" stroke-width="1" />
<line x1="147.60" y1="595.51" x2="153.60" y2="595.51" stroke="#2a8a2a" stroke-width="1" />
<line x1="147.60" y1="623.47" x2="153.60" y2="623.47" stroke="#2a8a2a" stroke-width="1" />
<circle cx="87.67" cy="530.28" r="2.9" fill="#000"/>
<circle cx="87.67" cy="541.93" r="2.9" fill="#000"/>
<circle cx="87.67" cy="566.39" r="2.9" fill="#000"/>
<circle cx="87.67" cy="580.37" r="2.9" fill="#000"/>
<circle cx="108.65" cy="544.26" r="2.9" fill="#000"/>
<circle cx="108.65" cy="555.91" r="2.9" fill="#000"/>
<circle cx="108.65" cy="580.37" r="2.9" fill="#000"/>
<circle cx="108.65" cy="606.00" r="2.9" fill="#000"/>
<circle cx="150.60" cy="558.24" r="2.9" fill="#000"/>
<circle cx="150.60" cy="566.39" r="2.9" fill="#000"/>
<circle cx="150.60" cy="608.79" r="2.9" fill="#000"/>
<circle cx="150.60" cy="624.17" r="2.9" fill="#000"/>
<circle cx="234.50" cy="623.00" r="2.9" fill="#000"/>
<circle cx="234.50" cy="636.28" r="2.9" fill="#000"/>
<circle cx="234.50" cy="640.59" r="2.9" fill="#000"/>
<circle cx="234.50" cy="658.18" r="2.9" fill="#000"/>
<rect x="84.88" y="536.80" width="5.60" height="5.60" fill="#ee2222" />
<rect x="84.88" y="551.94" width="5.60" height="5.60" fill="#ee2222" />
<rect x="84.88" y="569.42" width="5.60" height="5.60" fill="#ee2222" />
<rect x="84.88" y="572.91" width="5.60" height="5.60" fill="#ee2222" />
<rect x="105.85" y="546.12" width="5.60" height="5.60" fill="#ee2222" />
<rect x="105.85" y="575.24" width="5.60" height="5.60" fill="#ee2222" />
<rect x="105.85" y="581.06" width="5.60" height="5.60" fill="#ee2222" />
<rect x="105.85" y="584.56" width="5.60" height="5.60" fill="#ee2222" />
<rect x="147.80" y="575.24" width="5.60" height="5.60" fill="#ee2222" />
<rect x="147.80" y="584.67" width="5.60" height="5.60" fill="#ee2222" />
<rect x="147.80" y="599.35" width="5.60" height="5.60" fill="#ee2222" />
<rect x="147.80" y="616.94" width="5.60" height="5.60" fill="#ee2222" />
<rect x="231.70" y="597.25" width="5.60" height="5.60" fill="#ee2222" />
<rect x="231.70" y="625.33" width="5.60" height="5.60" fill="#ee2222" />
<rect x="231.70" y="628.24" width="5.60" height="5.60" fill="#ee2222" />
<polygon points="87.67,565.27 90.88,571.03 84.47,571.03" fill="#2a8a2a"/>
<polygon points="87.67,568.76 90.88,574.52 84.47,574.52" fill="#2a8a2a"/>
<polygon points="87.67,572.25 90.88,578.01 84.47,578.01" fill="#2a8a2a"/>
<polygon points="108.65,548.96 111.85,554.72 105.45,554.72" fill="#2a8a2a"/>
<polygon points="108.65,554.78 111.85,560.54 105.45,560.54" fill="#2a8a2a"/>
<polygon points="108.65,567.60 111.85,573.36 105.45,573.36" fill="#2a8a2a"/>
<polygon points="108.65,588.56 111.85,594.32 105.45,594.32" fill="#2a8a2a"/>
<polygon points="150.60,594.39 153.80,600.15 147.40,600.15" fill="#2a8a2a"/>
<polygon points="150.60,612.56 153.80,618.32 147.40,618.32" fill="#2a8a2a"/>
<polygon points="150.60,620.13 153.80,625.89 147.40,625.89" fill="#2a8a2a"/>
<polygon points="234.50,644.82 237.70,650.58 231.30,650.58" fill="#2a8a2a"/>
<polygon points="234.50,649.83 237.70,655.59 231.30,655.59" fill="#2a8a2a"/>
<polygon points="234.50,652.63 237.70,658.39 231.30,658.39" fill="#2a8a2a"/>
<rect x="63.90" y="546.12" width="5.60" height="5.60" fill="#ee2222" />
<polygon points="66.70,545.46 69.90,551.22 63.50,551.22" fill="#2a8a2a"/>
<line x1="158.60" y1="537.50" x2="172.80" y2="537.50" stroke="#000" stroke-width="1" />
<circle cx="165.80" cy="537.50" r="2.9" fill="#000"/>
<line x1="158.60" y1="555.00" x2="172.80" y2="555.00" stroke="#ee2222" stroke-width="1" />
<rect x="163.00" y="552.20" width="5.60" height="5.60" fill="#ee2222" />
<line x1="158.60" y1="571.50" x2="172.80" y2="571.50" stroke="#2a8a2a" stroke-width="1" />
<polygon points="165.80,568.04 169.00,573.80 162.60,573.80" fill="#2a8a2a"/>
<text x="180.71" y="541.50" font-size="11.5" fill="#000" stroke="#000" stroke-width="0.22" >Untransformed</text>
<text x="181.55" y="559.00" font-size="11.5" fill="#000" stroke="#000" stroke-width="0.22" >WT-Bcr-Abl</text>
<text x="181.34" y="575.50" font-size="11.5" fill="#000" stroke="#000" stroke-width="0.22" >T315I-Bcr-Abl</text>
<line x1="417.50" y1="524.20" x2="417.50" y2="663.70" stroke="#333" stroke-width="1.2" />
<line x1="412.00" y1="663.70" x2="627.30" y2="663.70" stroke="#333" stroke-width="1.2" />
<line x1="412.00" y1="663.70" x2="417.50" y2="663.70" stroke="#333" stroke-width="1.2" />
<line x1="412.00" y1="634.60" x2="417.50" y2="634.60" stroke="#333" stroke-width="1.2" />
<line x1="412.00" y1="605.50" x2="417.50" y2="605.50" stroke="#333" stroke-width="1.2" />
<line x1="412.00" y1="576.40" x2="417.50" y2="576.40" stroke="#333" stroke-width="1.2" />
<line x1="412.00" y1="547.30" x2="417.50" y2="547.30" stroke="#333" stroke-width="1.2" />
<line x1="417.50" y1="663.70" x2="417.50" y2="668.80" stroke="#333" stroke-width="1.2" />
<line x1="459.46" y1="663.70" x2="459.46" y2="668.80" stroke="#333" stroke-width="1.2" />
<line x1="501.42" y1="663.70" x2="501.42" y2="668.80" stroke="#333" stroke-width="1.2" />
<line x1="543.38" y1="663.70" x2="543.38" y2="668.80" stroke="#333" stroke-width="1.2" />
<line x1="585.34" y1="663.70" x2="585.34" y2="668.80" stroke="#333" stroke-width="1.2" />
<line x1="627.30" y1="663.70" x2="627.30" y2="668.80" stroke="#333" stroke-width="1.2" />
<text x="405.57" y="667.40" font-size="10.5" fill="#000" stroke="#000" stroke-width="0.22" >0</text>
<text x="399.76" y="638.30" font-size="10.5" fill="#000" stroke="#000" stroke-width="0.22" >25</text>
<text x="399.73" y="609.20" font-size="10.5" fill="#000" stroke="#000" stroke-width="0.22" >50</text>
<text x="399.76" y="580.10" font-size="10.5" fill="#000" stroke="#000" stroke-width="0.22" >75</text>
<text x="393.89" y="551.00" font-size="10.5" fill="#000" stroke="#000" stroke-width="0.22" >100</text>
<text x="410.20" y="681.50" font-size="10.5" fill="#000" stroke="#000" stroke-width="0.22" >0.0</text>
<text x="452.18" y="681.50" font-size="10.5" fill="#000" stroke="#000" stroke-width="0.22" >0.5</text>
<text x="493.93" y="681.50" font-size="10.5" fill="#000" stroke="#000" stroke-width="0.22" >1.0</text>
<text x="535.90" y="681.50" font-size="10.5" fill="#000" stroke="#000" stroke-width="0.22" >1.5</text>
<text x="577.98" y="681.50" font-size="10.5" fill="#000" stroke="#000" stroke-width="0.22" >2.0</text>
<text x="619.96" y="681.50" font-size="10.5" fill="#000" stroke="#000" stroke-width="0.22" >2.5</text>
<text x="389.90" y="594.60" font-size="11.5" fill="#000" stroke="#000" stroke-width="0.15" style="filter:none" text-anchor="middle" transform="rotate(-90 389.90 594.60) translate(0 4.14)">Survival (%)</text>
<text x="497.38" y="698.20" font-size="11.3" fill="#000" stroke="#000" stroke-width="0.22" >AraC(<tspan style="font-family:&quot;Liberation Serif&quot;, serif">μ</tspan>M)</text>
<polyline points="417.50,547.30 438.48,614.35 459.46,641.35 501.42,655.55 585.34,660.21" fill="none" stroke="#000" stroke-width="1" />
<polyline points="417.50,547.30 438.48,578.73 459.46,618.30 501.42,649.15 585.34,661.37" fill="none" stroke="#ee2222" stroke-width="1" />
<polyline points="417.50,547.30 438.48,581.41 459.46,643.21 501.42,659.04 585.34,662.54" fill="none" stroke="#2a8a2a" stroke-width="1" />
<line x1="438.48" y1="546.14" x2="438.48" y2="653.22" stroke="#000" stroke-width="1" />
<line x1="435.48" y1="546.14" x2="441.48" y2="546.14" stroke="#000" stroke-width="1" />
<line x1="435.48" y1="653.22" x2="441.48" y2="653.22" stroke="#000" stroke-width="1" />
<line x1="459.46" y1="606.66" x2="459.46" y2="620.63" stroke="#ee2222" stroke-width="1" />
<line x1="456.46" y1="606.66" x2="462.46" y2="606.66" stroke="#ee2222" stroke-width="1" />
<line x1="456.46" y1="620.63" x2="462.46" y2="620.63" stroke="#ee2222" stroke-width="1" />
<line x1="438.48" y1="558.94" x2="438.48" y2="605.50" stroke="#2a8a2a" stroke-width="1" />
<line x1="435.48" y1="558.94" x2="441.48" y2="558.94" stroke="#2a8a2a" stroke-width="1" />
<line x1="435.48" y1="605.50" x2="441.48" y2="605.50" stroke="#2a8a2a" stroke-width="1" />
<line x1="459.46" y1="626.45" x2="459.46" y2="653.22" stroke="#000" stroke-width="1" />
<line x1="459.46" y1="626.45" x2="459.46" y2="626.45" stroke="#000" stroke-width="1" />
<line x1="459.46" y1="653.22" x2="459.46" y2="653.22" stroke="#000" stroke-width="1" />
<circle cx="438.48" cy="570.58" r="2.9" fill="#000"/>
<circle cx="438.48" cy="634.60" r="2.9" fill="#000"/>
<circle cx="438.48" cy="640.42" r="2.9" fill="#000"/>
<circle cx="459.46" cy="626.57" r="2.9" fill="#000"/>
<circle cx="459.46" cy="629.94" r="2.9" fill="#000"/>
<circle cx="459.46" cy="653.22" r="2.9" fill="#000"/>
<circle cx="501.42" cy="649.73" r="2.9" fill="#000"/>
<circle cx="501.42" cy="653.22" r="2.9" fill="#000"/>
<circle cx="585.34" cy="656.72" r="2.9" fill="#000"/>
<circle cx="585.34" cy="658.46" r="2.9" fill="#000"/>
<rect x="435.68" y="543.34" width="5.60" height="5.60" fill="#ee2222" />
<rect x="435.68" y="575.93" width="5.60" height="5.60" fill="#ee2222" />
<rect x="435.68" y="608.52" width="5.60" height="5.60" fill="#ee2222" />
<rect x="456.66" y="606.19" width="5.60" height="5.60" fill="#ee2222" />
<rect x="456.66" y="610.85" width="5.60" height="5.60" fill="#ee2222" />
<rect x="456.66" y="614.34" width="5.60" height="5.60" fill="#ee2222" />
<rect x="456.66" y="632.96" width="5.60" height="5.60" fill="#ee2222" />
<rect x="498.62" y="643.79" width="5.60" height="5.60" fill="#ee2222" />
<rect x="582.54" y="658.57" width="5.60" height="5.60" fill="#ee2222" />
<polygon points="438.48,555.48 441.68,561.24 435.28,561.24" fill="#2a8a2a"/>
<polygon points="438.48,592.73 441.68,598.49 435.28,598.49" fill="#2a8a2a"/>
<polygon points="438.48,596.22 441.68,601.98 435.28,601.98" fill="#2a8a2a"/>
<polygon points="459.46,633.12 462.66,638.88 456.26,638.88" fill="#2a8a2a"/>
<polygon points="459.46,639.29 462.66,645.05 456.26,645.05" fill="#2a8a2a"/>
<polygon points="459.46,646.28 462.66,652.04 456.26,652.04" fill="#2a8a2a"/>
<polygon points="501.42,655.59 504.62,661.35 498.22,661.35" fill="#2a8a2a"/>
<polygon points="501.42,656.75 504.62,662.51 498.22,662.51" fill="#2a8a2a"/>
<polygon points="585.34,659.08 588.54,664.84 582.14,664.84" fill="#2a8a2a"/>
<rect x="414.70" y="544.50" width="5.60" height="5.60" fill="#ee2222" />
<circle cx="417.50" cy="547.30" r="2.9" fill="#000"/>
<line x1="520.40" y1="534.40" x2="533.90" y2="534.40" stroke="#000" stroke-width="1" />
<circle cx="527.30" cy="534.40" r="2.9" fill="#000"/>
<line x1="520.40" y1="553.30" x2="533.90" y2="553.30" stroke="#ee2222" stroke-width="1" />
<rect x="524.50" y="550.50" width="5.60" height="5.60" fill="#ee2222" />
<line x1="520.40" y1="569.40" x2="533.90" y2="569.40" stroke="#2a8a2a" stroke-width="1" />
<polygon points="527.30,565.94 530.50,571.70 524.10,571.70" fill="#2a8a2a"/>
<text x="542.61" y="538.40" font-size="11.5" fill="#000" stroke="#000" stroke-width="0.22" >Untransformed</text>
<text x="543.45" y="557.30" font-size="11.5" fill="#000" stroke="#000" stroke-width="0.22" >WT-Bcr-Abl</text>
<text x="543.24" y="573.40" font-size="11.5" fill="#000" stroke="#000" stroke-width="0.22" >T315I-Bcr-Abl</text>
<g transform="translate(0 0)">
<polygon points="9.17,726.50 12.04,729.82 14.71,734.90 16.82,739.84 19.08,744.08 21.78,747.66 24.91,750.73 28.85,753.79 32.93,756.26 37.52,758.31 43.03,760.23 43.97,757.37 38.48,755.69 34.07,753.94 30.15,751.81 26.29,749.07 23.22,746.34 20.52,743.12 18.18,739.16 15.89,734.30 12.96,729.18 9.83,725.90" fill="#c4b4ac" stroke="#5e524c" stroke-width="0.45" stroke-linejoin="round"/>
<path d="M43.80,757.60 C44.32,756.03 45.55,754.03 47.50,752.60 C49.45,751.17 52.72,749.72 55.50,749.00 C58.28,748.28 61.70,748.37 64.20,748.30 C66.70,748.23 68.62,748.98 70.50,748.60 C72.38,748.22 73.67,746.45 75.50,746.00 C77.33,745.55 79.75,745.40 81.50,745.90 C83.25,746.40 84.82,747.83 86.00,749.00 C87.18,750.17 88.43,751.80 88.60,752.90 C88.77,754.00 87.67,754.65 87.00,755.60 C86.33,756.55 85.23,757.43 84.60,758.60 C83.97,759.77 83.72,761.33 83.20,762.60 C82.68,763.87 82.47,765.13 81.50,766.20 C80.53,767.27 79.32,768.30 77.40,769.00 C75.48,769.70 72.68,770.13 70.00,770.40 C67.32,770.67 63.88,770.75 61.30,770.60 C58.72,770.45 56.68,770.23 54.50,769.50 C52.32,768.77 49.88,767.45 48.20,766.20 C46.52,764.95 45.13,763.43 44.40,762.00 C43.67,760.57 43.28,759.17 43.80,757.60 Z" fill="#7c5d50" stroke="#4a3a34" stroke-width="0.5"/>
<path d="M75.5,747.2 C76,745 78.5,744.3 80.5,745.6 C79,746.2 77.5,746.8 75.5,747.2 Z" fill="#c06868"/>
<circle cx="73.8" cy="753.5" r="4.8" fill="#cf8080"/>
<ellipse cx="75.2" cy="754.8" rx="2.2" ry="2.6" fill="#a8485a"/>
<circle cx="80.4" cy="752.1" r="1.5" fill="#111"/><circle cx="80.8" cy="751.7" r="0.5" fill="#fff"/>
<circle cx="88.4" cy="752.9" r="0.9" fill="#e07060"/>
<path d="M87.8,752 L94.3,744.2 M88.8,752.5 L95,745.5" stroke="#333" stroke-width="0.45" fill="none"/>
<path d="M85,757.5 C86.5,758.5 86.5,761 84.5,762" stroke="#ddd" stroke-width="0.9" fill="none"/>
<ellipse cx="57.7" cy="767.8" rx="2" ry="1.5" fill="#d9c27e"/>
<ellipse cx="79.6" cy="769.6" rx="1.8" ry="1.3" fill="#d9c27e"/>
<ellipse cx="84.6" cy="766.1" rx="2" ry="1.2" fill="#d9c27e"/>
</g>
<text x="27.58" y="731.80" font-size="6.3" fill="#000" stroke="#000" stroke-width="0" >C3H</text>
<text x="98.00" y="753.80" font-size="9" font-weight="bold" fill="#4d7a35" stroke="#4d7a35" stroke-width="0" textLength="35.4" lengthAdjust="spacingAndGlyphs">Tail vein</text>
<text x="88.34" y="764.10" font-size="9" fill="#222" stroke="#222" stroke-width="0.22" >(5x10</text>
<text x="111.49" y="761.40" font-size="5.3" fill="#444" stroke="#444" stroke-width="0" >5</text>
<text x="117.02" y="764.10" font-size="9" fill="#222" stroke="#222" stroke-width="0.22" >cells)</text>
<polygon points="141.5,744.3 159.0,744.3 159.0,737.8 171.3,750.25 159.0,762.7 159.0,756.2 141.5,756.2" fill="#4a72c8"/>
<text x="146.66" y="753.90" font-size="9.2" font-weight="bold" fill="#fff" stroke="#fff" stroke-width="0" textLength="16" lengthAdjust="spacingAndGlyphs">48 h</text>
<polygon points="173.3,744.8 269.7,744.8 269.7,737.9 281.8,750.4 269.7,762.9 269.7,756.6 173.3,756.6" fill="#4a72c8"/>
<text x="177.55" y="755.00" font-size="10.2" font-weight="bold" fill="#fff" stroke="#fff" stroke-width="0" textLength="101.5" lengthAdjust="spacingAndGlyphs">24 hr intervals for 14 days</text>
<text x="173.27" y="741.20" font-size="9.4" font-weight="bold" fill="#4d7a35" stroke="#4d7a35" stroke-width="0" >Intrapentoneal</text>
<text x="167.18" y="769.20" font-size="9.6" fill="#333" stroke="#333" stroke-width="0.22" textLength="112" lengthAdjust="spacingAndGlyphs" xml:space="preserve">TMPK inhibitor  5mg/kg/time</text>
<text x="120.25" y="793.20" font-size="11.6" fill="#000" stroke="#000" stroke-width="0.22" >WT-Bcr-Abl-32D</text>
<line x1="80.30" y1="812.90" x2="80.30" y2="952.20" stroke="#333" stroke-width="1.2" />
<line x1="80.30" y1="952.20" x2="289.70" y2="952.20" stroke="#333" stroke-width="1.2" />
<line x1="75.80" y1="951.90" x2="80.30" y2="951.90" stroke="#333" stroke-width="1.2" />
<line x1="75.80" y1="926.65" x2="80.30" y2="926.65" stroke="#333" stroke-width="1.2" />
<line x1="75.80" y1="901.40" x2="80.30" y2="901.40" stroke="#333" stroke-width="1.2" />
<line x1="75.80" y1="876.15" x2="80.30" y2="876.15" stroke="#333" stroke-width="1.2" />
<line x1="75.80" y1="850.90" x2="80.30" y2="850.90" stroke="#333" stroke-width="1.2" />
<line x1="75.80" y1="825.65" x2="80.30" y2="825.65" stroke="#333" stroke-width="1.2" />
<line x1="80.30" y1="952.20" x2="80.30" y2="957.20" stroke="#333" stroke-width="1.2" />
<line x1="132.64" y1="952.20" x2="132.64" y2="957.20" stroke="#333" stroke-width="1.2" />
<line x1="184.98" y1="952.20" x2="184.98" y2="957.20" stroke="#333" stroke-width="1.2" />
<line x1="237.32" y1="952.20" x2="237.32" y2="957.20" stroke="#333" stroke-width="1.2" />
<line x1="289.66" y1="952.20" x2="289.66" y2="957.20" stroke="#333" stroke-width="1.2" />
<text x="70.07" y="955.60" font-size="10.5" fill="#000" stroke="#000" stroke-width="0.22" >0</text>
<text x="64.23" y="930.35" font-size="10.5" fill="#000" stroke="#000" stroke-width="0.22" >20</text>
<text x="64.23" y="905.10" font-size="10.5" fill="#000" stroke="#000" stroke-width="0.22" >40</text>
<text x="64.23" y="879.85" font-size="10.5" fill="#000" stroke="#000" stroke-width="0.22" >60</text>
<text x="64.23" y="854.60" font-size="10.5" fill="#000" stroke="#000" stroke-width="0.22" >80</text>
<text x="58.39" y="829.35" font-size="10.5" fill="#000" stroke="#000" stroke-width="0.22" >100</text>
<text x="77.38" y="967.70" font-size="10.5" fill="#000" stroke="#000" stroke-width="0.22" >0</text>
<text x="126.74" y="967.70" font-size="10.5" fill="#000" stroke="#000" stroke-width="0.22" >20</text>
<text x="179.22" y="967.70" font-size="10.5" fill="#000" stroke="#000" stroke-width="0.22" >40</text>
<text x="231.42" y="967.70" font-size="10.5" fill="#000" stroke="#000" stroke-width="0.22" >60</text>
<text x="283.80" y="967.70" font-size="10.5" fill="#000" stroke="#000" stroke-width="0.22" >80</text>
<text x="47.60" y="882.00" font-size="11.5" fill="#000" stroke="#000" stroke-width="0.15" style="filter:none" text-anchor="middle" transform="rotate(-90 47.60 882.00) translate(0 4.14)">Survival (%)</text>
<text x="171.77" y="981.30" font-size="11.3" fill="#000" stroke="#000" stroke-width="0.22" >Days</text>
<polyline points="80.30,825.65 166.66,825.65 166.66,843.58 171.89,843.58 171.89,861.76 184.98,861.76 184.98,915.79 205.92,915.79 205.92,933.85 258.26,933.85" fill="none" stroke="#ee2222" stroke-width="2" />
<line x1="258.26" y1="931.85" x2="258.26" y2="934.85" stroke="#222" stroke-width="1" />
<polyline points="143.11,825.65 143.11,879.81 158.81,879.81 158.81,897.74 164.04,897.74 164.04,915.79 171.89,915.79 171.89,933.85 174.51,933.85 174.51,951.90" fill="none" stroke="#000" stroke-width="1.8" stroke-dasharray="5 2 1.5 2"/>
<text x="93.93" y="904.60" font-size="10.5" fill="#000" stroke="#000" stroke-width="0.22" >**</text>
<text x="102.19" y="905.80" font-size="11.5" font-style="italic" fill="#000" stroke="#000" stroke-width="0.22" >p</text>
<text x="111.54" y="905.80" font-size="11.5" fill="#000" stroke="#000" stroke-width="0.22" >=</text>
<text x="121.65" y="905.80" font-size="11.5" fill="#000" stroke="#000" stroke-width="0.22" >0.0025</text>
<polyline points="239.30,816.10 251.40,816.10" fill="none" stroke="#000" stroke-width="1.8" stroke-dasharray="5 2 1.5 2"/>
<text x="263.45" y="820.00" font-size="11.3" fill="#000" stroke="#000" stroke-width="0.22" >Vehicle</text>
<line x1="240.10" y1="831.80" x2="255.00" y2="831.80" stroke="#ee2222" stroke-width="2" />
<line x1="247.60" y1="829.00" x2="247.60" y2="832.00" stroke="#222" stroke-width="1" />
<text x="263.62" y="835.80" font-size="11.3" fill="#000" stroke="#000" stroke-width="0.22" >JMF4073</text>
<g transform="translate(345.2 0)">
<polygon points="9.17,726.50 12.04,729.82 14.71,734.90 16.82,739.84 19.08,744.08 21.78,747.66 24.91,750.73 28.85,753.79 32.93,756.26 37.52,758.31 43.03,760.23 43.97,757.37 38.48,755.69 34.07,753.94 30.15,751.81 26.29,749.07 23.22,746.34 20.52,743.12 18.18,739.16 15.89,734.30 12.96,729.18 9.83,725.90" fill="#c4b4ac" stroke="#5e524c" stroke-width="0.45" stroke-linejoin="round"/>
<path d="M43.80,757.60 C44.32,756.03 45.55,754.03 47.50,752.60 C49.45,751.17 52.72,749.72 55.50,749.00 C58.28,748.28 61.70,748.37 64.20,748.30 C66.70,748.23 68.62,748.98 70.50,748.60 C72.38,748.22 73.67,746.45 75.50,746.00 C77.33,745.55 79.75,745.40 81.50,745.90 C83.25,746.40 84.82,747.83 86.00,749.00 C87.18,750.17 88.43,751.80 88.60,752.90 C88.77,754.00 87.67,754.65 87.00,755.60 C86.33,756.55 85.23,757.43 84.60,758.60 C83.97,759.77 83.72,761.33 83.20,762.60 C82.68,763.87 82.47,765.13 81.50,766.20 C80.53,767.27 79.32,768.30 77.40,769.00 C75.48,769.70 72.68,770.13 70.00,770.40 C67.32,770.67 63.88,770.75 61.30,770.60 C58.72,770.45 56.68,770.23 54.50,769.50 C52.32,768.77 49.88,767.45 48.20,766.20 C46.52,764.95 45.13,763.43 44.40,762.00 C43.67,760.57 43.28,759.17 43.80,757.60 Z" fill="#7c5d50" stroke="#4a3a34" stroke-width="0.5"/>
<path d="M75.5,747.2 C76,745 78.5,744.3 80.5,745.6 C79,746.2 77.5,746.8 75.5,747.2 Z" fill="#c06868"/>
<circle cx="73.8" cy="753.5" r="4.8" fill="#cf8080"/>
<ellipse cx="75.2" cy="754.8" rx="2.2" ry="2.6" fill="#a8485a"/>
<circle cx="80.4" cy="752.1" r="1.5" fill="#111"/><circle cx="80.8" cy="751.7" r="0.5" fill="#fff"/>
<circle cx="88.4" cy="752.9" r="0.9" fill="#e07060"/>
<path d="M87.8,752 L94.3,744.2 M88.8,752.5 L95,745.5" stroke="#333" stroke-width="0.45" fill="none"/>
<path d="M85,757.5 C86.5,758.5 86.5,761 84.5,762" stroke="#ddd" stroke-width="0.9" fill="none"/>
<ellipse cx="57.7" cy="767.8" rx="2" ry="1.5" fill="#d9c27e"/>
<ellipse cx="79.6" cy="769.6" rx="1.8" ry="1.3" fill="#d9c27e"/>
<ellipse cx="84.6" cy="766.1" rx="2" ry="1.2" fill="#d9c27e"/>
</g>
<text x="372.48" y="732.50" font-size="6.3" fill="#000" stroke="#000" stroke-width="0" >C3H</text>
<text x="444.40" y="756.80" font-size="9" font-weight="bold" fill="#4d7a35" stroke="#4d7a35" stroke-width="0" textLength="35.6" lengthAdjust="spacingAndGlyphs">Tail vein</text>
<text x="436.04" y="766.70" font-size="9" fill="#222" stroke="#222" stroke-width="0.22" >(1x10</text>
<text x="459.03" y="764.00" font-size="5.3" fill="#444" stroke="#444" stroke-width="0" >6</text>
<text x="463.32" y="766.70" font-size="9" fill="#222" stroke="#222" stroke-width="0.22" >cells)</text>
<polygon points="485.8,746.5 505.2,746.5 505.2,740.2 517.4,752.7 505.2,765.2 505.2,758.9 485.8,758.9" fill="#e07a32"/>
<text x="489.40" y="756.30" font-size="9.4" font-weight="bold" fill="#fff" stroke="#fff" stroke-width="0" textLength="26.4" lengthAdjust="spacingAndGlyphs">7 days</text>
<polygon points="520.2,746.5 616.2,746.5 616.2,740.2 628.3,752.7 616.2,765.2 616.2,758.9 520.2,758.9" fill="#e07a32"/>
<text x="524.05" y="756.30" font-size="10.2" font-weight="bold" fill="#fff" stroke="#fff" stroke-width="0" textLength="102" lengthAdjust="spacingAndGlyphs">24 hr intervals for 14 days</text>
<text x="520.27" y="742.80" font-size="9.4" font-weight="bold" fill="#4d7a35" stroke="#4d7a35" stroke-width="0" >Intraperitoneal</text>
<text x="514.38" y="773.20" font-size="9.6" fill="#333" stroke="#333" stroke-width="0.22" textLength="111" lengthAdjust="spacingAndGlyphs" xml:space="preserve">TMPK inhibitor  5mg/kg/time</text>
<text x="452.34" y="798.40" font-size="11.5" fill="#000" stroke="#000" stroke-width="0.22" >T315I-Bcr-Abl-32D</text>
<line x1="416.50" y1="817.70" x2="416.50" y2="956.90" stroke="#333" stroke-width="1.2" />
<line x1="416.50" y1="956.90" x2="576.50" y2="956.90" stroke="#333" stroke-width="1.2" />
<line x1="585.50" y1="956.90" x2="626.50" y2="956.90" stroke="#333" stroke-width="1.2" />
<line x1="411.50" y1="956.90" x2="416.50" y2="956.90" stroke="#333" stroke-width="1.2" />
<line x1="411.50" y1="931.65" x2="416.50" y2="931.65" stroke="#333" stroke-width="1.2" />
<line x1="411.50" y1="906.40" x2="416.50" y2="906.40" stroke="#333" stroke-width="1.2" />
<line x1="411.50" y1="881.15" x2="416.50" y2="881.15" stroke="#333" stroke-width="1.2" />
<line x1="411.50" y1="855.90" x2="416.50" y2="855.90" stroke="#333" stroke-width="1.2" />
<line x1="411.50" y1="830.65" x2="416.50" y2="830.65" stroke="#333" stroke-width="1.2" />
<line x1="416.50" y1="956.90" x2="416.50" y2="961.80" stroke="#333" stroke-width="1.2" />
<line x1="469.84" y1="956.90" x2="469.84" y2="961.80" stroke="#333" stroke-width="1.2" />
<line x1="523.18" y1="956.90" x2="523.18" y2="961.80" stroke="#333" stroke-width="1.2" />
<line x1="576.52" y1="956.90" x2="576.52" y2="961.80" stroke="#333" stroke-width="1.2" />
<line x1="586.80" y1="956.90" x2="586.80" y2="961.80" stroke="#333" stroke-width="1.2" />
<line x1="606.40" y1="956.90" x2="606.40" y2="961.80" stroke="#333" stroke-width="1.2" />
<line x1="626.50" y1="956.90" x2="626.50" y2="961.80" stroke="#333" stroke-width="1.2" />
<line x1="574.30" y1="959.60" x2="580.10" y2="953.90" stroke="#333" stroke-width="1" />
<line x1="583.90" y1="959.60" x2="589.60" y2="953.90" stroke="#333" stroke-width="1" />
<text x="405.37" y="960.60" font-size="10.5" fill="#000" stroke="#000" stroke-width="0.22" >0</text>
<text x="399.53" y="935.35" font-size="10.5" fill="#000" stroke="#000" stroke-width="0.22" >20</text>
<text x="399.53" y="910.10" font-size="10.5" fill="#000" stroke="#000" stroke-width="0.22" >40</text>
<text x="399.53" y="884.85" font-size="10.5" fill="#000" stroke="#000" stroke-width="0.22" >60</text>
<text x="399.53" y="859.60" font-size="10.5" fill="#000" stroke="#000" stroke-width="0.22" >80</text>
<text x="393.69" y="834.35" font-size="10.5" fill="#000" stroke="#000" stroke-width="0.22" >100</text>
<text x="413.58" y="973.70" font-size="10.5" fill="#000" stroke="#000" stroke-width="0.22" >0</text>
<text x="463.94" y="973.70" font-size="10.5" fill="#000" stroke="#000" stroke-width="0.22" >20</text>
<text x="517.42" y="973.70" font-size="10.5" fill="#000" stroke="#000" stroke-width="0.22" >40</text>
<text x="570.62" y="973.70" font-size="10.5" fill="#000" stroke="#000" stroke-width="0.22" >60</text>
<text x="617.45" y="973.70" font-size="10.5" fill="#000" stroke="#000" stroke-width="0.22" >100</text>
<text x="381.80" y="887.00" font-size="11.5" fill="#000" stroke="#000" stroke-width="0.15" style="filter:none" text-anchor="middle" transform="rotate(-90 381.80 887.00) translate(0 4.14)">Survival (%)</text>
<text x="508.17" y="987.20" font-size="11.3" fill="#000" stroke="#000" stroke-width="0.22" >Days</text>
<polyline points="416.50,830.65 480.90,830.65 480.90,848.70 483.30,848.70 483.30,866.76 489.00,866.76 489.00,884.81 497.10,884.81 497.10,920.79 576.50,920.79" fill="none" stroke="#ee2222" stroke-width="2" />
<polyline points="587.70,920.79 587.70,938.85 611.20,938.85 611.20,956.90" fill="none" stroke="#ee2222" stroke-width="2" />
<line x1="576.50" y1="920.79" x2="587.70" y2="920.79" stroke="#ee2222" stroke-width="2" />
<polygon points="575.5,926.1 583.2,913.7 588.7,913.7 581,926.1" fill="#fff"/>
<line x1="574.90" y1="926.10" x2="582.60" y2="913.70" stroke="#333" stroke-width="1" />
<line x1="580.10" y1="926.10" x2="588.70" y2="913.70" stroke="#333" stroke-width="1" />
<polyline points="416.50,830.65 472.50,830.65 472.50,848.70 475.20,848.70 475.20,866.76 482.60,866.76 482.60,884.81 493.70,884.81 493.70,920.79 498.50,920.79 498.50,938.85 501.20,938.85 501.20,956.90" fill="none" stroke="#000" stroke-width="1.8" stroke-dasharray="5 2 1.5 2"/>
<text x="436.28" y="892.50" font-size="11.3" font-style="italic" fill="#000" stroke="#000" stroke-width="0.22" >p</text>
<text x="440.59" y="892.50" font-size="11.3" fill="#000" stroke="#000" stroke-width="0.22" >=0.2811</text>
<polyline points="583.90,822.00 595.40,822.00" fill="none" stroke="#000" stroke-width="1.8" stroke-dasharray="5 2 1.5 2"/>
<text x="608.15" y="826.00" font-size="11.3" fill="#000" stroke="#000" stroke-width="0.22" >Vehicle</text>
<line x1="584.50" y1="840.50" x2="599.20" y2="840.50" stroke="#ee2222" stroke-width="2" />
<line x1="591.80" y1="837.70" x2="591.80" y2="840.70" stroke="#222" stroke-width="1" />
<text x="608.02" y="844.50" font-size="11.3" fill="#000" stroke="#000" stroke-width="0.22" >JMF 4073</text>
</svg>
</body></html>
